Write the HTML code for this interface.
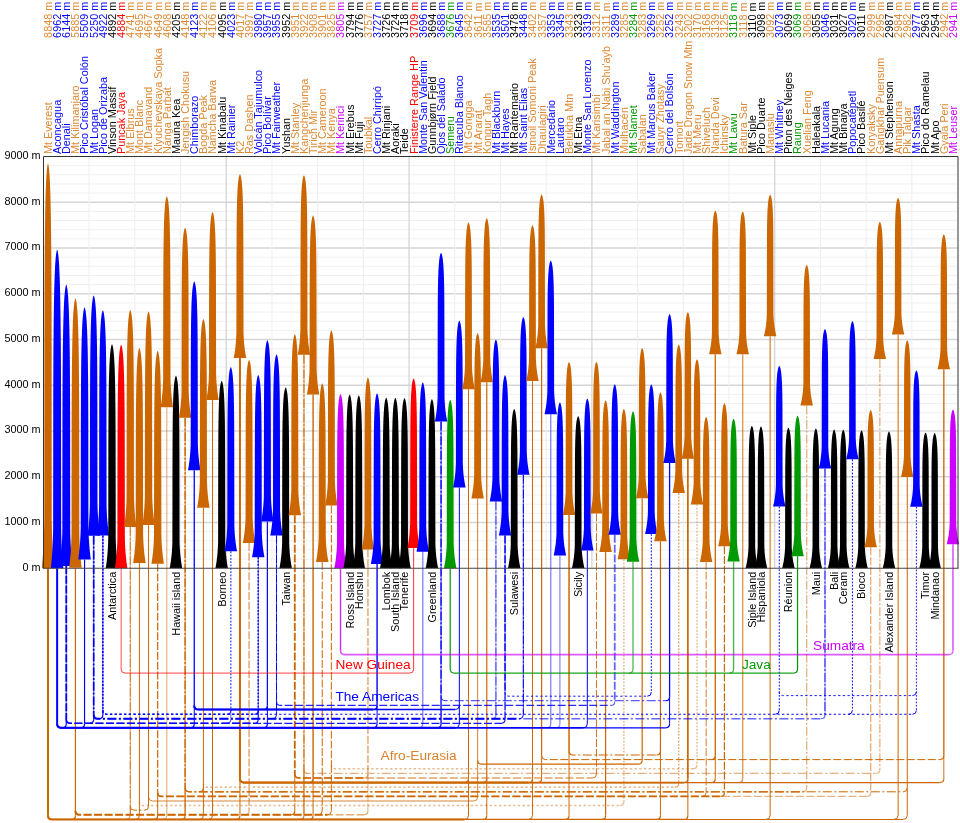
<!DOCTYPE html>
<html lang="en"><head><meta charset="utf-8"><title>100 most prominent mountains</title>
<style>html,body{margin:0;padding:0;background:#fff}svg{display:block}text{font-family:"Liberation Sans",Arial,Helvetica,sans-serif}.s{font-size:10.85px}.b{font-size:13.7px}</style></head><body>
<svg width="960" height="823" viewBox="0 0 960 823">
<rect width="960" height="823" fill="#fff"/>
<g fill="none"><path d="M43.5 559.1H958" stroke="#f0f0f0" stroke-width="1"/><path d="M43.5 549.95H958" stroke="#f0f0f0" stroke-width="1"/><path d="M43.5 540.8H958" stroke="#f0f0f0" stroke-width="1"/><path d="M43.5 531.65H958" stroke="#f0f0f0" stroke-width="1"/><path d="M43.5 522.5H958" stroke="#d6d6d6" stroke-width="1.3"/><path d="M43.5 513.35H958" stroke="#f0f0f0" stroke-width="1"/><path d="M43.5 504.2H958" stroke="#f0f0f0" stroke-width="1"/><path d="M43.5 495.05H958" stroke="#f0f0f0" stroke-width="1"/><path d="M43.5 485.9H958" stroke="#f0f0f0" stroke-width="1"/><path d="M43.5 476.75H958" stroke="#d6d6d6" stroke-width="1.3"/><path d="M43.5 467.6H958" stroke="#f0f0f0" stroke-width="1"/><path d="M43.5 458.45H958" stroke="#f0f0f0" stroke-width="1"/><path d="M43.5 449.3H958" stroke="#f0f0f0" stroke-width="1"/><path d="M43.5 440.15H958" stroke="#f0f0f0" stroke-width="1"/><path d="M43.5 431H958" stroke="#d6d6d6" stroke-width="1.3"/><path d="M43.5 421.85H958" stroke="#f0f0f0" stroke-width="1"/><path d="M43.5 412.7H958" stroke="#f0f0f0" stroke-width="1"/><path d="M43.5 403.55H958" stroke="#f0f0f0" stroke-width="1"/><path d="M43.5 394.4H958" stroke="#f0f0f0" stroke-width="1"/><path d="M43.5 385.25H958" stroke="#d6d6d6" stroke-width="1.3"/><path d="M43.5 376.1H958" stroke="#f0f0f0" stroke-width="1"/><path d="M43.5 366.95H958" stroke="#f0f0f0" stroke-width="1"/><path d="M43.5 357.8H958" stroke="#f0f0f0" stroke-width="1"/><path d="M43.5 348.65H958" stroke="#f0f0f0" stroke-width="1"/><path d="M43.5 339.5H958" stroke="#d6d6d6" stroke-width="1.3"/><path d="M43.5 330.35H958" stroke="#f0f0f0" stroke-width="1"/><path d="M43.5 321.2H958" stroke="#f0f0f0" stroke-width="1"/><path d="M43.5 312.05H958" stroke="#f0f0f0" stroke-width="1"/><path d="M43.5 302.9H958" stroke="#f0f0f0" stroke-width="1"/><path d="M43.5 293.75H958" stroke="#d6d6d6" stroke-width="1.3"/><path d="M43.5 284.6H958" stroke="#f0f0f0" stroke-width="1"/><path d="M43.5 275.45H958" stroke="#f0f0f0" stroke-width="1"/><path d="M43.5 266.3H958" stroke="#f0f0f0" stroke-width="1"/><path d="M43.5 257.15H958" stroke="#f0f0f0" stroke-width="1"/><path d="M43.5 248H958" stroke="#d6d6d6" stroke-width="1.3"/><path d="M43.5 238.85H958" stroke="#f0f0f0" stroke-width="1"/><path d="M43.5 229.7H958" stroke="#f0f0f0" stroke-width="1"/><path d="M43.5 220.55H958" stroke="#f0f0f0" stroke-width="1"/><path d="M43.5 211.4H958" stroke="#f0f0f0" stroke-width="1"/><path d="M43.5 202.25H958" stroke="#d6d6d6" stroke-width="1.3"/><path d="M43.5 193.1H958" stroke="#f0f0f0" stroke-width="1"/><path d="M43.5 183.95H958" stroke="#f0f0f0" stroke-width="1"/><path d="M43.5 174.8H958" stroke="#f0f0f0" stroke-width="1"/><path d="M43.5 165.65H958" stroke="#f0f0f0" stroke-width="1"/><path d="M89.13 156.5V568.25" stroke="#efefef" stroke-width="1.1"/><path d="M134.84 156.5V568.25" stroke="#efefef" stroke-width="1.1"/><path d="M180.54 156.5V568.25" stroke="#efefef" stroke-width="1.1"/><path d="M226.25 156.5V568.25" stroke="#d2d2d2" stroke-width="1.2"/><path d="M271.95 156.5V568.25" stroke="#efefef" stroke-width="1.1"/><path d="M317.66 156.5V568.25" stroke="#efefef" stroke-width="1.1"/><path d="M363.36 156.5V568.25" stroke="#efefef" stroke-width="1.1"/><path d="M409.07 156.5V568.25" stroke="#d2d2d2" stroke-width="1.2"/><path d="M454.77 156.5V568.25" stroke="#efefef" stroke-width="1.1"/><path d="M500.48 156.5V568.25" stroke="#efefef" stroke-width="1.1"/><path d="M546.18 156.5V568.25" stroke="#efefef" stroke-width="1.1"/><path d="M591.89 156.5V568.25" stroke="#d2d2d2" stroke-width="1.2"/><path d="M637.59 156.5V568.25" stroke="#efefef" stroke-width="1.1"/><path d="M683.3 156.5V568.25" stroke="#efefef" stroke-width="1.1"/><path d="M729 156.5V568.25" stroke="#efefef" stroke-width="1.1"/><path d="M774.71 156.5V568.25" stroke="#d2d2d2" stroke-width="1.2"/><path d="M820.41 156.5V568.25" stroke="#efefef" stroke-width="1.1"/><path d="M866.12 156.5V568.25" stroke="#efefef" stroke-width="1.1"/><path d="M911.82 156.5V568.25" stroke="#efefef" stroke-width="1.1"/></g>
<g fill="none" stroke-linecap="butt"><path d="M48 568.25V815.4" stroke="#cc6600" stroke-width="2"/><path d="M57.14 568.25V723.8" stroke="#0000ff" stroke-width="2"/><path d="M66.28 565.96V723.8" stroke="#0000ff" stroke-width="0.7"/><path d="M66.28 565.96V719.3" stroke="#0000ff" stroke-width="1.8" stroke-dasharray="8 1.8"/><path d="M66.28 719.3V723.8" stroke="#0000ff" stroke-width="1"/><path d="M66.28 723.8Q66.28 727.8 62.28 727.8" stroke="#0000ff" stroke-width="1.2"/><path d="M75.42 567.79V810.8" stroke="#cc6600" stroke-width="1.2"/><path d="M75.42 810.8V815.4" stroke="#cc6600" stroke-width="1"/><path d="M75.42 815.4Q75.42 819.4 71.42 819.4" stroke="#cc6600" stroke-width="1.2"/><path d="M84.56 559.51V723.8" stroke="#0000ff" stroke-width="1.2"/><path d="M84.56 723.8Q84.56 727.8 80.56 727.8" stroke="#0000ff" stroke-width="1.2"/><path d="M93.7 535.81V719.3" stroke="#0000ff" stroke-width="0.7"/><path d="M93.7 535.81V714.75" stroke="#0000ff" stroke-width="1.7" stroke-dasharray="9 1.8 2 1.8"/><path d="M93.7 714.75V719.3" stroke="#0000ff" stroke-width="1" stroke-dasharray="8 1.8"/><path d="M93.7 719.3Q93.7 723.3 89.7 723.3" stroke="#0000ff" stroke-width="1.2"/><path d="M102.85 535.58V714.75" stroke="#0000ff" stroke-width="0.7"/><path d="M102.85 535.58V710.25" stroke="#0000ff" stroke-width="1.6" stroke-dasharray="1.8 1.5"/><path d="M102.85 710.25V714.75" stroke="#0000ff" stroke-width="1" stroke-dasharray="9 1.8 2 1.8"/><path d="M102.85 714.75Q102.85 718.75 98.85 718.75" stroke="#0000ff" stroke-width="1.2"/><path d="M121.13 568.25V669.1" stroke="#ff0000" stroke-width="1" stroke-opacity="0.7"/><path d="M130.27 527.03V815.4" stroke="#cc6600" stroke-width="0.7" stroke-opacity="0.8"/><path d="M130.27 527.03V806.2" stroke="#cc6600" stroke-width="1" stroke-dasharray="9 1.8 2 1.8" stroke-opacity="0.8"/><path d="M130.27 806.2V815.4" stroke="#cc6600" stroke-width="1" stroke-opacity="0.8"/><path d="M130.27 815.4Q130.27 819.4 126.27 819.4" stroke="#cc6600" stroke-width="1" stroke-opacity="0.8"/><path d="M139.41 562.99V801.6" stroke="#cc6600" stroke-width="1"/><path d="M139.41 801.6V815.4" stroke="#cc6600" stroke-width="1"/><path d="M139.41 815.4Q139.41 819.4 135.41 819.4" stroke="#cc6600" stroke-width="1"/><path d="M148.55 525.11V797" stroke="#cc6600" stroke-width="1"/><path d="M148.55 797V806.2" stroke="#cc6600" stroke-width="1" stroke-dasharray="9 1.8 2 1.8"/><path d="M148.55 806.2Q148.55 810.2 144.55 810.2" stroke="#cc6600" stroke-width="1"/><path d="M157.69 563.63V792.4" stroke="#cc6600" stroke-width="1.2" stroke-dasharray="8 1.8"/><path d="M157.69 792.4V815.4" stroke="#cc6600" stroke-width="1"/><path d="M157.69 815.4Q157.69 819.4 153.69 819.4" stroke="#cc6600" stroke-width="1.2"/><path d="M166.83 407.35V815.4" stroke="#cc6600" stroke-width="1" stroke-opacity="0.6"/><path d="M166.83 815.4Q166.83 819.4 162.83 819.4" stroke="#cc6600" stroke-width="1" stroke-opacity="0.6"/><path d="M185.12 417.69V815.4" stroke="#cc6600" stroke-width="0.7"/><path d="M185.12 417.69V787.8" stroke="#cc6600" stroke-width="1.4" stroke-dasharray="9 1.8 2 1.8"/><path d="M185.12 787.8V815.4" stroke="#cc6600" stroke-width="1"/><path d="M185.12 815.4Q185.12 819.4 181.12 819.4" stroke="#cc6600" stroke-width="1.2"/><path d="M194.26 470.16V705.5" stroke="#0000ff" stroke-width="1.3"/><path d="M194.26 705.5V723.8" stroke="#0000ff" stroke-width="1"/><path d="M194.26 723.8Q194.26 727.8 190.26 727.8" stroke="#0000ff" stroke-width="1.2"/><path d="M203.4 507.72V783.2" stroke="#cc6600" stroke-width="1"/><path d="M203.4 783.2V815.4" stroke="#cc6600" stroke-width="1"/><path d="M203.4 787.8Q203.4 791.8 199.4 791.8" stroke="#cc6600" stroke-width="1"/><path d="M203.4 815.4Q203.4 819.4 199.4 819.4" stroke="#cc6600" stroke-width="1"/><path d="M212.54 400.07V815.4" stroke="#cc6600" stroke-width="1"/><path d="M212.54 815.4Q212.54 819.4 208.54 819.4" stroke="#cc6600" stroke-width="1"/><path d="M230.82 551.37V710.25" stroke="#0000ff" stroke-width="1.5" stroke-dasharray="1.8 1.5" stroke-opacity="0.65"/><path d="M230.82 710.25V719.3" stroke="#0000ff" stroke-width="1" stroke-dasharray="8 1.8" stroke-opacity="0.65"/><path d="M230.82 710.25Q230.82 714.25 226.82 714.25" stroke="#0000ff" stroke-width="1.2" stroke-opacity="0.65"/><path d="M230.82 719.3Q230.82 723.3 226.82 723.3" stroke="#0000ff" stroke-width="1.2" stroke-opacity="0.65"/><path d="M239.96 358.07V778.6" stroke="#cc6600" stroke-width="2"/><path d="M239.96 778.6V815.4" stroke="#cc6600" stroke-width="1"/><path d="M239.96 815.4Q239.96 819.4 235.96 819.4" stroke="#cc6600" stroke-width="1.2"/><path d="M249.1 542.95V810.8" stroke="#cc6600" stroke-width="1.7" stroke-dasharray="8 1.8" stroke-opacity="0.5"/><path d="M249.1 810.8Q249.1 814.8 245.1 814.8" stroke="#cc6600" stroke-width="1.2" stroke-opacity="0.5"/><path d="M258.24 557.27V719.3" stroke="#0000ff" stroke-width="0.7" stroke-opacity="0.9"/><path d="M258.24 557.27V710.25" stroke="#0000ff" stroke-width="1.5" stroke-dasharray="1.8 1.5" stroke-opacity="0.9"/><path d="M258.24 710.25V719.3" stroke="#0000ff" stroke-width="1" stroke-dasharray="8 1.8" stroke-opacity="0.9"/><path d="M258.24 710.25Q258.24 714.25 254.24 714.25" stroke="#0000ff" stroke-width="1.2" stroke-opacity="0.9"/><path d="M258.24 719.3Q258.24 723.3 254.24 723.3" stroke="#0000ff" stroke-width="1.2" stroke-opacity="0.9"/><path d="M267.38 521.4V705.5" stroke="#0000ff" stroke-width="1.2"/><path d="M267.38 705.5V723.8" stroke="#0000ff" stroke-width="1"/><path d="M267.38 705.5Q267.38 709.5 263.38 709.5" stroke="#0000ff" stroke-width="1.2"/><path d="M267.38 723.8Q267.38 727.8 263.38 727.8" stroke="#0000ff" stroke-width="1.2"/><path d="M276.52 535.49V714.75" stroke="#0000ff" stroke-width="0.7"/><path d="M276.52 535.49V701.4" stroke="#0000ff" stroke-width="1" stroke-dasharray="8 1.8"/><path d="M276.52 701.4V714.75" stroke="#0000ff" stroke-width="1" stroke-dasharray="9 1.8 2 1.8"/><path d="M276.52 714.75Q276.52 718.75 272.52 718.75" stroke="#0000ff" stroke-width="1"/><path d="M294.81 515.27V774" stroke="#cc6600" stroke-width="1.8" stroke-dasharray="8 1.8"/><path d="M294.81 774V810.8" stroke="#cc6600" stroke-width="1" stroke-dasharray="8 1.8"/><path d="M294.81 810.8Q294.81 814.8 290.81 814.8" stroke="#cc6600" stroke-width="1.2"/><path d="M303.95 354.87V815.4" stroke="#cc6600" stroke-width="2" stroke-opacity="0.35"/><path d="M303.95 354.87V769.4" stroke="#cc6600" stroke-width="1.1" stroke-dasharray="9 1.8 2 1.8" stroke-opacity="0.9"/><path d="M303.95 769.4V815.4" stroke="#cc6600" stroke-width="1" stroke-opacity="0.9"/><path d="M303.95 815.4Q303.95 819.4 299.95 819.4" stroke="#cc6600" stroke-width="1.1" stroke-opacity="0.9"/><path d="M313.09 394.4V778.6" stroke="#cc6600" stroke-width="1.4"/><path d="M313.09 778.6V815.4" stroke="#cc6600" stroke-width="1"/><path d="M313.09 778.6Q313.09 782.6 309.09 782.6" stroke="#cc6600" stroke-width="1.2"/><path d="M313.09 815.4Q313.09 819.4 309.09 819.4" stroke="#cc6600" stroke-width="1.2"/><path d="M322.23 561.89V810.8" stroke="#cc6600" stroke-width="1" stroke-dasharray="8 1.8"/><path d="M322.23 810.8Q322.23 814.8 318.23 814.8" stroke="#cc6600" stroke-width="1"/><path d="M331.37 505.39V764.8" stroke="#cc6600" stroke-width="1" stroke-dasharray="8 1.8"/><path d="M331.37 764.8V810.8" stroke="#cc6600" stroke-width="1" stroke-dasharray="8 1.8"/><path d="M331.37 810.8Q331.37 814.8 327.37 814.8" stroke="#cc6600" stroke-width="1"/><path d="M340.51 568.25V650.6" stroke="#cc00ff" stroke-width="1.4" stroke-opacity="0.85"/><path d="M367.94 549.49V774" stroke="#cc6600" stroke-width="1.5" stroke-dasharray="8 1.8" stroke-opacity="0.55"/><path d="M367.94 774V810.8" stroke="#cc6600" stroke-width="1" stroke-dasharray="8 1.8" stroke-opacity="0.55"/><path d="M367.94 774Q367.94 778 363.94 778" stroke="#cc6600" stroke-width="1.2" stroke-opacity="0.55"/><path d="M367.94 810.8Q367.94 814.8 363.94 814.8" stroke="#cc6600" stroke-width="1.2" stroke-opacity="0.55"/><path d="M377.08 564V705.5" stroke="#0000ff" stroke-width="1.4"/><path d="M377.08 705.5V723.8" stroke="#0000ff" stroke-width="1"/><path d="M377.08 705.5Q377.08 709.5 373.08 709.5" stroke="#0000ff" stroke-width="1.2"/><path d="M377.08 723.8Q377.08 727.8 373.08 727.8" stroke="#0000ff" stroke-width="1.2"/><path d="M413.64 548.07V669.1" stroke="#ff0000" stroke-width="1" stroke-opacity="0.8"/><path d="M413.64 669.1Q413.64 673.1 409.64 673.1" stroke="#ff0000" stroke-width="1" stroke-opacity="0.8"/><path d="M422.78 551.69V723.8" stroke="#0000ff" stroke-width="1.3" stroke-opacity="0.5"/><path d="M422.78 723.8Q422.78 727.8 418.78 727.8" stroke="#0000ff" stroke-width="1.2" stroke-opacity="0.5"/><path d="M441.06 421.62V723.8" stroke="#0000ff" stroke-width="0.7"/><path d="M441.06 421.62V696.7" stroke="#0000ff" stroke-width="1.3" stroke-dasharray="9 1.8 2 1.8"/><path d="M441.06 696.7V723.8" stroke="#0000ff" stroke-width="1"/><path d="M441.06 723.8Q441.06 727.8 437.06 727.8" stroke="#0000ff" stroke-width="1.2"/><path d="M450.2 568.25V669.1" stroke="#009900" stroke-width="1.2"/><path d="M459.35 487.5V705.5" stroke="#0000ff" stroke-width="1"/><path d="M459.35 705.5V723.8" stroke="#0000ff" stroke-width="1"/><path d="M459.35 705.5Q459.35 709.5 455.35 709.5" stroke="#0000ff" stroke-width="1"/><path d="M459.35 723.8Q459.35 727.8 455.35 727.8" stroke="#0000ff" stroke-width="1"/><path d="M468.49 389.18V778.6" stroke="#cc6600" stroke-width="1"/><path d="M468.49 778.6V815.4" stroke="#cc6600" stroke-width="1"/><path d="M468.49 778.6Q468.49 782.6 464.49 782.6" stroke="#cc6600" stroke-width="1"/><path d="M468.49 815.4Q468.49 819.4 464.49 819.4" stroke="#cc6600" stroke-width="1"/><path d="M477.63 498.44V760.2" stroke="#cc6600" stroke-width="1" stroke-opacity="0.8"/><path d="M477.63 760.2V797" stroke="#cc6600" stroke-width="1" stroke-opacity="0.8"/><path d="M477.63 797Q477.63 801 473.63 801" stroke="#cc6600" stroke-width="1" stroke-opacity="0.8"/><path d="M486.77 382.32V778.6" stroke="#cc6600" stroke-width="1.2"/><path d="M486.77 778.6V815.4" stroke="#cc6600" stroke-width="1"/><path d="M486.77 778.6Q486.77 782.6 482.77 782.6" stroke="#cc6600" stroke-width="1.2"/><path d="M486.77 815.4Q486.77 819.4 482.77 819.4" stroke="#cc6600" stroke-width="1.2"/><path d="M495.91 501.41V714.75" stroke="#0000ff" stroke-width="0.7" stroke-opacity="0.5"/><path d="M495.91 501.41V714.75" stroke="#0000ff" stroke-width="1.5" stroke-dasharray="9 1.8 2 1.8" stroke-opacity="0.5"/><path d="M495.91 714.75Q495.91 718.75 491.91 718.75" stroke="#0000ff" stroke-width="1.2" stroke-opacity="0.5"/><path d="M505.05 535.54V719.3" stroke="#0000ff" stroke-width="0.7" stroke-opacity="0.9"/><path d="M505.05 535.54V692.2" stroke="#0000ff" stroke-width="1.6" stroke-dasharray="8 1.8" stroke-opacity="0.9"/><path d="M505.05 692.2V719.3" stroke="#0000ff" stroke-width="1" stroke-dasharray="8 1.8" stroke-opacity="0.9"/><path d="M505.05 719.3Q505.05 723.3 501.05 723.3" stroke="#0000ff" stroke-width="1.2" stroke-opacity="0.9"/><path d="M523.33 474.87V714.75" stroke="#0000ff" stroke-width="0.7"/><path d="M523.33 474.87V714.75" stroke="#0000ff" stroke-width="1" stroke-dasharray="9 1.8 2 1.8"/><path d="M523.33 714.75Q523.33 718.75 519.33 718.75" stroke="#0000ff" stroke-width="1"/><path d="M532.47 381V778.6" stroke="#cc6600" stroke-width="1"/><path d="M532.47 778.6V815.4" stroke="#cc6600" stroke-width="1"/><path d="M532.47 778.6Q532.47 782.6 528.47 782.6" stroke="#cc6600" stroke-width="1"/><path d="M532.47 815.4Q532.47 819.4 528.47 819.4" stroke="#cc6600" stroke-width="1"/><path d="M541.61 348.19V755.6" stroke="#cc6600" stroke-width="1.2"/><path d="M541.61 755.6V778.6" stroke="#cc6600" stroke-width="1"/><path d="M541.61 778.6Q541.61 782.6 537.61 782.6" stroke="#cc6600" stroke-width="1.2"/><path d="M550.75 414.21V723.8" stroke="#0000ff" stroke-width="1.3" stroke-opacity="0.5"/><path d="M550.75 723.8Q550.75 727.8 546.75 727.8" stroke="#0000ff" stroke-width="1.2" stroke-opacity="0.5"/><path d="M559.9 555.53V723.8" stroke="#0000ff" stroke-width="1.3" stroke-opacity="0.45"/><path d="M559.9 723.8Q559.9 727.8 555.9 727.8" stroke="#0000ff" stroke-width="1.2" stroke-opacity="0.45"/><path d="M569.04 515.04V751" stroke="#cc6600" stroke-width="1.5"/><path d="M569.04 751V815.4" stroke="#cc6600" stroke-width="1"/><path d="M569.04 815.4Q569.04 819.4 565.04 819.4" stroke="#cc6600" stroke-width="1.2"/><path d="M587.32 550.54V723.8" stroke="#0000ff" stroke-width="1"/><path d="M587.32 723.8Q587.32 727.8 583.32 727.8" stroke="#0000ff" stroke-width="1"/><path d="M596.46 513.58V774" stroke="#cc6600" stroke-width="1" stroke-dasharray="8 1.8" stroke-opacity="0.9"/><path d="M596.46 774Q596.46 778 592.46 778" stroke="#cc6600" stroke-width="1" stroke-opacity="0.9"/><path d="M605.6 552.01V815.4" stroke="#cc6600" stroke-width="1.2"/><path d="M605.6 815.4Q605.6 819.4 601.6 819.4" stroke="#cc6600" stroke-width="1.2"/><path d="M614.74 534.85V701.4" stroke="#0000ff" stroke-width="1.8" stroke-dasharray="8 1.8" stroke-opacity="0.6"/><path d="M614.74 701.4Q614.74 705.4 610.74 705.4" stroke="#0000ff" stroke-width="1.2" stroke-opacity="0.6"/><path d="M623.88 559.37V801.6" stroke="#cc6600" stroke-width="1.5" stroke-dasharray="1.8 1.5" stroke-opacity="0.45"/><path d="M623.88 801.6Q623.88 805.6 619.88 805.6" stroke="#cc6600" stroke-width="1.2" stroke-opacity="0.45"/><path d="M633.02 561.66V669.1" stroke="#009900" stroke-width="1.3" stroke-opacity="0.7"/><path d="M633.02 669.1Q633.02 673.1 629.02 673.1" stroke="#009900" stroke-width="1.2" stroke-opacity="0.7"/><path d="M642.16 498.34V760.2" stroke="#cc6600" stroke-width="1.2"/><path d="M642.16 760.2Q642.16 764.2 638.16 764.2" stroke="#cc6600" stroke-width="1.2"/><path d="M651.31 534.07V692.2" stroke="#0000ff" stroke-width="1" stroke-dasharray="1.8 1.5"/><path d="M651.31 692.2Q651.31 696.2 647.31 696.2" stroke="#0000ff" stroke-width="1"/><path d="M660.45 541.35V751" stroke="#cc6600" stroke-width="1.2"/><path d="M660.45 751V815.4" stroke="#cc6600" stroke-width="1"/><path d="M660.45 751Q660.45 755 656.45 755" stroke="#cc6600" stroke-width="1.2"/><path d="M660.45 815.4Q660.45 819.4 656.45 819.4" stroke="#cc6600" stroke-width="1.2"/><path d="M669.59 463.02V696.7" stroke="#0000ff" stroke-width="1.3"/><path d="M669.59 696.7V723.8" stroke="#0000ff" stroke-width="1"/><path d="M669.59 696.7Q669.59 700.7 665.59 700.7" stroke="#0000ff" stroke-width="1.2"/><path d="M669.59 723.8Q669.59 727.8 665.59 727.8" stroke="#0000ff" stroke-width="1.2"/><path d="M678.73 493.08V783.2" stroke="#cc6600" stroke-width="1.3" stroke-dasharray="1.8 1.5" stroke-opacity="0.6"/><path d="M678.73 783.2Q678.73 787.2 674.73 787.2" stroke="#cc6600" stroke-width="1.2" stroke-opacity="0.6"/><path d="M687.87 458.72V778.6" stroke="#cc6600" stroke-width="1.7"/><path d="M687.87 778.6V815.4" stroke="#cc6600" stroke-width="1"/><path d="M687.87 778.6Q687.87 782.6 683.87 782.6" stroke="#cc6600" stroke-width="1.2"/><path d="M687.87 815.4Q687.87 819.4 683.87 819.4" stroke="#cc6600" stroke-width="1.2"/><path d="M697.01 504.43V764.8" stroke="#cc6600" stroke-width="1.4" stroke-dasharray="1.8 1.5" stroke-opacity="0.45"/><path d="M697.01 764.8Q697.01 768.8 693.01 768.8" stroke="#cc6600" stroke-width="1.2" stroke-opacity="0.45"/><path d="M706.15 561.89V792.4" stroke="#cc6600" stroke-width="1" stroke-dasharray="8 1.8" stroke-opacity="0.85"/><path d="M706.15 792.4Q706.15 796.4 702.15 796.4" stroke="#cc6600" stroke-width="1" stroke-opacity="0.85"/><path d="M715.29 354.28V755.6" stroke="#cc6600" stroke-width="1.3"/><path d="M715.29 755.6V778.6" stroke="#cc6600" stroke-width="1"/><path d="M715.29 755.6Q715.29 759.6 711.29 759.6" stroke="#cc6600" stroke-width="1.2"/><path d="M715.29 778.6Q715.29 782.6 711.29 782.6" stroke="#cc6600" stroke-width="1.2"/><path d="M724.43 546.2V792.4" stroke="#cc6600" stroke-width="1.2" stroke-dasharray="8 1.8"/><path d="M724.43 792.4Q724.43 796.4 720.43 796.4" stroke="#cc6600" stroke-width="1.2"/><path d="M733.58 561.52V669.1" stroke="#009900" stroke-width="1.4" stroke-opacity="0.7"/><path d="M733.58 669.1Q733.58 673.1 729.58 673.1" stroke="#009900" stroke-width="1.2" stroke-opacity="0.7"/><path d="M742.72 354.28V778.6" stroke="#cc6600" stroke-width="1.3" stroke-opacity="0.7"/><path d="M742.72 778.6Q742.72 782.6 738.72 782.6" stroke="#cc6600" stroke-width="1.2" stroke-opacity="0.7"/><path d="M770.14 336.25V815.4" stroke="#cc6600" stroke-width="1"/><path d="M770.14 815.4Q770.14 819.4 766.14 819.4" stroke="#cc6600" stroke-width="1"/><path d="M779.28 506.58V691.6" stroke="#0000ff" stroke-width="1" stroke-dasharray="1.8 1.5"/><path d="M779.28 691.6V710.25" stroke="#0000ff" stroke-width="1" stroke-dasharray="1.8 1.5"/><path d="M779.28 710.25Q779.28 714.25 775.28 714.25" stroke="#0000ff" stroke-width="1"/><path d="M797.56 556.22V669.1" stroke="#009900" stroke-width="1.2"/><path d="M797.56 669.1Q797.56 673.1 793.56 673.1" stroke="#009900" stroke-width="1.2"/><path d="M806.7 405.43V787.8" stroke="#cc6600" stroke-width="1.3" stroke-dasharray="9 1.8 2 1.8" stroke-opacity="0.5"/><path d="M806.7 787.8Q806.7 791.8 802.7 791.8" stroke="#cc6600" stroke-width="1.2" stroke-opacity="0.5"/><path d="M824.99 468.51V714.75" stroke="#0000ff" stroke-width="0.7" stroke-opacity="0.6"/><path d="M824.99 468.51V714.75" stroke="#0000ff" stroke-width="1.5" stroke-dasharray="9 1.8 2 1.8" stroke-opacity="0.6"/><path d="M824.99 714.75Q824.99 718.75 820.99 718.75" stroke="#0000ff" stroke-width="1.2" stroke-opacity="0.6"/><path d="M852.41 459.37V710.25" stroke="#0000ff" stroke-width="1" stroke-dasharray="1.8 1.5"/><path d="M852.41 710.25Q852.41 714.25 848.41 714.25" stroke="#0000ff" stroke-width="1"/><path d="M870.69 547.34V792.4" stroke="#cc6600" stroke-width="1.4" stroke-dasharray="8 1.8" stroke-opacity="0.5"/><path d="M870.69 792.4Q870.69 796.4 866.69 796.4" stroke="#cc6600" stroke-width="1.2" stroke-opacity="0.5"/><path d="M879.83 358.94V769.4" stroke="#cc6600" stroke-width="1.5" stroke-dasharray="9 1.8 2 1.8" stroke-opacity="0.45"/><path d="M879.83 769.4Q879.83 773.4 875.83 773.4" stroke="#cc6600" stroke-width="1.2" stroke-opacity="0.45"/><path d="M898.11 334.6V815.4" stroke="#cc6600" stroke-width="1"/><path d="M898.11 815.4Q898.11 819.4 894.11 819.4" stroke="#cc6600" stroke-width="1"/><path d="M907.25 476.89V787.8" stroke="#cc6600" stroke-width="1"/><path d="M907.25 787.8V815.4" stroke="#cc6600" stroke-width="1"/><path d="M907.25 787.8Q907.25 791.8 903.25 791.8" stroke="#cc6600" stroke-width="1"/><path d="M907.25 815.4Q907.25 819.4 903.25 819.4" stroke="#cc6600" stroke-width="1"/><path d="M916.39 506.72V691.6" stroke="#0000ff" stroke-width="0.9" stroke-dasharray="1.8 1.5"/><path d="M916.39 691.6V710.25" stroke="#0000ff" stroke-width="0.9" stroke-dasharray="1.8 1.5"/><path d="M916.39 691.6Q916.39 695.6 912.39 695.6" stroke="#0000ff" stroke-width="0.9"/><path d="M916.39 710.25Q916.39 714.25 912.39 714.25" stroke="#0000ff" stroke-width="0.9"/><path d="M943.82 369.15V755.6" stroke="#cc6600" stroke-width="1.5" stroke-opacity="0.9"/><path d="M943.82 755.6V778.6" stroke="#cc6600" stroke-width="1" stroke-opacity="0.9"/><path d="M943.82 755.6Q943.82 759.6 939.82 759.6" stroke="#cc6600" stroke-width="1.2" stroke-opacity="0.9"/><path d="M943.82 778.6Q943.82 782.6 939.82 782.6" stroke="#cc6600" stroke-width="1.2" stroke-opacity="0.9"/><path d="M952.96 544.23V650.6" stroke="#cc00ff" stroke-width="1.6" stroke-opacity="0.65"/><path d="M952.96 650.6Q952.96 654.6 948.96 654.6" stroke="#cc00ff" stroke-width="1.2" stroke-opacity="0.65"/><path d="M48 815.4Q48 819.4 52 819.4H903.25" stroke="#cc6600" stroke-width="1.05"/><path d="M48 815.4Q48 819.4 52 819.4H683.87" stroke="#cc6600" stroke-width="1.35"/><path d="M48 815.4Q48 819.4 52 819.4H464.49" stroke="#cc6600" stroke-width="2"/><path d="M75.42 810.8Q75.42 814.8 79.42 814.8H363.94" stroke="#cc6600" stroke-width="1.5" stroke-dasharray="8 2.5" stroke-opacity="0.55"/><path d="M75.42 810.8Q75.42 814.8 79.42 814.8H327.37" stroke="#cc6600" stroke-width="2" stroke-dasharray="8 2.5"/><path d="M130.27 806.2Q130.27 810.2 134.27 810.2H144.55" stroke="#cc6600" stroke-width="1" stroke-dasharray="9 2.5 2 2.5"/><path d="M139.41 801.6Q139.41 805.6 143.41 805.6H619.88" stroke="#cc6600" stroke-width="1.5" stroke-dasharray="2.3 2.4" stroke-opacity="0.45"/><path d="M148.55 797Q148.55 801 152.55 801H473.63" stroke="#cc6600" stroke-width="1" stroke-opacity="0.8"/><path d="M157.69 792.4Q157.69 796.4 161.69 796.4H866.69" stroke="#cc6600" stroke-width="1.4" stroke-dasharray="8 2.5" stroke-opacity="0.5"/><path d="M157.69 792.4Q157.69 796.4 161.69 796.4H720.43" stroke="#cc6600" stroke-width="1.6" stroke-dasharray="8 2.5"/><path d="M185.12 787.8Q185.12 791.8 189.12 791.8H903.25" stroke="#cc6600" stroke-width="1" stroke-dasharray="9 2.5 2 2.5"/><path d="M185.12 787.8Q185.12 791.8 189.12 791.8H802.7" stroke="#cc6600" stroke-width="1.3" stroke-dasharray="9 2.5 2 2.5"/><path d="M203.4 783.2Q203.4 787.2 207.4 787.2H674.73" stroke="#cc6600" stroke-width="1.3" stroke-dasharray="2.3 2.4" stroke-opacity="0.6"/><path d="M239.96 778.6Q239.96 782.6 243.96 782.6H939.82" stroke="#cc6600" stroke-width="1.2"/><path d="M239.96 778.6Q239.96 782.6 243.96 782.6H683.87" stroke="#cc6600" stroke-width="1.6"/><path d="M239.96 778.6Q239.96 782.6 243.96 782.6H528.47" stroke="#cc6600" stroke-width="2"/><path d="M294.81 774Q294.81 778 298.81 778H592.46" stroke="#cc6600" stroke-width="1" stroke-dasharray="8 2.5" stroke-opacity="0.9"/><path d="M294.81 774Q294.81 778 298.81 778H363.94" stroke="#cc6600" stroke-width="1.5" stroke-dasharray="8 2.5"/><path d="M303.95 769.4Q303.95 773.4 307.95 773.4H875.83" stroke="#cc6600" stroke-width="1.4" stroke-dasharray="9 2.5 2 2.5" stroke-opacity="0.5"/><path d="M331.37 764.8Q331.37 768.8 335.37 768.8H693.01" stroke="#cc6600" stroke-width="1.4" stroke-dasharray="2.3 2.4" stroke-opacity="0.45"/><path d="M477.63 760.2Q477.63 764.2 481.63 764.2H638.16" stroke="#cc6600" stroke-width="1.2"/><path d="M541.61 755.6Q541.61 759.6 545.61 759.6H939.82" stroke="#cc6600" stroke-width="1" stroke-dasharray="8 2.5"/><path d="M569.04 751Q569.04 755 573.04 755H656.45" stroke="#cc6600" stroke-width="1.2" stroke-dasharray="9 2.5 2 2.5"/><path d="M57.14 723.8Q57.14 727.8 61.14 727.8H665.59" stroke="#0000ff" stroke-width="1.3"/><path d="M57.14 723.8Q57.14 727.8 61.14 727.8H583.32" stroke="#0000ff" stroke-width="1.5"/><path d="M57.14 723.8Q57.14 727.8 61.14 727.8H455.35" stroke="#0000ff" stroke-width="2"/><path d="M66.28 719.3Q66.28 723.3 70.28 723.3H501.05" stroke="#0000ff" stroke-width="1.2" stroke-dasharray="8 2.5" stroke-opacity="0.9"/><path d="M66.28 719.3Q66.28 723.3 70.28 723.3H254.24" stroke="#0000ff" stroke-width="1.6" stroke-dasharray="8 2.5"/><path d="M93.7 714.75Q93.7 718.75 97.7 718.75H820.99" stroke="#0000ff" stroke-width="1.5" stroke-dasharray="9 2.5 2 2.5" stroke-opacity="0.6"/><path d="M93.7 714.75Q93.7 718.75 97.7 718.75H519.33" stroke="#0000ff" stroke-width="2" stroke-dasharray="9 2.5 2 2.5"/><path d="M102.85 710.25Q102.85 714.25 106.85 714.25H912.39" stroke="#0000ff" stroke-width="1" stroke-dasharray="2.3 2.4"/><path d="M102.85 710.25Q102.85 714.25 106.85 714.25H254.24" stroke="#0000ff" stroke-width="1.3" stroke-dasharray="2.3 2.4"/><path d="M194.26 705.5Q194.26 709.5 198.26 709.5H455.35" stroke="#0000ff" stroke-width="1.3"/><path d="M194.26 705.5Q194.26 709.5 198.26 709.5H373.08" stroke="#0000ff" stroke-width="2"/><path d="M276.52 701.4Q276.52 705.4 280.52 705.4H610.74" stroke="#0000ff" stroke-width="1.1" stroke-dasharray="8 2.5" stroke-opacity="0.85"/><path d="M441.06 696.7Q441.06 700.7 445.06 700.7H665.59" stroke="#0000ff" stroke-width="1" stroke-dasharray="9 2.5 2 2.5" stroke-opacity="0.8"/><path d="M505.05 692.2Q505.05 696.2 509.05 696.2H647.31" stroke="#0000ff" stroke-width="0.9" stroke-dasharray="2.3 2.4"/><path d="M779.28 691.6Q779.28 695.6 783.28 695.6H912.39" stroke="#0000ff" stroke-width="0.9" stroke-dasharray="2.3 2.4"/><path d="M121.13 669.1Q121.13 673.1 125.13 673.1H409.64" stroke="#ff0000" stroke-width="1" stroke-opacity="0.75"/><path d="M450.2 669.1Q450.2 673.1 454.2 673.1H793.56" stroke="#009900" stroke-width="1.15" stroke-opacity="0.9"/><path d="M340.51 650.6Q340.51 654.6 344.51 654.6H948.96" stroke="#cc00ff" stroke-width="1.6" stroke-opacity="0.65"/></g>
<g><path d="M48.2 163.45L48.43 164.67L48.65 165.88L48.85 167.5L49.1 169.53L49.31 172.36L49.56 175.6L49.72 178.43L49.91 181.67L50.06 185.72L50.22 189.77L50.37 194.62L50.53 199.89L50.66 205.96L50.79 212.03L50.91 220.13L51.06 230.25L51.16 240.37L51.29 252.51L51.38 268.7L51.48 284.89L51.55 313.23L51.62 345.61L51.66 406.33L51.7 467.05L51.73 519.77L51.81 524.62L51.91 529.47L52.05 534.31L52.24 539.16L52.46 544.01L52.72 548.86L53.03 553.71L53.39 558.55L53.8 563.4L54.25 568.25L41.75 568.25L42.2 563.4L42.61 558.55L42.97 553.71L43.28 548.86L43.54 544.01L43.76 539.16L43.95 534.31L44.09 529.47L44.19 524.62L44.27 519.77L44.3 467.05L44.34 406.33L44.38 345.61L44.45 313.23L44.52 284.89L44.62 268.7L44.71 252.51L44.84 240.37L44.94 230.25L45.09 220.13L45.21 212.03L45.34 205.96L45.47 199.89L45.63 194.62L45.78 189.77L45.94 185.72L46.09 181.67L46.28 178.43L46.44 175.6L46.69 172.36L46.9 169.53L47.15 167.5L47.35 165.88L47.57 164.67L47.8 163.45Z" fill="#cc6600"/><path d="M57.34 249.74L57.57 250.69L57.79 251.65L57.99 252.92L58.25 254.52L58.46 256.75L58.71 259.29L58.87 261.52L59.07 264.07L59.23 267.26L59.39 270.44L59.54 274.26L59.71 278.4L59.86 283.18L60 287.96L60.13 294.33L60.3 302.29L60.42 310.26L60.57 319.81L60.69 332.55L60.82 345.29L60.95 367.59L61.04 393.07L61.08 440.85L61.12 488.62L61.15 528.4L61.22 532.38L61.32 536.37L61.44 540.35L61.6 544.34L61.8 548.32L62.04 552.31L62.31 556.29L62.63 560.28L62.99 564.26L63.39 568.25L50.89 568.25L51.29 564.26L51.65 560.28L51.97 556.29L52.25 552.31L52.48 548.32L52.68 544.34L52.84 540.35L52.97 536.37L53.06 532.38L53.13 528.4L53.16 488.62L53.2 440.85L53.24 393.07L53.34 367.59L53.46 345.29L53.59 332.55L53.71 319.81L53.86 310.26L53.98 302.29L54.15 294.33L54.28 287.96L54.43 283.18L54.57 278.4L54.74 274.26L54.89 270.44L55.05 267.26L55.21 264.07L55.41 261.52L55.58 259.29L55.82 256.75L56.04 254.52L56.29 252.92L56.49 251.65L56.72 250.69L56.94 249.74Z" fill="#0000ff"/><path d="M66.48 284.87L66.71 285.72L66.93 286.56L67.13 287.69L67.39 289.09L67.6 291.06L67.84 293.31L68.01 295.27L68.21 297.52L68.36 300.33L68.52 303.15L68.68 306.52L68.84 310.17L68.98 314.39L69.12 318.61L69.26 324.23L69.42 331.25L69.54 338.28L69.68 346.71L69.79 357.96L69.91 369.2L70.03 388.88L70.12 411.36L70.16 453.53L70.2 495.69L70.23 529.85L70.3 533.46L70.39 537.08L70.52 540.69L70.69 544.3L70.89 547.91L71.14 551.52L71.42 555.13L71.75 558.74L72.12 562.35L72.53 565.96L60.03 565.96L60.45 562.35L60.82 558.74L61.14 555.13L61.43 551.52L61.67 547.91L61.87 544.3L62.04 540.69L62.17 537.08L62.27 533.46L62.33 529.85L62.37 495.69L62.41 453.53L62.45 411.36L62.53 388.88L62.65 369.2L62.77 357.96L62.89 346.71L63.03 338.28L63.14 331.25L63.31 324.23L63.44 318.61L63.58 314.39L63.72 310.17L63.89 306.52L64.04 303.15L64.2 300.33L64.36 297.52L64.55 295.27L64.72 293.31L64.96 291.06L65.18 289.09L65.43 287.69L65.63 286.56L65.86 285.72L66.08 284.87Z" fill="#0000ff"/><path d="M75.62 298.55L75.85 299.36L76.07 300.17L76.28 301.25L76.53 302.59L76.74 304.48L76.98 306.63L77.15 308.52L77.34 310.67L77.5 313.36L77.66 316.05L77.81 319.29L77.98 322.79L78.12 326.82L78.26 330.86L78.38 336.25L78.55 342.98L78.66 349.71L78.8 357.79L78.91 368.56L79.02 379.33L79.13 398.17L79.22 419.71L79.26 460.1L79.3 500.48L79.33 532.87L79.4 536.36L79.5 539.85L79.63 543.35L79.8 546.84L80 550.33L80.25 553.82L80.54 557.32L80.87 560.81L81.25 564.3L81.67 567.79L69.17 567.79L69.6 564.3L69.97 560.81L70.31 557.32L70.59 553.82L70.84 550.33L71.05 546.84L71.22 543.35L71.35 539.85L71.45 536.36L71.52 532.87L71.55 500.48L71.59 460.1L71.63 419.71L71.71 398.17L71.82 379.33L71.94 368.56L72.05 357.79L72.19 349.71L72.3 342.98L72.46 336.25L72.59 330.86L72.73 326.82L72.87 322.79L73.03 319.29L73.19 316.05L73.34 313.36L73.5 310.67L73.69 308.52L73.86 306.63L74.11 304.48L74.32 302.59L74.57 301.25L74.77 300.17L75 299.36L75.22 298.55Z" fill="#cc6600"/><path d="M84.76 307.48L84.99 308.23L85.21 308.99L85.42 310L85.67 311.26L85.88 313.02L86.12 315.04L86.29 316.8L86.48 318.82L86.64 321.34L86.79 323.86L86.94 326.88L87.11 330.16L87.25 333.94L87.38 337.72L87.51 342.76L87.67 349.06L87.78 355.36L87.91 362.92L88.01 373L88.12 383.09L88.22 400.73L88.3 420.89L88.33 458.7L88.37 496.5L88.4 526.31L88.48 529.63L88.58 532.95L88.71 536.27L88.89 539.59L89.1 542.91L89.35 546.23L89.65 549.55L89.99 552.87L90.38 556.19L90.81 559.51L78.31 559.51L78.75 556.19L79.14 552.87L79.48 549.55L79.77 546.23L80.03 542.91L80.24 539.59L80.42 536.27L80.55 532.95L80.65 529.63L80.72 526.31L80.75 496.5L80.79 458.7L80.83 420.89L80.91 400.73L81.01 383.09L81.11 373L81.22 362.92L81.35 355.36L81.46 349.06L81.62 342.76L81.75 337.72L81.88 333.94L82.02 330.16L82.18 326.88L82.33 323.86L82.49 321.34L82.65 318.82L82.84 316.8L83 315.04L83.25 313.02L83.46 311.26L83.71 310L83.91 308.99L84.14 308.23L84.36 307.48Z" fill="#0000ff"/><path d="M93.91 295.63L94.13 296.35L94.36 297.07L94.56 298.03L94.81 299.23L95.02 300.91L95.26 302.83L95.43 304.51L95.62 306.43L95.77 308.84L95.93 311.24L96.08 314.12L96.24 317.24L96.38 320.85L96.51 324.45L96.64 329.25L96.79 335.26L96.9 341.26L97.03 348.47L97.13 358.07L97.23 367.68L97.32 384.5L97.39 403.71L97.43 439.74L97.47 475.77L97.5 503.79L97.57 507L97.67 510.2L97.81 513.4L97.99 516.6L98.21 519.8L98.47 523.01L98.77 526.21L99.12 529.41L99.51 532.61L99.95 535.81L87.45 535.81L87.9 532.61L88.29 529.41L88.64 526.21L88.94 523.01L89.2 519.8L89.42 516.6L89.6 513.4L89.74 510.2L89.84 507L89.91 503.79L89.94 475.77L89.98 439.74L90.02 403.71L90.09 384.5L90.18 367.68L90.28 358.07L90.38 348.47L90.51 341.26L90.62 335.26L90.77 329.25L90.9 324.45L91.03 320.85L91.17 317.24L91.33 314.12L91.48 311.24L91.64 308.84L91.79 306.43L91.98 304.51L92.15 302.83L92.39 300.91L92.6 299.23L92.85 298.03L93.05 297.07L93.28 296.35L93.5 295.63Z" fill="#0000ff"/><path d="M103.05 310.4L103.27 311.08L103.5 311.75L103.7 312.65L103.95 313.78L104.16 315.36L104.4 317.16L104.57 318.73L104.76 320.54L104.91 322.79L105.06 325.04L105.21 327.74L105.38 330.67L105.51 334.05L105.64 337.42L105.76 341.93L105.91 347.56L106.01 353.19L106.14 359.94L106.23 368.95L106.33 377.96L106.41 393.72L106.47 411.73L106.51 445.51L106.55 479.29L106.58 505.07L106.65 508.12L106.76 511.17L106.9 514.22L107.08 517.27L107.3 520.33L107.57 523.38L107.88 526.43L108.24 529.48L108.64 532.53L109.1 535.58L96.6 535.58L97.05 532.53L97.45 529.48L97.81 526.43L98.12 523.38L98.39 520.33L98.61 517.27L98.79 514.22L98.93 511.17L99.04 508.12L99.11 505.07L99.14 479.29L99.18 445.51L99.22 411.73L99.29 393.72L99.37 377.96L99.46 368.95L99.55 359.94L99.68 353.19L99.78 347.56L99.93 341.93L100.05 337.42L100.19 334.05L100.32 330.67L100.48 327.74L100.63 325.04L100.78 322.79L100.93 320.54L101.12 318.73L101.29 317.16L101.53 315.36L101.74 313.78L101.99 312.65L102.2 311.75L102.42 311.08L102.65 310.4Z" fill="#0000ff"/><path d="M112.19 344.44L112.41 345.11L112.64 345.78L112.84 346.68L113.09 347.8L113.3 349.36L113.54 351.16L113.71 352.72L113.9 354.51L114.05 356.75L114.2 358.99L114.35 361.67L114.52 364.58L114.65 367.94L114.78 371.3L114.9 375.77L115.05 381.37L115.15 386.96L115.28 393.68L115.37 402.63L115.46 411.58L115.54 427.25L115.61 445.16L115.65 478.73L115.69 512.3L115.71 537.87L115.79 540.91L115.89 543.95L116.04 546.98L116.22 550.02L116.44 553.06L116.71 556.1L117.02 559.14L117.38 562.17L117.78 565.21L118.24 568.25L105.74 568.25L106.19 565.21L106.6 562.17L106.96 559.14L107.27 556.1L107.53 553.06L107.76 550.02L107.94 546.98L108.08 543.95L108.19 540.91L108.26 537.87L108.29 512.3L108.33 478.73L108.36 445.16L108.43 427.25L108.51 411.58L108.61 402.63L108.7 393.68L108.82 386.96L108.92 381.37L109.08 375.77L109.2 371.3L109.33 367.94L109.46 364.58L109.62 361.67L109.77 358.99L109.92 356.75L110.08 354.51L110.27 352.72L110.43 351.16L110.67 349.36L110.88 347.8L111.14 346.68L111.34 345.78L111.56 345.11L111.79 344.44Z" fill="#000000"/><path d="M121.33 344.81L121.55 345.48L121.78 346.15L121.98 347.04L122.23 348.16L122.44 349.72L122.68 351.51L122.85 353.07L123.04 354.86L123.19 357.1L123.35 359.33L123.49 362.01L123.66 364.92L123.79 368.27L123.92 371.62L124.04 376.09L124.19 381.68L124.29 387.26L124.42 393.96L124.51 402.9L124.6 411.84L124.68 427.48L124.75 445.36L124.79 478.87L124.82 512.39L124.85 537.91L124.93 540.94L125.03 543.97L125.18 547.01L125.36 550.04L125.58 553.08L125.85 556.11L126.16 559.15L126.52 562.18L126.92 565.22L127.38 568.25L114.88 568.25L115.33 565.22L115.74 562.18L116.1 559.15L116.41 556.11L116.68 553.08L116.9 550.04L117.08 547.01L117.22 543.97L117.33 540.94L117.4 537.91L117.43 512.39L117.47 478.87L117.51 445.36L117.58 427.48L117.65 411.84L117.75 402.9L117.84 393.96L117.96 387.26L118.07 381.68L118.22 376.09L118.34 371.62L118.47 368.27L118.6 364.92L118.76 362.01L118.91 359.33L119.06 357.1L119.22 354.86L119.41 353.07L119.57 351.51L119.81 349.72L120.03 348.16L120.28 347.04L120.48 346.15L120.7 345.48L120.93 344.81Z" fill="#ff0000"/><path d="M130.47 310.13L130.69 310.78L130.92 311.43L131.12 312.3L131.37 313.38L131.58 314.9L131.82 316.64L131.99 318.15L132.18 319.89L132.33 322.06L132.48 324.23L132.63 326.83L132.79 329.65L132.92 332.9L133.05 336.16L133.17 340.49L133.32 345.92L133.42 351.34L133.54 357.85L133.63 366.52L133.72 375.2L133.8 390.38L133.86 407.73L133.9 440.27L133.94 472.8L133.97 497.34L134.04 500.31L134.15 503.28L134.29 506.25L134.48 509.22L134.7 512.18L134.97 515.15L135.29 518.12L135.65 521.09L136.06 524.06L136.52 527.03L124.02 527.03L124.48 524.06L124.89 521.09L125.25 518.12L125.57 515.15L125.84 512.18L126.06 509.22L126.24 506.25L126.39 503.28L126.5 500.31L126.57 497.34L126.6 472.8L126.64 440.27L126.67 407.73L126.74 390.38L126.81 375.2L126.9 366.52L127 357.85L127.12 351.34L127.22 345.92L127.37 340.49L127.48 336.16L127.62 332.9L127.75 329.65L127.91 326.83L128.05 324.23L128.21 322.06L128.36 319.89L128.55 318.15L128.71 316.64L128.96 314.9L129.17 313.38L129.42 312.3L129.62 311.43L129.84 310.78L130.07 310.13Z" fill="#cc6600"/><path d="M139.61 348.19L139.84 348.84L140.06 349.48L140.26 350.34L140.51 351.41L140.72 352.92L140.96 354.64L141.13 356.14L141.32 357.86L141.47 360.01L141.62 362.15L141.77 364.73L141.93 367.52L142.06 370.75L142.19 373.97L142.31 378.26L142.46 383.63L142.56 389L142.68 395.45L142.77 404.04L142.86 412.63L142.93 427.67L143 444.85L143.03 477.07L143.07 509.29L143.1 533.51L143.17 536.46L143.28 539.41L143.43 542.35L143.61 545.3L143.84 548.25L144.11 551.2L144.42 554.14L144.79 557.09L145.2 560.04L145.66 562.99L133.16 562.99L133.62 560.04L134.03 557.09L134.4 554.14L134.71 551.2L134.98 548.25L135.21 545.3L135.39 542.35L135.54 539.41L135.65 536.46L135.72 533.51L135.75 509.29L135.79 477.07L135.82 444.85L135.89 427.67L135.96 412.63L136.05 404.04L136.14 395.45L136.26 389L136.36 383.63L136.51 378.26L136.63 373.97L136.76 370.75L136.89 367.52L137.05 364.73L137.2 362.15L137.35 360.01L137.5 357.86L137.69 356.14L137.86 354.64L138.1 352.92L138.31 351.41L138.56 350.34L138.76 349.48L138.98 348.84L139.21 348.19Z" fill="#cc6600"/><path d="M148.75 311.59L148.98 312.23L149.2 312.87L149.4 313.73L149.65 314.8L149.86 316.29L150.11 318L150.27 319.49L150.46 321.2L150.61 323.34L150.76 325.47L150.91 328.03L151.07 330.81L151.2 334.01L151.33 337.21L151.45 341.48L151.6 346.82L151.7 352.16L151.82 358.57L151.91 367.11L152 375.65L152.07 390.59L152.13 407.67L152.17 439.7L152.21 471.73L152.23 495.76L152.31 498.69L152.42 501.63L152.56 504.56L152.75 507.5L152.97 510.43L153.24 513.37L153.56 516.3L153.93 519.24L154.34 522.17L154.8 525.11L142.3 525.11L142.76 522.17L143.18 519.24L143.54 516.3L143.86 513.37L144.13 510.43L144.36 507.5L144.54 504.56L144.68 501.63L144.79 498.69L144.87 495.76L144.9 471.73L144.93 439.7L144.97 407.67L145.04 390.59L145.11 375.65L145.2 367.11L145.28 358.57L145.4 352.16L145.5 346.82L145.65 341.48L145.77 337.21L145.9 334.01L146.03 330.81L146.19 328.03L146.34 325.47L146.49 323.34L146.64 321.2L146.83 319.49L147 318L147.24 316.29L147.45 314.8L147.7 313.73L147.9 312.87L148.13 312.23L148.35 311.59Z" fill="#cc6600"/><path d="M157.89 350.94L158.12 351.58L158.34 352.21L158.54 353.06L158.79 354.13L159 355.62L159.25 357.32L159.41 358.81L159.6 360.51L159.75 362.64L159.91 364.76L160.05 367.31L160.21 370.08L160.34 373.27L160.47 376.46L160.59 380.71L160.74 386.03L160.84 391.35L160.96 397.73L161.05 406.24L161.13 414.75L161.2 429.63L161.27 446.65L161.31 478.55L161.34 510.46L161.37 534.36L161.45 537.29L161.56 540.21L161.7 543.14L161.89 546.07L162.11 548.99L162.38 551.92L162.7 554.85L163.07 557.78L163.48 560.7L163.94 563.63L151.44 563.63L151.91 560.7L152.32 557.78L152.68 554.85L153 551.92L153.27 548.99L153.5 546.07L153.68 543.14L153.83 540.21L153.94 537.29L154.01 534.36L154.04 510.46L154.08 478.55L154.11 446.65L154.18 429.63L154.25 414.75L154.34 406.24L154.43 397.73L154.55 391.35L154.65 386.03L154.79 380.71L154.91 376.46L155.04 373.27L155.17 370.08L155.33 367.31L155.48 364.76L155.63 362.64L155.78 360.51L155.97 358.81L156.14 357.32L156.38 355.62L156.59 354.13L156.84 353.06L157.04 352.21L157.27 351.58L157.49 350.94Z" fill="#cc6600"/><path d="M167.03 196.53L167.26 197.16L167.48 197.8L167.68 198.64L167.93 199.69L168.15 201.17L168.39 202.86L168.55 204.33L168.74 206.02L168.89 208.13L169.05 210.23L169.19 212.76L169.35 215.5L169.48 218.67L169.61 221.83L169.73 226.05L169.88 231.32L169.97 236.59L170.09 242.91L170.18 251.34L170.27 259.78L170.34 274.53L170.4 291.4L170.44 323.02L170.48 354.64L170.5 378.27L170.58 381.17L170.69 384.08L170.83 386.99L171.02 389.9L171.25 392.81L171.52 395.71L171.84 398.62L172.2 401.53L172.62 404.44L173.08 407.35L160.58 407.35L161.05 404.44L161.46 401.53L161.83 398.62L162.15 395.71L162.42 392.81L162.65 389.9L162.83 386.99L162.98 384.08L163.09 381.17L163.16 378.27L163.19 354.64L163.23 323.02L163.26 291.4L163.33 274.53L163.4 259.78L163.48 251.34L163.57 242.91L163.69 236.59L163.79 231.32L163.94 226.05L164.05 221.83L164.18 218.67L164.31 215.5L164.47 212.76L164.62 210.23L164.77 208.13L164.93 206.02L165.11 204.33L165.28 202.86L165.52 201.17L165.73 199.69L165.98 198.64L166.18 197.8L166.41 197.16L166.63 196.53Z" fill="#cc6600"/><path d="M176.17 375.87L176.4 376.45L176.62 377.03L176.82 377.8L177.07 378.76L177.28 380.1L177.53 381.64L177.69 382.99L177.88 384.53L178.03 386.45L178.18 388.38L178.32 390.68L178.48 393.19L178.61 396.07L178.73 398.96L178.85 402.8L178.99 407.61L179.08 412.42L179.19 418.19L179.27 425.89L179.35 433.58L179.41 447.05L179.46 462.44L179.5 491.3L179.53 520.16L179.56 541.01L179.64 543.74L179.75 546.46L179.9 549.18L180.09 551.91L180.33 554.63L180.61 557.35L180.94 560.08L181.32 562.8L181.74 565.53L182.22 568.25L169.72 568.25L170.2 565.53L170.63 562.8L171.01 560.08L171.34 557.35L171.62 554.63L171.85 551.91L172.05 549.18L172.2 546.46L172.31 543.74L172.39 541.01L172.41 520.16L172.45 491.3L172.49 462.44L172.54 447.05L172.6 433.58L172.68 425.89L172.75 418.19L172.87 412.42L172.96 407.61L173.1 402.8L173.21 398.96L173.34 396.07L173.47 393.19L173.62 390.68L173.77 388.38L173.92 386.45L174.07 384.53L174.26 382.99L174.42 381.64L174.66 380.1L174.87 378.76L175.12 377.8L175.32 377.03L175.55 376.45L175.77 375.87Z" fill="#000000"/><path d="M185.31 227.92L185.54 228.49L185.77 229.05L185.97 229.81L186.22 230.76L186.43 232.09L186.67 233.61L186.83 234.94L187.02 236.46L187.17 238.35L187.32 240.25L187.46 242.53L187.62 245L187.75 247.84L187.87 250.69L187.98 254.48L188.12 259.23L188.22 263.97L188.33 269.67L188.41 277.26L188.48 284.85L188.54 298.13L188.59 313.31L188.63 341.78L188.66 370.24L188.69 390.71L188.77 393.41L188.88 396.11L189.03 398.8L189.22 401.5L189.46 404.2L189.74 406.9L190.07 409.59L190.45 412.29L190.88 414.99L191.37 417.69L178.87 417.69L179.35 414.99L179.78 412.29L180.16 409.59L180.49 406.9L180.77 404.2L181.01 401.5L181.2 398.8L181.35 396.11L181.46 393.41L181.54 390.71L181.57 370.24L181.6 341.78L181.64 313.31L181.69 298.13L181.75 284.85L181.82 277.26L181.9 269.67L182.01 263.97L182.11 259.23L182.25 254.48L182.36 250.69L182.48 247.84L182.61 245L182.77 242.53L182.91 240.25L183.06 238.35L183.21 236.46L183.4 234.94L183.56 233.61L183.8 232.09L184.01 230.76L184.26 229.81L184.46 229.05L184.69 228.49L184.92 227.92Z" fill="#cc6600"/><path d="M194.46 281.53L194.68 282.1L194.91 282.67L195.11 283.42L195.36 284.36L195.57 285.68L195.81 287.19L195.97 288.51L196.16 290.02L196.31 291.91L196.46 293.8L196.6 296.06L196.76 298.51L196.89 301.34L197.01 304.17L197.12 307.94L197.26 312.66L197.36 317.37L197.47 323.03L197.54 330.58L197.62 338.12L197.67 351.33L197.73 366.42L197.76 394.71L197.8 423.01L197.83 443.3L197.9 445.99L198.02 448.67L198.17 451.36L198.36 454.04L198.6 456.73L198.88 459.42L199.21 462.1L199.59 464.79L200.02 467.48L200.51 470.16L188.01 470.16L188.49 467.48L188.92 464.79L189.3 462.1L189.63 459.42L189.91 456.73L190.15 454.04L190.34 451.36L190.49 448.67L190.61 445.99L190.69 443.3L190.71 423.01L190.75 394.71L190.78 366.42L190.84 351.33L190.89 338.12L190.97 330.58L191.05 323.03L191.16 317.37L191.25 312.66L191.39 307.94L191.5 304.17L191.63 301.34L191.75 298.51L191.91 296.06L192.05 293.8L192.2 291.91L192.35 290.02L192.54 288.51L192.71 287.19L192.95 285.68L193.16 284.36L193.41 283.42L193.61 282.67L193.83 282.1L194.06 281.53Z" fill="#0000ff"/><path d="M203.6 319.14L203.82 319.71L204.05 320.27L204.25 321.03L204.5 321.97L204.71 323.29L204.95 324.8L205.11 326.12L205.3 327.63L205.45 329.51L205.6 331.4L205.74 333.66L205.9 336.11L206.03 338.94L206.15 341.77L206.26 345.54L206.4 350.26L206.5 354.97L206.61 360.63L206.69 368.17L206.76 375.72L206.81 388.92L206.87 404L206.9 432.29L206.94 460.58L206.97 480.86L207.05 483.55L207.16 486.24L207.31 488.92L207.5 491.61L207.74 494.29L208.02 496.98L208.35 499.67L208.73 502.35L209.16 505.04L209.65 507.72L197.15 507.72L197.63 505.04L198.06 502.35L198.44 499.67L198.77 496.98L199.06 494.29L199.29 491.61L199.48 488.92L199.64 486.24L199.75 483.55L199.83 480.86L199.85 460.58L199.89 432.29L199.93 404L199.98 388.92L200.03 375.72L200.11 368.17L200.19 360.63L200.3 354.97L200.39 350.26L200.53 345.54L200.64 341.77L200.77 338.94L200.89 336.11L201.05 333.66L201.19 331.4L201.35 329.51L201.5 327.63L201.68 326.12L201.85 324.8L202.09 323.29L202.3 321.97L202.55 321.03L202.75 320.27L202.97 319.71L203.2 319.14Z" fill="#cc6600"/><path d="M212.74 212.22L212.96 212.79L213.19 213.35L213.39 214.1L213.64 215.04L213.85 216.36L214.09 217.86L214.25 219.17L214.44 220.68L214.59 222.56L214.74 224.43L214.88 226.69L215.04 229.13L215.17 231.95L215.29 234.77L215.4 238.52L215.54 243.22L215.64 247.91L215.75 253.55L215.82 261.06L215.9 268.58L215.95 281.73L216.01 296.76L216.04 324.93L216.08 353.11L216.1 373.29L216.18 375.97L216.3 378.65L216.45 381.32L216.64 384L216.88 386.68L217.16 389.36L217.49 392.04L217.87 394.72L218.3 397.39L218.79 400.07L206.29 400.07L206.77 397.39L207.2 394.72L207.58 392.04L207.92 389.36L208.2 386.68L208.44 384L208.63 381.32L208.78 378.65L208.89 375.97L208.97 373.29L209 353.11L209.03 324.93L209.07 296.76L209.13 281.73L209.17 268.58L209.25 261.06L209.33 253.55L209.44 247.91L209.53 243.22L209.67 238.52L209.78 234.77L209.91 231.95L210.04 229.13L210.19 226.69L210.34 224.43L210.49 222.56L210.64 220.68L210.82 219.17L210.99 217.86L211.23 216.36L211.44 215.04L211.69 214.1L211.89 213.35L212.11 212.79L212.34 212.22Z" fill="#cc6600"/><path d="M221.88 380.9L222.1 381.47L222.33 382.03L222.53 382.78L222.78 383.71L222.99 385.03L223.23 386.52L223.39 387.84L223.58 389.33L223.73 391.21L223.88 393.08L224.03 395.33L224.18 397.76L224.31 400.58L224.43 403.39L224.54 407.13L224.68 411.82L224.78 416.5L224.89 422.12L224.96 429.61L225.04 437.11L225.09 450.22L225.14 465.21L225.18 493.31L225.22 521.41L225.24 541.52L225.32 544.19L225.43 546.86L225.59 549.54L225.78 552.21L226.02 554.88L226.3 557.56L226.63 560.23L227.01 562.9L227.44 565.58L227.93 568.25L215.43 568.25L215.91 565.58L216.35 562.9L216.73 560.23L217.06 557.56L217.34 554.88L217.58 552.21L217.77 549.54L217.92 546.86L218.04 544.19L218.12 541.52L218.14 521.41L218.18 493.31L218.21 465.21L218.27 450.22L218.32 437.11L218.39 429.61L218.47 422.12L218.58 416.5L218.67 411.82L218.81 407.13L218.93 403.39L219.05 400.58L219.18 397.76L219.33 395.33L219.48 393.08L219.63 391.21L219.78 389.33L219.96 387.84L220.13 386.52L220.37 385.03L220.58 383.71L220.83 382.78L221.03 382.03L221.25 381.47L221.48 380.9Z" fill="#000000"/><path d="M231.02 367.32L231.25 367.87L231.47 368.42L231.67 369.16L231.92 370.08L232.13 371.37L232.37 372.84L232.53 374.13L232.72 375.6L232.87 377.44L233.02 379.28L233.16 381.49L233.32 383.88L233.45 386.64L233.57 389.4L233.68 393.08L233.82 397.68L233.91 402.29L234.02 407.81L234.1 415.17L234.17 422.53L234.22 435.42L234.27 450.14L234.31 477.75L234.34 505.36L234.37 524.96L234.45 527.6L234.56 530.24L234.71 532.88L234.91 535.53L235.15 538.17L235.43 540.81L235.77 543.45L236.15 546.09L236.58 548.73L237.07 551.37L224.57 551.37L225.06 548.73L225.49 546.09L225.87 543.45L226.21 540.81L226.49 538.17L226.73 535.53L226.93 532.88L227.08 530.24L227.19 527.6L227.27 524.96L227.3 505.36L227.33 477.75L227.37 450.14L227.42 435.42L227.47 422.53L227.54 415.17L227.62 407.81L227.73 402.29L227.82 397.68L227.96 393.08L228.07 389.4L228.19 386.64L228.32 383.88L228.48 381.49L228.62 379.28L228.77 377.44L228.92 375.6L229.11 374.13L229.27 372.84L229.51 371.37L229.72 370.08L229.97 369.16L230.17 368.42L230.39 367.87L230.62 367.32Z" fill="#0000ff"/><path d="M240.16 174.3L240.39 174.85L240.61 175.4L240.81 176.13L241.06 177.05L241.27 178.34L241.51 179.81L241.67 181.1L241.86 182.57L242.01 184.4L242.16 186.24L242.3 188.45L242.46 190.84L242.59 193.59L242.71 196.35L242.82 200.03L242.96 204.62L243.05 209.21L243.16 214.73L243.24 222.08L243.31 229.43L243.36 242.29L243.41 257L243.45 284.56L243.48 312.13L243.51 331.7L243.59 334.33L243.7 336.97L243.85 339.61L244.05 342.25L244.29 344.89L244.57 347.52L244.91 350.16L245.29 352.8L245.72 355.44L246.21 358.07L233.71 358.07L234.2 355.44L234.63 352.8L235.02 350.16L235.35 347.52L235.64 344.89L235.87 342.25L236.07 339.61L236.22 336.97L236.33 334.33L236.42 331.7L236.44 312.13L236.48 284.56L236.51 257L236.57 242.29L236.61 229.43L236.69 222.08L236.76 214.73L236.87 209.21L236.96 204.62L237.1 200.03L237.21 196.35L237.34 193.59L237.46 190.84L237.62 188.45L237.76 186.24L237.91 184.4L238.06 182.57L238.25 181.1L238.41 179.81L238.65 178.34L238.86 177.05L239.11 176.13L239.31 175.4L239.54 174.85L239.76 174.3Z" fill="#cc6600"/><path d="M249.3 360.09L249.53 360.64L249.75 361.18L249.95 361.92L250.2 362.83L250.41 364.11L250.65 365.57L250.82 366.85L251 368.32L251.15 370.14L251.3 371.97L251.45 374.17L251.6 376.55L251.73 379.29L251.85 382.03L251.96 385.69L252.1 390.26L252.19 394.83L252.3 400.32L252.37 407.63L252.45 414.95L252.49 427.75L252.55 442.38L252.58 469.81L252.62 497.23L252.64 516.66L252.72 519.29L252.84 521.92L252.99 524.55L253.18 527.18L253.42 529.81L253.71 532.44L254.04 535.06L254.43 537.69L254.86 540.32L255.35 542.95L242.85 542.95L243.34 540.32L243.78 537.69L244.16 535.06L244.49 532.44L244.78 529.81L245.02 527.18L245.21 524.55L245.37 521.92L245.48 519.29L245.56 516.66L245.59 497.23L245.62 469.81L245.66 442.38L245.71 427.75L245.76 414.95L245.83 407.63L245.9 400.32L246.01 394.83L246.1 390.26L246.24 385.69L246.35 382.03L246.48 379.29L246.6 376.55L246.76 374.17L246.9 371.97L247.05 370.14L247.2 368.32L247.39 366.85L247.55 365.57L247.79 364.11L248 362.83L248.25 361.92L248.45 361.18L248.68 360.64L248.9 360.09Z" fill="#cc6600"/><path d="M258.44 375.19L258.67 375.73L258.89 376.28L259.09 377.01L259.34 377.92L259.55 379.19L259.79 380.65L259.96 381.92L260.14 383.38L260.29 385.2L260.44 387.02L260.59 389.21L260.74 391.57L260.87 394.3L260.99 397.04L261.1 400.68L261.24 405.23L261.33 409.78L261.44 415.24L261.51 422.53L261.59 429.81L261.63 442.56L261.68 457.12L261.72 484.44L261.76 511.75L261.78 531.06L261.86 533.68L261.98 536.3L262.13 538.92L262.32 541.54L262.56 544.17L262.85 546.79L263.18 549.41L263.57 552.03L264 554.65L264.49 557.27L251.99 557.27L252.48 554.65L252.92 552.03L253.3 549.41L253.64 546.79L253.92 544.17L254.16 541.54L254.36 538.92L254.51 536.3L254.62 533.68L254.71 531.06L254.73 511.75L254.77 484.44L254.8 457.12L254.85 442.56L254.9 429.81L254.97 422.53L255.05 415.24L255.16 409.78L255.25 405.23L255.38 400.68L255.5 397.04L255.62 394.3L255.74 391.57L255.9 389.21L256.04 387.02L256.19 385.2L256.34 383.38L256.53 381.92L256.69 380.65L256.93 379.19L257.14 377.92L257.39 377.01L257.59 376.28L257.82 375.73L258.04 375.19Z" fill="#0000ff"/><path d="M267.58 340.37L267.81 340.91L268.03 341.46L268.23 342.18L268.48 343.08L268.69 344.35L268.93 345.8L269.1 347.07L269.28 348.52L269.43 350.33L269.58 352.14L269.73 354.31L269.88 356.66L270.01 359.38L270.13 362.09L270.24 365.71L270.38 370.24L270.47 374.77L270.58 380.2L270.65 387.44L270.72 394.68L270.77 407.35L270.82 421.83L270.86 448.99L270.89 476.14L270.92 495.3L271 497.91L271.11 500.52L271.26 503.13L271.46 505.74L271.7 508.35L271.99 510.96L272.32 513.57L272.71 516.18L273.14 518.79L273.63 521.4L261.13 521.4L261.62 518.79L262.06 516.18L262.45 513.57L262.78 510.96L263.07 508.35L263.31 505.74L263.5 503.13L263.66 500.52L263.77 497.91L263.85 495.3L263.88 476.14L263.91 448.99L263.95 421.83L264 407.35L264.04 394.68L264.12 387.44L264.19 380.2L264.3 374.77L264.39 370.24L264.53 365.71L264.64 362.09L264.76 359.38L264.89 356.66L265.04 354.31L265.19 352.14L265.34 350.33L265.48 348.52L265.67 347.07L265.83 345.8L266.07 344.35L266.28 343.08L266.53 342.18L266.73 341.46L266.96 340.91L267.18 340.37Z" fill="#0000ff"/><path d="M276.72 354.55L276.95 355.09L277.17 355.64L277.37 356.36L277.62 357.27L277.83 358.53L278.07 359.98L278.24 361.25L278.42 362.69L278.57 364.5L278.72 366.31L278.87 368.48L279.02 370.84L279.15 373.55L279.27 376.26L279.38 379.88L279.52 384.41L279.61 388.93L279.72 394.36L279.79 401.6L279.86 408.83L279.91 421.5L279.96 435.98L280 463.12L280.03 490.26L280.06 509.4L280.14 512.01L280.25 514.62L280.4 517.23L280.6 519.84L280.84 522.45L281.13 525.06L281.46 527.66L281.85 530.27L282.29 532.88L282.77 535.49L270.27 535.49L270.76 532.88L271.2 530.27L271.59 527.66L271.92 525.06L272.21 522.45L272.45 519.84L272.65 517.23L272.8 514.62L272.91 512.01L272.99 509.4L273.02 490.26L273.05 463.12L273.09 435.98L273.14 421.5L273.19 408.83L273.26 401.6L273.33 394.36L273.44 388.93L273.53 384.41L273.67 379.88L273.78 376.26L273.9 373.55L274.03 370.84L274.18 368.48L274.33 366.31L274.48 364.5L274.63 362.69L274.81 361.25L274.98 359.98L275.22 358.53L275.43 357.27L275.68 356.36L275.88 355.64L276.1 355.09L276.32 354.55Z" fill="#0000ff"/><path d="M285.87 387.45L286.09 387.99L286.32 388.53L286.52 389.25L286.77 390.16L286.98 391.42L287.22 392.87L287.38 394.14L287.57 395.58L287.71 397.39L287.86 399.2L288.01 401.37L288.16 403.72L288.29 406.43L288.41 409.14L288.52 412.76L288.66 417.28L288.75 421.8L288.86 427.22L288.93 434.46L289.01 441.69L289.05 454.34L289.1 468.81L289.14 495.93L289.17 523.05L289.2 542.17L289.28 544.78L289.39 547.39L289.55 549.99L289.74 552.6L289.98 555.21L290.27 557.82L290.6 560.43L290.99 563.03L291.43 565.64L291.92 568.25L279.42 568.25L279.91 565.64L280.34 563.03L280.73 560.43L281.06 557.82L281.35 555.21L281.59 552.6L281.79 549.99L281.94 547.39L282.05 544.78L282.13 542.17L282.16 523.05L282.2 495.93L282.23 468.81L282.28 454.34L282.33 441.69L282.4 434.46L282.47 427.22L282.58 421.8L282.67 417.28L282.81 412.76L282.92 409.14L283.04 406.43L283.17 403.72L283.32 401.37L283.47 399.2L283.62 397.39L283.77 395.58L283.95 394.14L284.12 392.87L284.36 391.42L284.57 390.16L284.82 389.25L285.02 388.53L285.24 387.99L285.47 387.45Z" fill="#000000"/><path d="M295.01 334.51L295.23 335.06L295.46 335.6L295.66 336.32L295.91 337.22L296.12 338.49L296.36 339.94L296.52 341.2L296.71 342.65L296.86 344.45L297.01 346.26L297.15 348.43L297.3 350.78L297.43 353.49L297.55 356.2L297.66 359.82L297.8 364.34L297.89 368.86L298 374.28L298.07 381.51L298.15 388.74L298.19 401.39L298.24 415.85L298.28 442.97L298.31 470.08L298.34 489.2L298.42 491.8L298.53 494.41L298.69 497.02L298.88 499.63L299.12 502.23L299.41 504.84L299.74 507.45L300.13 510.06L300.57 512.66L301.06 515.27L288.56 515.27L289.05 512.66L289.48 510.06L289.87 507.45L290.21 504.84L290.49 502.23L290.73 499.63L290.93 497.02L291.08 494.41L291.2 491.8L291.28 489.2L291.3 470.08L291.34 442.97L291.37 415.85L291.42 401.39L291.47 388.74L291.54 381.51L291.61 374.28L291.72 368.86L291.81 364.34L291.95 359.82L292.06 356.2L292.19 353.49L292.31 350.78L292.47 348.43L292.61 346.26L292.76 344.45L292.91 342.65L293.09 341.2L293.26 339.94L293.5 338.49L293.71 337.22L293.96 336.32L294.16 335.6L294.38 335.06L294.61 334.51Z" fill="#cc6600"/><path d="M304.15 175.44L304.37 175.98L304.6 176.52L304.8 177.23L305.05 178.13L305.26 179.39L305.5 180.82L305.66 182.08L305.85 183.51L306 185.31L306.15 187.1L306.29 189.26L306.44 191.59L306.57 194.28L306.69 196.97L306.8 200.56L306.94 205.05L307.03 209.53L307.14 214.92L307.21 222.09L307.28 229.27L307.32 241.83L307.38 256.18L307.41 283.1L307.45 310.01L307.47 328.93L307.55 331.52L307.67 334.12L307.82 336.71L308.02 339.31L308.26 341.9L308.55 344.49L308.88 347.09L309.27 349.68L309.71 352.28L310.2 354.87L297.7 354.87L298.19 352.28L298.63 349.68L299.01 347.09L299.35 344.49L299.64 341.9L299.88 339.31L300.07 336.71L300.23 334.12L300.34 331.52L300.42 328.93L300.45 310.01L300.48 283.1L300.52 256.18L300.57 241.83L300.61 229.27L300.69 222.09L300.76 214.92L300.87 209.53L300.96 205.05L301.09 200.56L301.2 196.97L301.33 194.28L301.45 191.59L301.61 189.26L301.75 187.1L301.9 185.31L302.05 183.51L302.24 182.08L302.4 180.82L302.64 179.39L302.85 178.13L303.1 177.23L303.3 176.52L303.52 175.98L303.75 175.44Z" fill="#cc6600"/><path d="M313.29 215.61L313.51 216.15L313.74 216.68L313.94 217.4L314.19 218.29L314.4 219.54L314.64 220.97L314.8 222.22L314.99 223.65L315.14 225.44L315.29 227.23L315.43 229.38L315.58 231.7L315.71 234.38L315.83 237.06L315.94 240.64L316.08 245.11L316.17 249.58L316.28 254.94L316.35 262.09L316.42 269.25L316.46 281.76L316.51 296.06L316.55 322.88L316.59 349.7L316.61 368.52L316.69 371.11L316.81 373.7L316.96 376.28L317.16 378.87L317.4 381.46L317.68 384.05L318.02 386.64L318.41 389.22L318.85 391.81L319.34 394.4L306.84 394.4L307.33 391.81L307.77 389.22L308.16 386.64L308.49 384.05L308.78 381.46L309.02 378.87L309.22 376.28L309.37 373.7L309.49 371.11L309.57 368.52L309.59 349.7L309.63 322.88L309.66 296.06L309.71 281.76L309.76 269.25L309.83 262.09L309.9 254.94L310.01 249.58L310.1 245.11L310.24 240.64L310.34 237.06L310.47 234.38L310.59 231.7L310.75 229.38L310.89 227.23L311.04 225.44L311.19 223.65L311.38 222.22L311.54 220.97L311.78 219.54L311.99 218.29L312.24 217.4L312.44 216.68L312.66 216.15L312.89 215.61Z" fill="#cc6600"/><path d="M322.43 383.42L322.65 383.96L322.88 384.49L323.08 385.2L323.33 386.1L323.54 387.35L323.78 388.77L323.94 390.02L324.13 391.45L324.28 393.24L324.43 395.02L324.57 397.16L324.73 399.48L324.85 402.16L324.97 404.84L325.08 408.41L325.22 412.87L325.31 417.33L325.42 422.68L325.49 429.82L325.56 436.96L325.6 449.45L325.65 463.73L325.69 490.5L325.72 517.27L325.75 536.04L325.83 538.63L325.95 541.21L326.1 543.8L326.3 546.38L326.54 548.97L326.82 551.55L327.16 554.14L327.55 556.72L327.99 559.31L328.48 561.89L315.98 561.89L316.47 559.31L316.91 556.72L317.3 554.14L317.64 551.55L317.92 548.97L318.16 546.38L318.36 543.8L318.51 541.21L318.63 538.63L318.71 536.04L318.74 517.27L318.77 490.5L318.81 463.73L318.86 449.45L318.9 436.96L318.97 429.82L319.04 422.68L319.15 417.33L319.24 412.87L319.38 408.41L319.49 404.84L319.61 402.16L319.73 399.48L319.89 397.16L320.03 395.02L320.18 393.24L320.33 391.45L320.52 390.02L320.68 388.77L320.92 387.35L321.13 386.1L321.38 385.2L321.58 384.49L321.81 383.96L322.03 383.42Z" fill="#cc6600"/><path d="M331.57 330.4L331.8 330.92L332.02 331.45L332.22 332.15L332.47 333.02L332.68 334.25L332.92 335.65L333.08 336.87L333.27 338.27L333.42 340.02L333.57 341.77L333.71 343.87L333.86 346.15L333.99 348.77L334.11 351.4L334.22 354.89L334.36 359.27L334.44 363.64L334.55 368.89L334.62 375.89L334.69 382.89L334.73 395.14L334.78 409.14L334.81 435.39L334.85 461.64L334.87 479.89L334.95 482.44L335.07 484.99L335.22 487.54L335.42 490.09L335.67 492.64L335.96 495.19L336.29 497.74L336.68 500.29L337.13 502.84L337.62 505.39L325.12 505.39L325.62 502.84L326.06 500.29L326.45 497.74L326.79 495.19L327.08 492.64L327.32 490.09L327.52 487.54L327.67 484.99L327.79 482.44L327.87 479.89L327.89 461.64L327.93 435.39L327.96 409.14L328.01 395.14L328.05 382.89L328.12 375.89L328.19 368.89L328.3 363.64L328.39 359.27L328.52 354.89L328.63 351.4L328.75 348.77L328.88 346.15L329.03 343.87L329.18 341.77L329.32 340.02L329.47 338.27L329.66 336.87L329.82 335.65L330.06 334.25L330.27 333.02L330.52 332.15L330.72 331.45L330.95 330.92L331.17 330.4Z" fill="#cc6600"/><path d="M340.71 394.17L340.94 394.69L341.16 395.22L341.36 395.91L341.61 396.78L341.82 398L342.06 399.39L342.22 400.61L342.41 402L342.56 403.75L342.71 405.49L342.85 407.58L343 409.84L343.13 412.45L343.25 415.06L343.36 418.54L343.49 422.89L343.58 427.25L343.69 432.47L343.76 439.43L343.83 446.39L343.87 458.58L343.91 472.51L343.95 498.62L343.98 524.73L344.01 542.84L344.09 545.38L344.21 547.92L344.36 550.46L344.56 553.01L344.8 555.55L345.09 558.09L345.43 560.63L345.82 563.17L346.27 565.71L346.76 568.25L334.26 568.25L334.76 565.71L335.2 563.17L335.59 560.63L335.93 558.09L336.22 555.55L336.46 553.01L336.66 550.46L336.82 547.92L336.93 545.38L337.01 542.84L337.04 524.73L337.07 498.62L337.11 472.51L337.16 458.58L337.2 446.39L337.27 439.43L337.34 432.47L337.44 427.25L337.53 422.89L337.66 418.54L337.77 415.06L337.9 412.45L338.02 409.84L338.17 407.58L338.32 405.49L338.47 403.75L338.61 402L338.8 400.61L338.96 399.39L339.2 398L339.41 396.78L339.66 395.91L339.86 395.22L340.09 394.69L340.31 394.17Z" fill="#cc00ff"/><path d="M349.85 394.67L350.08 395.2L350.3 395.72L350.5 396.41L350.75 397.28L350.96 398.49L351.2 399.88L351.36 401.1L351.55 402.49L351.7 404.22L351.85 405.96L351.99 408.04L352.14 410.3L352.27 412.9L352.39 415.5L352.5 418.98L352.64 423.31L352.72 427.65L352.83 432.86L352.9 439.8L352.97 446.75L353 458.9L353.05 472.78L353.09 498.82L353.12 524.86L353.15 542.89L353.23 545.43L353.35 547.96L353.5 550.5L353.7 553.04L353.94 555.57L354.23 558.11L354.57 560.64L354.96 563.18L355.41 565.71L355.9 568.25L343.4 568.25L343.9 565.71L344.34 563.18L344.73 560.64L345.07 558.11L345.36 555.57L345.61 553.04L345.81 550.5L345.96 547.96L346.08 545.43L346.16 542.89L346.18 524.86L346.22 498.82L346.25 472.78L346.3 458.9L346.34 446.75L346.41 439.8L346.48 432.86L346.58 427.65L346.67 423.31L346.81 418.98L346.91 415.5L347.04 412.9L347.16 410.3L347.32 408.04L347.46 405.96L347.61 404.22L347.76 402.49L347.94 401.1L348.1 399.88L348.34 398.49L348.55 397.28L348.8 396.41L349 395.72L349.23 395.2L349.45 394.67Z" fill="#000000"/><path d="M358.99 395.5L359.22 396.02L359.44 396.53L359.64 397.23L359.89 398.09L360.1 399.3L360.34 400.68L360.5 401.89L360.69 403.27L360.84 405L360.99 406.73L361.13 408.8L361.29 411.05L361.41 413.64L361.53 416.23L361.64 419.68L361.77 424L361.86 428.32L361.97 433.5L362.04 440.41L362.1 447.32L362.14 459.42L362.19 473.24L362.23 499.15L362.26 525.06L362.28 542.97L362.37 545.5L362.48 548.03L362.64 550.56L362.84 553.08L363.08 555.61L363.37 558.14L363.71 560.67L364.1 563.19L364.55 565.72L365.04 568.25L352.54 568.25L353.04 565.72L353.48 563.19L353.88 560.67L354.22 558.14L354.51 555.61L354.75 553.08L354.95 550.56L355.11 548.03L355.22 545.5L355.3 542.97L355.33 525.06L355.36 499.15L355.4 473.24L355.45 459.42L355.48 447.32L355.55 440.41L355.62 433.5L355.73 428.32L355.81 424L355.95 419.68L356.06 416.23L356.18 413.64L356.3 411.05L356.46 408.8L356.6 406.73L356.75 405L356.9 403.27L357.08 401.89L357.25 400.68L357.49 399.3L357.69 398.09L357.94 397.23L358.14 396.53L358.37 396.02L358.59 395.5Z" fill="#000000"/><path d="M368.13 377.61L368.36 378.13L368.58 378.64L368.78 379.33L369.03 380.19L369.24 381.39L369.48 382.77L369.65 383.97L369.83 385.34L369.98 387.06L370.13 388.78L370.27 390.84L370.43 393.08L370.55 395.66L370.67 398.24L370.78 401.67L370.91 405.97L371 410.27L371.11 415.42L371.17 422.3L371.24 429.17L371.28 441.21L371.33 454.96L371.36 480.74L371.4 506.52L371.42 524.3L371.5 526.82L371.62 529.34L371.78 531.86L371.97 534.38L372.22 536.9L372.51 539.42L372.85 541.94L373.24 544.45L373.69 546.97L374.19 549.49L361.69 549.49L362.18 546.97L362.63 544.45L363.02 541.94L363.36 539.42L363.65 536.9L363.9 534.38L364.09 531.86L364.25 529.34L364.37 526.82L364.45 524.3L364.47 506.52L364.51 480.74L364.54 454.96L364.59 441.21L364.63 429.17L364.7 422.3L364.76 415.42L364.87 410.27L364.96 405.97L365.09 401.67L365.2 398.24L365.32 395.66L365.44 393.08L365.6 390.84L365.74 388.78L365.89 387.06L366.04 385.34L366.22 383.97L366.39 382.77L366.63 381.39L366.84 380.19L367.09 379.33L367.29 378.64L367.51 378.13L367.74 377.61Z" fill="#cc6600"/><path d="M377.28 393.49L377.5 394L377.73 394.51L377.93 395.19L378.18 396.04L378.38 397.24L378.62 398.6L378.79 399.79L378.97 401.16L379.12 402.86L379.27 404.57L379.41 406.61L379.57 408.83L379.69 411.39L379.81 413.95L379.92 417.36L380.05 421.62L380.14 425.88L380.24 431L380.31 437.82L380.38 444.64L380.41 456.57L380.46 470.21L380.5 495.79L380.53 521.37L380.56 538.94L380.64 541.45L380.75 543.95L380.91 546.46L381.11 548.96L381.35 551.47L381.65 553.97L381.99 556.48L382.38 558.99L382.83 561.49L383.33 564L370.83 564L371.33 561.49L371.77 558.99L372.16 556.48L372.51 553.97L372.8 551.47L373.04 548.96L373.24 546.46L373.4 543.95L373.51 541.45L373.6 538.94L373.62 521.37L373.66 495.79L373.69 470.21L373.74 456.57L373.77 444.64L373.84 437.82L373.91 431L374.01 425.88L374.1 421.62L374.23 417.36L374.34 413.95L374.46 411.39L374.59 408.83L374.74 406.61L374.88 404.57L375.03 402.86L375.18 401.16L375.37 399.79L375.53 398.6L375.77 397.24L375.98 396.04L376.23 395.19L376.43 394.51L376.65 394L376.88 393.49Z" fill="#0000ff"/><path d="M386.42 397.79L386.64 398.3L386.87 398.81L387.07 399.49L387.32 400.34L387.53 401.54L387.76 402.9L387.93 404.09L388.11 405.46L388.26 407.16L388.41 408.87L388.55 410.91L388.71 413.13L388.83 415.68L388.95 418.24L389.06 421.65L389.19 425.91L389.28 430.17L389.38 435.29L389.45 442.11L389.52 448.92L389.55 460.86L389.6 474.49L389.64 500.06L389.67 525.63L389.7 543.2L389.78 545.71L389.89 548.21L390.05 550.72L390.25 553.22L390.49 555.73L390.79 558.23L391.13 560.74L391.52 563.24L391.97 565.75L392.47 568.25L379.97 568.25L380.47 565.75L380.91 563.24L381.3 560.74L381.65 558.23L381.94 555.73L382.18 553.22L382.38 550.72L382.54 548.21L382.66 545.71L382.74 543.2L382.76 525.63L382.8 500.06L382.83 474.49L382.88 460.86L382.91 448.92L382.98 442.11L383.05 435.29L383.15 430.17L383.24 425.91L383.37 421.65L383.48 418.24L383.61 415.68L383.73 413.13L383.88 410.91L384.02 408.87L384.17 407.16L384.32 405.46L384.51 404.09L384.67 402.9L384.91 401.54L385.12 400.34L385.37 399.49L385.57 398.81L385.79 398.3L386.02 397.79Z" fill="#000000"/><path d="M395.56 397.88L395.78 398.39L396.01 398.9L396.21 399.58L396.46 400.43L396.67 401.63L396.91 402.99L397.07 404.18L397.25 405.54L397.4 407.25L397.55 408.95L397.69 411L397.85 413.21L397.97 415.77L398.09 418.32L398.2 421.73L398.33 425.99L398.42 430.25L398.52 435.36L398.59 442.17L398.66 448.99L398.69 460.92L398.74 474.54L398.78 500.1L398.81 525.66L398.84 543.21L398.92 545.72L399.04 548.22L399.19 550.72L399.39 553.23L399.64 555.73L399.93 558.24L400.27 560.74L400.66 563.24L401.11 565.75L401.61 568.25L389.11 568.25L389.61 565.75L390.05 563.24L390.45 560.74L390.79 558.24L391.08 555.73L391.33 553.23L391.52 550.72L391.68 548.22L391.8 545.72L391.88 543.21L391.9 525.66L391.94 500.1L391.97 474.54L392.02 460.92L392.06 448.99L392.12 442.17L392.19 435.36L392.3 430.25L392.38 425.99L392.52 421.73L392.62 418.32L392.75 415.77L392.87 413.21L393.02 411L393.16 408.95L393.31 407.25L393.46 405.54L393.65 404.18L393.81 402.99L394.05 401.63L394.26 400.43L394.51 399.58L394.71 398.9L394.93 398.39L395.16 397.88Z" fill="#000000"/><path d="M404.7 398.15L404.92 398.66L405.15 399.17L405.35 399.85L405.6 400.7L405.81 401.89L406.05 403.25L406.21 404.45L406.39 405.81L406.54 407.51L406.69 409.21L406.83 411.25L406.99 413.46L407.11 416.01L407.23 418.56L407.34 421.97L407.47 426.22L407.56 430.47L407.66 435.57L407.73 442.38L407.8 449.18L407.83 461.09L407.88 474.7L407.92 500.21L407.95 525.73L407.98 543.24L408.06 545.74L408.17 548.24L408.33 550.74L408.53 553.24L408.78 555.75L409.07 558.25L409.41 560.75L409.8 563.25L410.25 565.75L410.75 568.25L398.25 568.25L398.75 565.75L399.19 563.25L399.59 560.75L399.93 558.25L400.22 555.75L400.47 553.24L400.67 550.74L400.82 548.24L400.94 545.74L401.02 543.24L401.05 525.73L401.08 500.21L401.12 474.7L401.16 461.09L401.2 449.18L401.27 442.38L401.33 435.57L401.44 430.47L401.52 426.22L401.66 421.97L401.77 418.56L401.89 416.01L402.01 413.46L402.16 411.25L402.31 409.21L402.45 407.51L402.6 405.81L402.79 404.45L402.95 403.25L403.19 401.89L403.4 400.7L403.65 399.85L403.85 399.17L404.07 398.66L404.3 398.15Z" fill="#000000"/><path d="M413.84 378.39L414.06 378.9L414.29 379.41L414.49 380.08L414.74 380.93L414.95 382.12L415.19 383.48L415.35 384.67L415.54 386.02L415.68 387.72L415.83 389.42L415.97 391.45L416.13 393.66L416.25 396.2L416.37 398.75L416.48 402.14L416.62 406.39L416.7 410.63L416.8 415.72L416.87 422.51L416.94 429.29L416.97 441.17L417.02 454.75L417.06 480.2L417.09 505.65L417.11 523.11L417.2 525.6L417.31 528.1L417.47 530.6L417.67 533.09L417.91 535.59L418.21 538.09L418.55 540.58L418.94 543.08L419.39 545.58L419.89 548.07L407.39 548.07L407.89 545.58L408.34 543.08L408.73 540.58L409.07 538.09L409.37 535.59L409.61 533.09L409.81 530.6L409.97 528.1L410.08 525.6L410.17 523.11L410.19 505.65L410.22 480.2L410.26 454.75L410.31 441.17L410.34 429.29L410.41 422.51L410.48 415.72L410.58 410.63L410.66 406.39L410.8 402.14L410.91 398.75L411.03 396.2L411.15 393.66L411.31 391.45L411.45 389.42L411.6 387.72L411.74 386.02L411.93 384.67L412.09 383.48L412.33 382.12L412.54 380.93L412.79 380.08L412.99 379.41L413.22 378.9L413.44 378.39Z" fill="#ff0000"/><path d="M422.98 382.6L423.21 383.1L423.43 383.61L423.63 384.29L423.88 385.13L424.09 386.32L424.33 387.67L424.49 388.85L424.68 390.21L424.83 391.9L424.97 393.59L425.12 395.62L425.27 397.81L425.39 400.35L425.51 402.89L425.62 406.27L425.76 410.5L425.84 414.72L425.94 419.8L426.01 426.56L426.08 433.32L426.11 445.16L426.16 458.69L426.19 484.05L426.23 509.42L426.25 526.78L426.34 529.27L426.45 531.76L426.61 534.25L426.81 536.74L427.05 539.23L427.35 541.72L427.69 544.22L428.08 546.71L428.53 549.2L429.03 551.69L416.53 551.69L417.03 549.2L417.48 546.71L417.87 544.22L418.22 541.72L418.51 539.23L418.75 536.74L418.95 534.25L419.11 531.76L419.23 529.27L419.31 526.78L419.33 509.42L419.37 484.05L419.4 458.69L419.45 445.16L419.48 433.32L419.55 426.56L419.62 419.8L419.72 414.72L419.81 410.5L419.94 406.27L420.05 402.89L420.17 400.35L420.29 397.81L420.45 395.62L420.59 393.59L420.74 391.9L420.89 390.21L421.07 388.85L421.23 387.67L421.47 386.32L421.68 385.13L421.93 384.29L422.13 383.61L422.36 383.1L422.58 382.6Z" fill="#0000ff"/><path d="M432.12 399.25L432.35 399.76L432.57 400.26L432.77 400.94L433.02 401.78L433.23 402.97L433.47 404.32L433.63 405.5L433.82 406.85L433.97 408.54L434.11 410.23L434.26 412.26L434.41 414.46L434.53 416.99L434.65 419.53L434.76 422.91L434.9 427.13L434.98 431.36L435.08 436.43L435.15 443.19L435.22 449.95L435.25 461.78L435.3 475.3L435.33 500.65L435.37 526L435.39 543.35L435.48 545.84L435.59 548.33L435.75 550.82L435.95 553.31L436.19 555.8L436.49 558.29L436.83 560.78L437.22 563.27L437.67 565.76L438.17 568.25L425.67 568.25L426.17 565.76L426.62 563.27L427.01 560.78L427.36 558.29L427.65 555.8L427.9 553.31L428.09 550.82L428.25 548.33L428.37 545.84L428.45 543.35L428.47 526L428.51 500.65L428.54 475.3L428.59 461.78L428.62 449.95L428.69 443.19L428.76 436.43L428.86 431.36L428.95 427.13L429.08 422.91L429.19 419.53L429.31 416.99L429.43 414.46L429.59 412.26L429.73 410.23L429.88 408.54L430.03 406.85L430.21 405.5L430.37 404.32L430.61 402.97L430.82 401.78L431.07 400.94L431.27 400.26L431.5 399.76L431.72 399.25Z" fill="#000000"/><path d="M441.26 252.9L441.49 253.4L441.71 253.91L441.91 254.58L442.16 255.43L442.37 256.61L442.61 257.96L442.77 259.14L442.96 260.49L443.11 262.18L443.26 263.86L443.4 265.89L443.55 268.08L443.67 270.61L443.8 273.14L443.9 276.52L444.04 280.74L444.12 284.95L444.23 290.01L444.29 296.76L444.36 303.51L444.39 315.32L444.44 328.82L444.47 354.13L444.51 379.44L444.53 396.75L444.62 399.24L444.73 401.72L444.89 404.21L445.09 406.7L445.33 409.18L445.63 411.67L445.97 414.16L446.37 416.65L446.81 419.13L447.31 421.62L434.81 421.62L435.31 419.13L435.76 416.65L436.16 414.16L436.5 411.67L436.79 409.18L437.04 406.7L437.24 404.21L437.39 401.72L437.51 399.24L437.59 396.75L437.62 379.44L437.65 354.13L437.69 328.82L437.73 315.32L437.77 303.51L437.83 296.76L437.9 290.01L438 284.95L438.09 280.74L438.22 276.52L438.33 273.14L438.45 270.61L438.58 268.08L438.73 265.89L438.87 263.86L439.02 262.18L439.17 260.49L439.35 259.14L439.52 257.96L439.75 256.61L439.96 255.43L440.21 254.58L440.41 253.91L440.64 253.4L440.86 252.9Z" fill="#0000ff"/><path d="M450.4 400.07L450.63 400.58L450.85 401.08L451.05 401.75L451.3 402.6L451.51 403.77L451.75 405.12L451.91 406.3L452.1 407.64L452.25 409.32L452.4 411L452.54 413.02L452.69 415.21L452.81 417.73L452.94 420.25L453.04 423.62L453.18 427.82L453.26 432.03L453.36 437.07L453.43 443.8L453.5 450.53L453.53 462.3L453.58 475.75L453.61 500.98L453.65 526.21L453.67 543.43L453.75 545.91L453.87 548.4L454.03 550.88L454.23 553.36L454.47 555.84L454.77 558.32L455.11 560.8L455.51 563.29L455.95 565.77L456.45 568.25L443.95 568.25L444.46 565.77L444.9 563.29L445.3 560.8L445.64 558.32L445.93 555.84L446.18 553.36L446.38 550.88L446.54 548.4L446.65 545.91L446.74 543.43L446.76 526.21L446.8 500.98L446.83 475.75L446.88 462.3L446.91 450.53L446.98 443.8L447.04 437.07L447.15 432.03L447.23 427.82L447.37 423.62L447.47 420.25L447.59 417.73L447.72 415.21L447.87 413.02L448.01 411L448.16 409.32L448.31 407.64L448.49 406.3L448.66 405.12L448.9 403.77L449.1 402.6L449.35 401.75L449.55 401.08L449.78 400.58L450 400.07Z" fill="#009900"/><path d="M459.55 320.74L459.77 321.24L459.99 321.74L460.19 322.41L460.44 323.24L460.65 324.41L460.89 325.75L461.05 326.91L461.24 328.25L461.39 329.91L461.54 331.58L461.68 333.58L461.83 335.75L461.95 338.25L462.07 340.75L462.18 344.09L462.31 348.26L462.4 352.43L462.5 357.43L462.57 364.1L462.63 370.77L462.67 382.44L462.71 395.78L462.75 420.8L462.78 445.81L462.8 462.83L462.89 465.29L463 467.76L463.16 470.23L463.36 472.7L463.61 475.16L463.9 477.63L464.25 480.1L464.64 482.57L465.09 485.03L465.6 487.5L453.1 487.5L453.6 485.03L454.05 482.57L454.44 480.1L454.79 477.63L455.08 475.16L455.33 472.7L455.53 470.23L455.69 467.76L455.8 465.29L455.89 462.83L455.91 445.81L455.94 420.8L455.98 395.78L456.02 382.44L456.06 370.77L456.12 364.1L456.19 357.43L456.29 352.43L456.38 348.26L456.51 344.09L456.62 340.75L456.74 338.25L456.86 335.75L457.01 333.58L457.15 331.58L457.3 329.91L457.45 328.25L457.64 326.91L457.8 325.75L458.04 324.41L458.25 323.24L458.5 322.41L458.7 321.74L458.92 321.24L459.15 320.74Z" fill="#0000ff"/><path d="M468.69 222.56L468.91 223.06L469.14 223.56L469.34 224.23L469.58 225.06L469.79 226.23L470.03 227.56L470.2 228.73L470.38 230.06L470.53 231.73L470.68 233.39L470.82 235.39L470.97 237.56L471.09 240.06L471.22 242.56L471.32 245.89L471.46 250.06L471.54 254.22L471.64 259.22L471.71 265.88L471.77 272.55L471.81 284.21L471.85 297.54L471.89 322.54L471.92 347.53L471.94 364.52L472.03 366.99L472.15 369.45L472.3 371.92L472.5 374.39L472.75 376.85L473.04 379.32L473.39 381.79L473.78 384.25L474.23 386.72L474.74 389.18L462.24 389.18L462.74 386.72L463.19 384.25L463.58 381.79L463.93 379.32L464.22 376.85L464.47 374.39L464.67 371.92L464.83 369.45L464.94 366.99L465.03 364.52L465.05 347.53L465.09 322.54L465.12 297.54L465.17 284.21L465.2 272.55L465.26 265.88L465.33 259.22L465.43 254.22L465.52 250.06L465.65 245.89L465.76 242.56L465.88 240.06L466 237.56L466.15 235.39L466.29 233.39L466.44 231.73L466.59 230.06L466.78 228.73L466.94 227.56L467.18 226.23L467.39 225.06L467.64 224.23L467.84 223.56L468.06 223.06L468.29 222.56Z" fill="#cc6600"/><path d="M477.83 333.23L478.05 333.73L478.28 334.22L478.48 334.88L478.73 335.71L478.94 336.87L479.17 338.19L479.34 339.34L479.52 340.67L479.67 342.32L479.82 343.97L479.96 345.95L480.11 348.1L480.23 350.58L480.36 353.06L480.46 356.36L480.59 360.49L480.68 364.62L480.78 369.58L480.85 376.19L480.91 382.79L480.94 394.36L480.99 407.57L481.02 432.35L481.05 457.13L481.08 473.92L481.16 476.37L481.28 478.82L481.44 481.27L481.64 483.72L481.89 486.18L482.18 488.63L482.53 491.08L482.92 493.53L483.37 495.98L483.88 498.44L471.38 498.44L471.88 495.98L472.33 493.53L472.73 491.08L473.07 488.63L473.37 486.18L473.62 483.72L473.82 481.27L473.97 478.82L474.09 476.37L474.18 473.92L474.2 457.13L474.23 432.35L474.27 407.57L474.31 394.36L474.34 382.79L474.41 376.19L474.47 369.58L474.58 364.62L474.66 360.49L474.79 356.36L474.9 353.06L475.02 350.58L475.14 348.1L475.29 345.95L475.44 343.97L475.58 342.32L475.73 340.67L475.92 339.34L476.08 338.19L476.32 336.87L476.53 335.71L476.78 334.88L476.98 334.22L477.2 333.73L477.43 333.23Z" fill="#cc6600"/><path d="M486.97 218.31L487.19 218.8L487.42 219.29L487.62 219.95L487.87 220.77L488.08 221.92L488.31 223.23L488.48 224.38L488.66 225.69L488.81 227.33L488.96 228.97L489.1 230.94L489.25 233.07L489.37 235.53L489.49 237.99L489.6 241.27L489.73 245.37L489.82 249.47L489.92 254.39L489.98 260.95L490.05 267.51L490.08 278.99L490.12 292.11L490.15 316.72L490.19 341.32L490.21 357.92L490.3 360.36L490.41 362.8L490.57 365.24L490.77 367.68L491.02 370.12L491.32 372.56L491.66 375L492.06 377.44L492.51 379.88L493.02 382.32L480.52 382.32L481.02 379.88L481.47 377.44L481.87 375L482.22 372.56L482.51 370.12L482.76 367.68L482.96 365.24L483.12 362.8L483.24 360.36L483.32 357.92L483.35 341.32L483.38 316.72L483.42 292.11L483.46 278.99L483.49 267.51L483.55 260.95L483.62 254.39L483.72 249.47L483.8 245.37L483.94 241.27L484.04 237.99L484.16 235.53L484.28 233.07L484.44 230.94L484.58 228.97L484.73 227.33L484.87 225.69L485.06 224.38L485.22 223.23L485.46 221.92L485.67 220.77L485.92 219.95L486.12 219.29L486.34 218.8L486.57 218.31Z" fill="#cc6600"/><path d="M496.11 339.68L496.33 340.17L496.56 340.65L496.76 341.3L497.01 342.11L497.22 343.24L497.46 344.53L497.62 345.67L497.8 346.96L497.95 348.58L498.1 350.2L498.24 352.14L498.39 354.24L498.51 356.66L498.63 359.09L498.74 362.32L498.87 366.37L498.95 370.41L499.05 375.26L499.12 381.73L499.18 388.2L499.21 399.52L499.25 412.46L499.28 436.72L499.32 460.98L499.34 477.24L499.43 479.65L499.54 482.07L499.7 484.49L499.9 486.91L500.15 489.32L500.45 491.74L500.8 494.16L501.2 496.57L501.65 498.99L502.16 501.41L489.66 501.41L490.17 498.99L490.62 496.57L491.02 494.16L491.37 491.74L491.66 489.32L491.91 486.91L492.12 484.49L492.27 482.07L492.39 479.65L492.48 477.24L492.5 460.98L492.53 436.72L492.57 412.46L492.61 399.52L492.64 388.2L492.7 381.73L492.76 375.26L492.86 370.41L492.95 366.37L493.08 362.32L493.19 359.09L493.31 356.66L493.43 354.24L493.58 352.14L493.72 350.2L493.87 348.58L494.02 346.96L494.2 345.67L494.36 344.53L494.6 343.24L494.81 342.11L495.06 341.3L495.26 340.65L495.48 340.17L495.71 339.68Z" fill="#0000ff"/><path d="M505.25 375.37L505.47 375.85L505.7 376.33L505.9 376.97L506.15 377.77L506.36 378.89L506.6 380.17L506.76 381.29L506.94 382.58L507.09 384.18L507.24 385.78L507.38 387.7L507.53 389.78L507.65 392.19L507.77 394.59L507.88 397.79L508.01 401.8L508.09 405.8L508.19 410.61L508.25 417.01L508.31 423.42L508.34 434.63L508.38 447.44L508.42 471.47L508.45 495.5L508.47 511.52L508.56 513.92L508.68 516.33L508.84 518.73L509.04 521.13L509.29 523.53L509.59 525.93L509.94 528.33L510.34 530.74L510.79 533.14L511.3 535.54L498.8 535.54L499.31 533.14L499.76 530.74L500.16 528.33L500.51 525.93L500.81 523.53L501.06 521.13L501.26 518.73L501.42 516.33L501.54 513.92L501.63 511.52L501.65 495.5L501.68 471.47L501.72 447.44L501.76 434.63L501.79 423.42L501.85 417.01L501.91 410.61L502.01 405.8L502.09 401.8L502.22 397.79L502.33 394.59L502.45 392.19L502.57 389.78L502.72 387.7L502.86 385.78L503.01 384.18L503.16 382.58L503.34 381.29L503.5 380.17L503.74 378.89L503.95 377.77L504.2 376.97L504.4 376.33L504.63 375.85L504.85 375.37Z" fill="#0000ff"/><path d="M514.39 409.13L514.62 409.61L514.84 410.09L515.04 410.72L515.29 411.52L515.5 412.63L515.74 413.91L515.9 415.02L516.08 416.29L516.23 417.88L516.38 419.47L516.52 421.38L516.67 423.45L516.79 425.84L516.91 428.23L517.02 431.41L517.15 435.39L517.23 439.36L517.33 444.14L517.39 450.5L517.45 456.87L517.48 468.01L517.52 480.73L517.55 504.6L517.59 528.47L517.61 544.34L517.69 546.73L517.81 549.12L517.97 551.51L518.18 553.9L518.43 556.29L518.72 558.69L519.07 561.08L519.48 563.47L519.93 565.86L520.44 568.25L507.94 568.25L508.45 565.86L508.91 563.47L509.31 561.08L509.66 558.69L509.96 556.29L510.21 553.9L510.41 551.51L510.57 549.12L510.69 546.73L510.77 544.34L510.8 528.47L510.83 504.6L510.86 480.73L510.91 468.01L510.93 456.87L510.99 450.5L511.05 444.14L511.15 439.36L511.24 435.39L511.37 431.41L511.47 428.23L511.59 425.84L511.71 423.45L511.86 421.38L512 419.47L512.15 417.88L512.3 416.29L512.48 415.02L512.65 413.91L512.88 412.63L513.09 411.52L513.34 410.72L513.54 410.09L513.77 409.61L513.99 409.13Z" fill="#000000"/><path d="M523.53 317.13L523.76 317.6L523.98 318.07L524.18 318.71L524.43 319.49L524.64 320.6L524.88 321.86L525.04 322.96L525.22 324.23L525.37 325.8L525.52 327.38L525.66 329.27L525.81 331.33L525.93 333.69L526.05 336.06L526.16 339.21L526.29 343.16L526.37 347.1L526.47 351.83L526.53 358.14L526.59 364.45L526.61 375.49L526.65 388.11L526.69 411.78L526.72 435.44L526.74 451.1L526.83 453.48L526.95 455.85L527.11 458.23L527.31 460.61L527.56 462.99L527.86 465.36L528.21 467.74L528.61 470.12L529.07 472.5L529.58 474.87L517.08 474.87L517.59 472.5L518.05 470.12L518.45 467.74L518.8 465.36L519.1 462.99L519.35 460.61L519.56 458.23L519.72 455.85L519.84 453.48L519.92 451.1L519.94 435.44L519.98 411.78L520.01 388.11L520.05 375.49L520.08 364.45L520.14 358.14L520.2 351.83L520.3 347.1L520.38 343.16L520.51 339.21L520.61 336.06L520.73 333.69L520.85 331.33L521.01 329.27L521.15 327.38L521.29 325.8L521.44 324.23L521.62 322.96L521.79 321.86L522.02 320.6L522.23 319.49L522.48 318.71L522.68 318.07L522.91 317.6L523.13 317.13Z" fill="#0000ff"/><path d="M532.67 225.35L532.9 225.82L533.12 226.29L533.32 226.91L533.57 227.69L533.78 228.78L534.02 230.02L534.18 231.11L534.36 232.36L534.51 233.91L534.66 235.47L534.8 237.34L534.95 239.36L535.07 241.7L535.19 244.03L535.29 247.14L535.42 251.03L535.5 254.93L535.6 259.59L535.66 265.82L535.72 272.05L535.74 282.94L535.78 295.39L535.82 318.74L535.85 342.08L535.87 357.43L535.96 359.79L536.08 362.14L536.24 364.5L536.44 366.86L536.69 369.21L537 371.57L537.35 373.93L537.75 376.28L538.21 378.64L538.72 381L526.22 381L526.74 378.64L527.19 376.28L527.6 373.93L527.95 371.57L528.25 369.21L528.5 366.86L528.71 364.5L528.87 362.14L528.99 359.79L529.07 357.43L529.1 342.08L529.13 318.74L529.16 295.39L529.21 282.94L529.23 272.05L529.29 265.82L529.35 259.59L529.44 254.93L529.52 251.03L529.65 247.14L529.76 244.03L529.88 241.7L530 239.36L530.15 237.34L530.29 235.47L530.43 233.91L530.58 232.36L530.77 231.11L530.93 230.02L531.17 228.78L531.37 227.69L531.62 226.91L531.82 226.29L532.05 225.82L532.27 225.35Z" fill="#cc6600"/><path d="M541.81 194.61L542.04 195.07L542.26 195.53L542.46 196.15L542.71 196.91L542.92 197.99L543.16 199.22L543.32 200.29L543.5 201.52L543.65 203.06L543.8 204.59L543.94 206.44L544.09 208.43L544.21 210.74L544.33 213.04L544.43 216.11L544.56 219.95L544.64 223.79L544.74 228.4L544.79 234.54L544.85 240.68L544.87 251.44L544.91 263.72L544.95 286.76L544.98 309.8L545 324.83L545.09 327.17L545.21 329.51L545.37 331.84L545.57 334.18L545.83 336.51L546.13 338.85L546.48 341.19L546.89 343.52L547.35 345.86L547.86 348.19L535.36 348.19L535.88 345.86L536.34 343.52L536.75 341.19L537.1 338.85L537.4 336.51L537.65 334.18L537.86 331.84L538.02 329.51L538.14 327.17L538.23 324.83L538.25 309.8L538.28 286.76L538.32 263.72L538.36 251.44L538.37 240.68L538.43 234.54L538.49 228.4L538.59 223.79L538.67 219.95L538.8 216.11L538.9 213.04L539.02 210.74L539.14 208.43L539.29 206.44L539.43 204.59L539.58 203.06L539.72 201.52L539.91 200.29L540.07 199.22L540.31 197.99L540.52 196.91L540.76 196.15L540.96 195.53L541.19 195.07L541.41 194.61Z" fill="#cc6600"/><path d="M550.96 260.81L551.18 261.27L551.4 261.73L551.6 262.34L551.85 263.11L552.06 264.18L552.3 265.41L552.46 266.49L552.65 267.71L552.79 269.25L552.94 270.78L553.08 272.62L553.23 274.62L553.35 276.92L553.47 279.22L553.57 282.29L553.7 286.12L553.78 289.96L553.88 294.56L553.94 300.69L553.99 306.83L554.01 317.57L554.05 329.84L554.09 352.85L554.12 375.86L554.14 390.87L554.23 393.2L554.35 395.54L554.51 397.87L554.71 400.21L554.97 402.54L555.27 404.87L555.62 407.21L556.03 409.54L556.49 411.88L557 414.21L544.5 414.21L545.02 411.88L545.48 409.54L545.89 407.21L546.24 404.87L546.54 402.54L546.8 400.21L547 397.87L547.16 395.54L547.28 393.2L547.37 390.87L547.39 375.86L547.42 352.85L547.46 329.84L547.5 317.57L547.52 306.83L547.57 300.69L547.63 294.56L547.73 289.96L547.81 286.12L547.94 282.29L548.04 279.22L548.16 276.92L548.28 274.62L548.43 272.62L548.57 270.78L548.72 269.25L548.86 267.71L549.05 266.49L549.21 265.41L549.45 264.18L549.66 263.11L549.91 262.34L550.11 261.73L550.33 261.27L550.55 260.81Z" fill="#0000ff"/><path d="M560.1 402.5L560.32 402.96L560.55 403.42L560.75 404.03L560.99 404.79L561.2 405.86L561.44 407.09L561.6 408.16L561.79 409.38L561.93 410.91L562.08 412.44L562.22 414.28L562.37 416.27L562.49 418.57L562.61 420.86L562.71 423.92L562.84 427.75L562.92 431.57L563.02 436.17L563.08 442.29L563.13 448.41L563.15 459.12L563.19 471.36L563.22 494.32L563.26 517.27L563.28 532.23L563.37 534.56L563.49 536.89L563.65 539.22L563.85 541.55L564.11 543.88L564.41 546.21L564.76 548.54L565.17 550.87L565.63 553.2L566.15 555.53L553.65 555.53L554.16 553.2L554.62 550.87L555.03 548.54L555.38 546.21L555.69 543.88L555.94 541.55L556.14 539.22L556.31 536.89L556.43 534.56L556.51 532.23L556.53 517.27L556.57 494.32L556.6 471.36L556.64 459.12L556.66 448.41L556.72 442.29L556.78 436.17L556.87 431.57L556.95 427.75L557.08 423.92L557.18 420.86L557.3 418.57L557.42 416.27L557.57 414.28L557.71 412.44L557.86 410.91L558.01 409.38L558.19 408.16L558.35 407.09L558.59 405.86L558.8 404.79L559.05 404.03L559.25 403.42L559.47 402.96L559.7 402.5Z" fill="#0000ff"/><path d="M569.24 362.1L569.46 362.56L569.69 363.02L569.89 363.63L570.14 364.39L570.34 365.47L570.58 366.69L570.74 367.76L570.93 368.98L571.07 370.51L571.22 372.04L571.36 373.88L571.51 375.87L571.63 378.16L571.75 380.45L571.85 383.51L571.98 387.34L572.06 391.16L572.16 395.75L572.22 401.87L572.27 407.98L572.29 418.69L572.33 430.92L572.37 453.87L572.4 476.81L572.42 491.75L572.51 494.08L572.63 496.41L572.79 498.74L572.99 501.07L573.25 503.4L573.55 505.73L573.9 508.05L574.31 510.38L574.77 512.71L575.29 515.04L562.79 515.04L563.3 512.71L563.76 510.38L564.17 508.05L564.52 505.73L564.83 503.4L565.08 501.07L565.29 498.74L565.45 496.41L565.57 494.08L565.65 491.75L565.67 476.81L565.71 453.87L565.74 430.92L565.78 418.69L565.8 407.98L565.86 401.87L565.92 395.75L566.01 391.16L566.09 387.34L566.22 383.51L566.32 380.45L566.44 378.16L566.56 375.87L566.71 373.88L566.85 372.04L567 370.51L567.15 368.98L567.33 367.76L567.49 366.69L567.73 365.47L567.94 364.39L568.19 363.63L568.39 363.02L568.61 362.56L568.84 362.1Z" fill="#cc6600"/><path d="M578.38 416.22L578.6 416.68L578.83 417.13L579.03 417.74L579.28 418.5L579.48 419.57L579.72 420.78L579.88 421.85L580.07 423.06L580.21 424.58L580.36 426.1L580.5 427.93L580.65 429.91L580.77 432.19L580.89 434.47L580.99 437.51L581.12 441.31L581.2 445.11L581.3 449.67L581.35 455.75L581.41 461.83L581.43 472.47L581.47 484.64L581.5 507.44L581.54 530.24L581.56 545.05L581.64 547.37L581.76 549.69L581.93 552.01L582.13 554.33L582.38 556.65L582.69 558.97L583.04 561.29L583.45 563.61L583.91 565.93L584.43 568.25L571.93 568.25L572.45 565.93L572.91 563.61L573.31 561.29L573.67 558.97L573.97 556.65L574.22 554.33L574.43 552.01L574.59 549.69L574.71 547.37L574.8 545.05L574.82 530.24L574.85 507.44L574.89 484.64L574.93 472.47L574.95 461.83L575 455.75L575.06 449.67L575.16 445.11L575.24 441.31L575.36 437.51L575.47 434.47L575.59 432.19L575.7 429.91L575.86 427.93L575.99 426.1L576.14 424.58L576.29 423.06L576.47 421.85L576.63 420.78L576.87 419.57L577.08 418.5L577.33 417.74L577.53 417.13L577.75 416.68L577.98 416.22Z" fill="#000000"/><path d="M587.52 398.7L587.74 399.16L587.97 399.61L588.17 400.22L588.42 400.98L588.63 402.04L588.86 403.26L589.02 404.32L589.21 405.53L589.36 407.05L589.5 408.57L589.64 410.39L589.79 412.37L589.91 414.64L590.03 416.92L590.13 419.96L590.26 423.75L590.34 427.55L590.44 432.11L590.49 438.18L590.55 444.25L590.57 454.88L590.61 467.03L590.64 489.81L590.68 512.58L590.7 527.36L590.78 529.68L590.9 532L591.07 534.32L591.27 536.63L591.53 538.95L591.83 541.27L592.18 543.59L592.59 545.91L593.05 548.23L593.57 550.54L581.07 550.54L581.59 548.23L582.05 545.91L582.46 543.59L582.81 541.27L583.11 538.95L583.37 536.63L583.57 534.32L583.73 532L583.86 529.68L583.94 527.36L583.96 512.58L584 489.81L584.03 467.03L584.07 454.88L584.09 444.25L584.14 438.18L584.2 432.11L584.3 427.55L584.38 423.75L584.5 419.96L584.61 416.92L584.73 414.64L584.85 412.37L585 410.39L585.14 408.57L585.28 407.05L585.43 405.53L585.61 404.32L585.77 403.26L586.01 402.04L586.22 400.98L586.47 400.22L586.67 399.61L586.89 399.16L587.12 398.7Z" fill="#0000ff"/><path d="M596.66 362.05L596.88 362.51L597.11 362.96L597.31 363.57L597.56 364.33L597.77 365.39L598 366.6L598.17 367.66L598.35 368.87L598.5 370.39L598.64 371.9L598.78 373.72L598.93 375.69L599.05 377.96L599.17 380.24L599.27 383.27L599.4 387.06L599.48 390.84L599.58 395.39L599.63 401.45L599.69 407.51L599.71 418.12L599.75 430.24L599.78 452.97L599.81 475.7L599.84 490.43L599.92 492.74L600.04 495.06L600.2 497.37L600.41 499.69L600.66 502L600.97 504.32L601.32 506.63L601.73 508.95L602.19 511.26L602.71 513.58L590.21 513.58L590.73 511.26L591.19 508.95L591.6 506.63L591.95 504.32L592.26 502L592.51 499.69L592.72 497.37L592.88 495.06L593 492.74L593.08 490.43L593.11 475.7L593.14 452.97L593.17 430.24L593.21 418.12L593.23 407.51L593.29 401.45L593.34 395.39L593.44 390.84L593.52 387.06L593.65 383.27L593.75 380.24L593.87 377.96L593.99 375.69L594.14 373.72L594.28 371.9L594.42 370.39L594.57 368.87L594.75 367.66L594.92 366.6L595.15 365.39L595.36 364.33L595.61 363.57L595.81 362.96L596.04 362.51L596.26 362.05Z" fill="#cc6600"/><path d="M605.8 400.53L606.03 400.98L606.25 401.44L606.45 402.05L606.7 402.8L606.91 403.86L607.15 405.07L607.31 406.14L607.49 407.35L607.64 408.86L607.78 410.38L607.92 412.19L608.07 414.16L608.19 416.44L608.31 418.71L608.41 421.74L608.54 425.52L608.62 429.31L608.72 433.86L608.77 439.91L608.83 445.97L608.85 456.58L608.89 468.7L608.92 491.42L608.96 514.14L608.98 528.86L609.06 531.18L609.18 533.49L609.35 535.81L609.55 538.12L609.81 540.43L610.11 542.75L610.46 545.06L610.87 547.38L611.33 549.69L611.85 552.01L599.35 552.01L599.87 549.69L600.33 547.38L600.74 545.06L601.09 542.75L601.4 540.43L601.65 538.12L601.86 535.81L602.02 533.49L602.14 531.18L602.22 528.86L602.25 514.14L602.28 491.42L602.31 468.7L602.35 456.58L602.37 445.97L602.43 439.91L602.48 433.86L602.58 429.31L602.66 425.52L602.79 421.74L602.89 418.71L603.01 416.44L603.13 414.16L603.28 412.19L603.42 410.38L603.56 408.86L603.71 407.35L603.9 406.14L604.06 405.07L604.29 403.86L604.5 402.8L604.75 402.05L604.95 401.44L605.18 400.98L605.4 400.53Z" fill="#cc6600"/><path d="M614.94 384.38L615.17 384.83L615.39 385.28L615.59 385.89L615.84 386.64L616.05 387.69L616.29 388.89L616.45 389.95L616.63 391.15L616.78 392.66L616.92 394.16L617.06 395.97L617.21 397.92L617.33 400.18L617.45 402.44L617.55 405.45L617.68 409.21L617.76 412.97L617.86 417.48L617.91 423.5L617.97 429.52L617.98 440.06L618.02 452.09L618.06 474.66L618.09 497.23L618.11 511.81L618.2 514.11L618.32 516.41L618.48 518.72L618.69 521.02L618.94 523.33L619.25 525.63L619.6 527.94L620.01 530.24L620.47 532.55L620.99 534.85L608.49 534.85L609.01 532.55L609.47 530.24L609.88 527.94L610.24 525.63L610.54 523.33L610.8 521.02L611 518.72L611.16 516.41L611.29 514.11L611.37 511.81L611.39 497.23L611.43 474.66L611.46 452.09L611.5 440.06L611.52 429.52L611.57 423.5L611.63 417.48L611.72 412.97L611.8 409.21L611.93 405.45L612.03 402.44L612.15 400.18L612.27 397.92L612.42 395.97L612.56 394.16L612.71 392.66L612.85 391.15L613.04 389.95L613.2 388.89L613.44 387.69L613.64 386.64L613.89 385.89L614.09 385.28L614.32 384.83L614.54 384.38Z" fill="#0000ff"/><path d="M624.08 409.09L624.31 409.54L624.53 409.99L624.73 410.59L624.98 411.34L625.19 412.39L625.43 413.59L625.59 414.65L625.77 415.85L625.92 417.35L626.07 418.85L626.2 420.66L626.36 422.61L626.47 424.87L626.59 427.12L626.69 430.13L626.82 433.88L626.9 437.64L627 442.15L627.05 448.16L627.11 454.17L627.12 464.69L627.16 476.72L627.2 499.26L627.23 521.8L627.25 536.35L627.34 538.65L627.46 540.95L627.62 543.25L627.83 545.56L628.08 547.86L628.39 550.16L628.74 552.47L629.15 554.77L629.61 557.07L630.13 559.37L617.63 559.37L618.15 557.07L618.62 554.77L619.02 552.47L619.38 550.16L619.68 547.86L619.94 545.56L620.14 543.25L620.31 540.95L620.43 538.65L620.51 536.35L620.54 521.8L620.57 499.26L620.6 476.72L620.64 464.69L620.66 454.17L620.71 448.16L620.77 442.15L620.86 437.64L620.94 433.88L621.07 430.13L621.17 427.12L621.29 424.87L621.41 422.61L621.56 420.66L621.7 418.85L621.85 417.35L621.99 415.85L622.18 414.65L622.34 413.59L622.58 412.39L622.79 411.34L623.03 410.59L623.23 409.99L623.46 409.54L623.68 409.09Z" fill="#cc6600"/><path d="M633.22 411.42L633.45 411.87L633.67 412.32L633.87 412.92L634.12 413.67L634.33 414.72L634.57 415.93L634.73 416.98L634.91 418.18L635.06 419.68L635.21 421.18L635.35 422.99L635.5 424.94L635.61 427.19L635.73 429.45L635.84 432.45L635.96 436.21L636.04 439.97L636.14 444.47L636.19 450.48L636.25 456.49L636.27 467.01L636.3 479.03L636.34 501.56L636.37 524.1L636.39 538.64L636.48 540.94L636.6 543.24L636.76 545.54L636.97 547.85L637.22 550.15L637.53 552.45L637.88 554.75L638.29 557.06L638.75 559.36L639.27 561.66L626.77 561.66L627.29 559.36L627.76 557.06L628.16 554.75L628.52 552.45L628.82 550.15L629.08 547.85L629.29 545.54L629.45 543.24L629.57 540.94L629.65 538.64L629.68 524.1L629.71 501.56L629.74 479.03L629.78 467.01L629.8 456.49L629.85 450.48L629.91 444.47L630.01 439.97L630.09 436.21L630.21 432.45L630.31 429.45L630.43 427.19L630.55 424.94L630.7 422.99L630.84 421.18L630.99 419.68L631.13 418.18L631.32 416.98L631.48 415.93L631.72 414.72L631.93 413.67L632.18 412.92L632.37 412.32L632.6 411.87L632.82 411.42Z" fill="#009900"/><path d="M642.37 348.15L642.59 348.6L642.81 349.05L643.01 349.65L643.26 350.4L643.47 351.45L643.71 352.65L643.87 353.7L644.05 354.91L644.2 356.41L644.35 357.91L644.49 359.71L644.64 361.66L644.76 363.92L644.87 366.17L644.98 369.17L645.1 372.93L645.18 376.68L645.28 381.19L645.33 387.2L645.39 393.21L645.41 403.72L645.44 415.74L645.48 438.27L645.51 460.79L645.53 475.32L645.62 477.63L645.74 479.93L645.9 482.23L646.11 484.53L646.36 486.83L646.67 489.14L647.02 491.44L647.43 493.74L647.9 496.04L648.41 498.34L635.91 498.34L636.43 496.04L636.9 493.74L637.31 491.44L637.66 489.14L637.97 486.83L638.22 484.53L638.43 482.23L638.59 479.93L638.71 477.63L638.8 475.32L638.82 460.79L638.85 438.27L638.89 415.74L638.92 403.72L638.94 393.21L639 387.2L639.05 381.19L639.15 376.68L639.23 372.93L639.35 369.17L639.46 366.17L639.57 363.92L639.69 361.66L639.84 359.71L639.98 357.91L640.13 356.41L640.28 354.91L640.46 353.7L640.62 352.65L640.86 351.45L641.07 350.4L641.32 349.65L641.52 349.05L641.74 348.6L641.96 348.15Z" fill="#cc6600"/><path d="M651.51 384.52L651.73 384.97L651.96 385.42L652.15 386.01L652.4 386.76L652.61 387.81L652.85 389L653.01 390.05L653.2 391.25L653.34 392.74L653.49 394.24L653.63 396.03L653.78 397.98L653.9 400.22L654.01 402.46L654.12 405.46L654.24 409.19L654.32 412.93L654.42 417.42L654.47 423.4L654.53 429.39L654.54 439.85L654.58 451.82L654.62 474.25L654.65 496.69L654.67 511.12L654.76 513.41L654.88 515.71L655.04 518.01L655.25 520.3L655.5 522.6L655.81 524.89L656.16 527.19L656.57 529.48L657.04 531.78L657.56 534.07L645.06 534.07L645.58 531.78L646.04 529.48L646.45 527.19L646.8 524.89L647.11 522.6L647.36 520.3L647.57 518.01L647.73 515.71L647.85 513.41L647.94 511.12L647.96 496.69L648 474.25L648.03 451.82L648.07 439.85L648.08 429.39L648.14 423.4L648.19 417.42L648.29 412.93L648.37 409.19L648.5 405.46L648.6 402.46L648.72 400.22L648.83 397.98L648.98 396.03L649.12 394.24L649.27 392.74L649.42 391.25L649.6 390.05L649.76 389L650 387.81L650.21 386.76L650.46 386.01L650.66 385.42L650.88 384.97L651.11 384.52Z" fill="#0000ff"/><path d="M660.65 392.57L660.87 393.02L661.1 393.46L661.3 394.06L661.54 394.8L661.75 395.84L661.99 397.03L662.15 398.07L662.34 399.27L662.48 400.75L662.63 402.24L662.77 404.03L662.92 405.96L663.04 408.19L663.15 410.42L663.26 413.4L663.38 417.12L663.46 420.84L663.56 425.3L663.61 431.25L663.67 437.2L663.68 447.62L663.72 459.52L663.75 481.84L663.79 504.15L663.81 518.47L663.89 520.76L664.02 523.05L664.18 525.33L664.39 527.62L664.64 529.91L664.95 532.2L665.3 534.49L665.71 536.77L666.18 539.06L666.7 541.35L654.2 541.35L654.72 539.06L655.18 536.77L655.59 534.49L655.95 532.2L656.25 529.91L656.51 527.62L656.72 525.33L656.88 523.05L657 520.76L657.09 518.47L657.11 504.15L657.14 481.84L657.18 459.52L657.21 447.62L657.23 437.2L657.28 431.25L657.34 425.3L657.43 420.84L657.51 417.12L657.64 413.4L657.74 410.42L657.86 408.19L657.98 405.96L658.13 404.03L658.27 402.24L658.41 400.75L658.56 399.27L658.74 398.07L658.9 397.03L659.14 395.84L659.35 394.8L659.6 394.06L659.8 393.46L660.02 393.02L660.25 392.57Z" fill="#cc6600"/><path d="M669.79 314.25L670.01 314.69L670.24 315.14L670.44 315.73L670.69 316.48L670.89 317.52L671.13 318.71L671.29 319.75L671.48 320.94L671.62 322.43L671.77 323.92L671.91 325.7L672.06 327.64L672.18 329.87L672.3 332.1L672.4 335.08L672.52 338.79L672.6 342.51L672.7 346.98L672.75 352.93L672.81 358.88L672.82 369.29L672.86 381.2L672.89 403.51L672.93 425.83L672.95 440.15L673.03 442.43L673.16 444.72L673.32 447.01L673.53 449.3L673.78 451.59L674.09 453.87L674.44 456.16L674.85 458.45L675.32 460.74L675.84 463.02L663.34 463.02L663.86 460.74L664.32 458.45L664.73 456.16L665.09 453.87L665.39 451.59L665.65 449.3L665.86 447.01L666.02 444.72L666.14 442.43L666.23 440.15L666.25 425.83L666.28 403.51L666.32 381.2L666.35 369.29L666.37 358.88L666.42 352.93L666.48 346.98L666.57 342.51L666.65 338.79L666.78 335.08L666.88 332.1L667 329.87L667.12 327.64L667.27 325.7L667.41 323.92L667.55 322.43L667.7 320.94L667.88 319.75L668.04 318.71L668.28 317.52L668.49 316.48L668.74 315.73L668.94 315.14L669.16 314.69L669.39 314.25Z" fill="#0000ff"/><path d="M678.93 344.72L679.15 345.16L679.38 345.61L679.58 346.2L679.83 346.94L680.04 347.98L680.27 349.17L680.43 350.21L680.62 351.39L680.76 352.88L680.91 354.36L681.05 356.14L681.2 358.07L681.32 360.29L681.44 362.52L681.54 365.49L681.66 369.2L681.74 372.91L681.84 377.36L681.89 383.29L681.95 389.23L681.96 399.61L682 411.48L682.03 433.74L682.07 455.99L682.09 470.25L682.17 472.53L682.3 474.81L682.46 477.1L682.67 479.38L682.92 481.66L683.23 483.95L683.58 486.23L683.99 488.52L684.46 490.8L684.98 493.08L672.48 493.08L673 490.8L673.46 488.52L673.87 486.23L674.23 483.95L674.54 481.66L674.79 479.38L675 477.1L675.16 474.81L675.28 472.53L675.37 470.25L675.39 455.99L675.43 433.74L675.46 411.48L675.5 399.61L675.51 389.23L675.57 383.29L675.62 377.36L675.72 372.91L675.79 369.2L675.92 365.49L676.02 362.52L676.14 360.29L676.26 358.07L676.41 356.14L676.55 354.36L676.69 352.88L676.84 351.39L677.02 350.21L677.19 349.17L677.42 347.98L677.63 346.94L677.88 346.2L678.08 345.61L678.3 345.16L678.53 344.72Z" fill="#cc6600"/><path d="M688.07 312.23L688.29 312.67L688.52 313.11L688.72 313.7L688.97 314.43L689.18 315.46L689.41 316.63L689.57 317.65L689.76 318.83L689.9 320.29L690.05 321.75L690.19 323.51L690.34 325.42L690.46 327.61L690.57 329.81L690.68 332.74L690.8 336.4L690.88 340.07L690.97 344.46L691.03 350.32L691.08 356.18L691.09 366.43L691.13 378.15L691.16 400.13L691.2 422.1L691.22 436.08L691.3 438.34L691.43 440.61L691.59 442.87L691.8 445.14L692.05 447.4L692.36 449.66L692.72 451.93L693.13 454.19L693.6 456.46L694.12 458.72L681.62 458.72L682.14 456.46L682.61 454.19L683.02 451.93L683.38 449.66L683.69 447.4L683.94 445.14L684.15 442.87L684.31 440.61L684.44 438.34L684.52 436.08L684.54 422.1L684.58 400.13L684.61 378.15L684.65 366.43L684.66 356.18L684.71 350.32L684.77 344.46L684.86 340.07L684.94 336.4L685.06 332.74L685.17 329.81L685.28 327.61L685.4 325.42L685.55 323.51L685.69 321.75L685.84 320.29L685.98 318.83L686.17 317.65L686.33 316.63L686.56 315.46L686.77 314.43L687.02 313.7L687.22 313.11L687.45 312.67L687.67 312.23Z" fill="#cc6600"/><path d="M697.21 359.4L697.44 359.84L697.66 360.27L697.86 360.85L698.11 361.58L698.32 362.59L698.55 363.75L698.72 364.77L698.9 365.93L699.04 367.38L699.19 368.83L699.33 370.57L699.48 372.45L699.6 374.63L699.71 376.8L699.81 379.71L699.94 383.33L700.02 386.96L700.11 391.31L700.16 397.11L700.22 402.91L700.23 413.06L700.26 424.66L700.3 446.42L700.33 468.17L700.35 481.93L700.44 484.18L700.56 486.43L700.72 488.68L700.93 490.93L701.19 493.18L701.5 495.43L701.86 497.68L702.27 499.93L702.74 502.18L703.26 504.43L690.76 504.43L691.29 502.18L691.75 499.93L692.17 497.68L692.53 495.43L692.83 493.18L693.09 490.93L693.3 488.68L693.46 486.43L693.59 484.18L693.67 481.93L693.69 468.17L693.73 446.42L693.76 424.66L693.8 413.06L693.81 402.91L693.86 397.11L693.91 391.31L694 386.96L694.08 383.33L694.21 379.71L694.31 376.8L694.43 374.63L694.54 372.45L694.69 370.57L694.83 368.83L694.98 367.38L695.12 365.93L695.31 364.77L695.47 363.75L695.71 362.59L695.91 361.58L696.16 360.85L696.36 360.27L696.59 359.84L696.81 359.4Z" fill="#cc6600"/><path d="M706.35 416.95L706.58 417.39L706.8 417.82L707 418.4L707.25 419.13L707.46 420.14L707.7 421.3L707.86 422.32L708.04 423.48L708.19 424.93L708.33 426.38L708.47 428.11L708.62 430L708.74 432.17L708.85 434.35L708.96 437.25L709.08 440.87L709.16 444.49L709.25 448.84L709.3 454.64L709.36 460.44L709.37 470.58L709.4 482.18L709.44 503.92L709.47 525.66L709.49 539.4L709.58 541.65L709.7 543.9L709.86 546.15L710.07 548.39L710.33 550.64L710.64 552.89L711 555.14L711.41 557.39L711.88 559.64L712.4 561.89L699.9 561.89L700.43 559.64L700.89 557.39L701.31 555.14L701.67 552.89L701.97 550.64L702.23 548.39L702.44 546.15L702.6 543.9L702.73 541.65L702.81 539.4L702.83 525.66L702.87 503.92L702.9 482.18L702.94 470.58L702.95 460.44L703 454.64L703.05 448.84L703.15 444.49L703.22 440.87L703.35 437.25L703.45 434.35L703.57 432.17L703.68 430L703.83 428.11L703.97 426.38L704.12 424.93L704.26 423.48L704.45 422.32L704.61 421.3L704.85 420.14L705.05 419.13L705.3 418.4L705.5 417.82L705.73 417.39L705.95 416.95Z" fill="#cc6600"/><path d="M715.49 210.67L715.72 211.1L715.94 211.53L716.14 212.1L716.39 212.82L716.6 213.83L716.84 214.98L717 215.98L717.18 217.13L717.33 218.57L717.47 220L717.61 221.73L717.76 223.59L717.88 225.75L717.99 227.9L718.09 230.77L718.22 234.36L718.3 237.95L718.39 242.26L718.44 248.01L718.49 253.75L718.5 263.8L718.54 275.29L718.57 296.83L718.6 318.37L718.62 331.92L718.71 334.15L718.83 336.39L719 338.62L719.21 340.86L719.47 343.1L719.77 345.33L720.13 347.57L720.55 349.81L721.02 352.04L721.54 354.28L709.04 354.28L709.57 352.04L710.04 349.81L710.45 347.57L710.81 345.33L711.12 343.1L711.38 340.86L711.59 338.62L711.75 336.39L711.88 334.15L711.96 331.92L711.98 318.37L712.02 296.83L712.05 275.29L712.09 263.8L712.09 253.75L712.15 248.01L712.2 242.26L712.29 237.95L712.37 234.36L712.49 230.77L712.59 227.9L712.71 225.75L712.83 223.59L712.98 221.73L713.11 220L713.26 218.57L713.41 217.13L713.59 215.98L713.75 214.98L713.99 213.83L714.2 212.82L714.44 212.1L714.64 211.53L714.87 211.1L715.09 210.67Z" fill="#cc6600"/><path d="M724.63 403.23L724.86 403.66L725.08 404.09L725.28 404.66L725.53 405.37L725.74 406.38L725.98 407.52L726.14 408.52L726.32 409.66L726.47 411.09L726.61 412.52L726.75 414.24L726.9 416.1L727.02 418.24L727.13 420.39L727.23 423.25L727.36 426.82L727.44 430.39L727.53 434.68L727.58 440.4L727.63 446.12L727.64 456.13L727.67 467.57L727.71 489.01L727.74 510.46L727.76 523.9L727.85 526.13L727.97 528.36L728.14 530.59L728.35 532.82L728.6 535.05L728.91 537.28L729.27 539.51L729.69 541.74L730.16 543.97L730.68 546.2L718.18 546.2L718.71 543.97L719.18 541.74L719.6 539.51L719.96 537.28L720.26 535.05L720.52 532.82L720.73 530.59L720.9 528.36L721.02 526.13L721.11 523.9L721.13 510.46L721.16 489.01L721.19 467.57L721.23 456.13L721.24 446.12L721.29 440.4L721.34 434.68L721.43 430.39L721.51 426.82L721.63 423.25L721.73 420.39L721.85 418.24L721.97 416.1L722.12 414.24L722.26 412.52L722.4 411.09L722.55 409.66L722.73 408.52L722.89 407.52L723.13 406.38L723.34 405.37L723.59 404.66L723.78 404.09L724.01 403.66L724.23 403.23Z" fill="#cc6600"/><path d="M733.78 418.88L734 419.3L734.22 419.73L734.42 420.3L734.67 421.02L734.88 422.01L735.12 423.16L735.28 424.15L735.46 425.3L735.61 426.72L735.75 428.15L735.89 429.86L736.04 431.71L736.16 433.85L736.27 435.99L736.37 438.85L736.5 442.41L736.58 445.98L736.67 450.26L736.72 455.96L736.77 461.67L736.78 471.66L736.81 483.07L736.85 504.47L736.88 525.86L736.9 539.26L736.99 541.49L737.11 543.71L737.27 545.94L737.48 548.17L737.74 550.39L738.05 552.62L738.41 554.85L738.83 557.07L739.3 559.3L739.83 561.52L727.33 561.52L727.85 559.3L728.32 557.07L728.74 554.85L729.1 552.62L729.41 550.39L729.67 548.17L729.88 545.94L730.04 543.71L730.16 541.49L730.25 539.26L730.27 525.86L730.3 504.47L730.34 483.07L730.37 471.66L730.38 461.67L730.43 455.96L730.48 450.26L730.57 445.98L730.65 442.41L730.78 438.85L730.88 435.99L730.99 433.85L731.11 431.71L731.26 429.86L731.4 428.15L731.54 426.72L731.69 425.3L731.87 424.15L732.03 423.16L732.27 422.01L732.48 421.02L732.73 420.3L732.93 419.73L733.15 419.3L733.38 418.88Z" fill="#009900"/><path d="M742.92 211.63L743.14 212.06L743.37 212.48L743.56 213.06L743.81 213.77L744.02 214.77L744.26 215.91L744.42 216.91L744.6 218.05L744.75 219.47L744.89 220.9L745.03 222.61L745.18 224.47L745.3 226.61L745.42 228.75L745.52 231.6L745.64 235.17L745.72 238.73L745.81 243.01L745.86 248.72L745.91 254.42L745.92 264.41L745.95 275.82L745.99 297.22L746.02 318.62L746.04 332.01L746.13 334.24L746.25 336.47L746.42 338.69L746.63 340.92L746.88 343.14L747.19 345.37L747.55 347.6L747.97 349.82L748.44 352.05L748.97 354.28L736.47 354.28L736.99 352.05L737.46 349.82L737.88 347.6L738.24 345.37L738.55 343.14L738.81 340.92L739.02 338.69L739.18 336.47L739.3 334.24L739.39 332.01L739.41 318.62L739.45 297.22L739.48 275.82L739.51 264.41L739.52 254.42L739.57 248.72L739.62 243.01L739.72 238.73L739.79 235.17L739.92 231.6L740.02 228.75L740.13 226.61L740.25 224.47L740.4 222.61L740.54 220.9L740.68 219.47L740.83 218.05L741.01 216.91L741.17 215.91L741.41 214.77L741.62 213.77L741.87 213.06L742.07 212.48L742.29 212.06L742.52 211.63Z" fill="#cc6600"/><path d="M752.06 425.97L752.28 426.39L752.51 426.82L752.71 427.39L752.95 428.1L753.16 429.1L753.4 430.24L753.56 431.23L753.74 432.37L753.89 433.79L754.03 435.22L754.17 436.92L754.32 438.77L754.44 440.91L754.56 443.04L754.66 445.89L754.78 449.44L754.86 453L754.95 457.27L755 462.96L755.05 468.65L755.06 478.61L755.09 489.99L755.13 511.34L755.16 532.68L755.18 546.02L755.27 548.24L755.39 550.47L755.55 552.69L755.77 554.91L756.02 557.14L756.33 559.36L756.69 561.58L757.11 563.8L757.58 566.03L758.11 568.25L745.61 568.25L746.13 566.03L746.6 563.8L747.02 561.58L747.38 559.36L747.69 557.14L747.95 554.91L748.16 552.69L748.32 550.47L748.45 548.24L748.53 546.02L748.55 532.68L748.59 511.34L748.62 489.99L748.66 478.61L748.66 468.65L748.71 462.96L748.77 457.27L748.86 453L748.93 449.44L749.06 445.89L749.16 443.04L749.27 440.91L749.39 438.77L749.54 436.92L749.68 435.22L749.82 433.79L749.97 432.37L750.15 431.23L750.31 430.24L750.55 429.1L750.76 428.1L751.01 427.39L751.21 426.82L751.43 426.39L751.66 425.97Z" fill="#000000"/><path d="M761.2 426.52L761.42 426.94L761.65 427.37L761.85 427.93L762.1 428.64L762.3 429.63L762.54 430.77L762.7 431.76L762.88 432.89L763.03 434.31L763.18 435.73L763.31 437.43L763.46 439.27L763.58 441.4L763.7 443.52L763.8 446.36L763.92 449.9L764 453.45L764.09 457.7L764.14 463.37L764.19 469.04L764.2 478.96L764.23 490.3L764.26 511.56L764.3 532.82L764.32 546.08L764.4 548.29L764.53 550.51L764.69 552.73L764.9 554.95L765.16 557.16L765.47 559.38L765.83 561.6L766.25 563.82L766.72 566.03L767.25 568.25L754.75 568.25L755.28 566.03L755.75 563.82L756.16 561.6L756.52 559.38L756.83 557.16L757.09 554.95L757.3 552.73L757.47 550.51L757.59 548.29L757.68 546.08L757.7 532.82L757.73 511.56L757.77 490.3L757.8 478.96L757.81 469.04L757.86 463.37L757.91 457.7L758 453.45L758.08 449.9L758.2 446.36L758.3 443.52L758.42 441.4L758.53 439.27L758.68 437.43L758.82 435.73L758.97 434.31L759.11 432.89L759.29 431.76L759.46 430.77L759.69 429.63L759.9 428.64L760.15 427.93L760.35 427.37L760.57 426.94L760.8 426.52Z" fill="#000000"/><path d="M770.34 194.79L770.56 195.22L770.79 195.64L770.99 196.21L771.24 196.91L771.44 197.9L771.68 199.04L771.84 200.03L772.03 201.16L772.17 202.57L772.32 203.99L772.45 205.69L772.6 207.52L772.72 209.65L772.84 211.77L772.94 214.6L773.06 218.13L773.14 221.67L773.23 225.91L773.28 231.57L773.33 237.23L773.34 247.13L773.37 258.45L773.4 279.67L773.44 300.89L773.46 314.11L773.54 316.32L773.67 318.54L773.83 320.75L774.04 322.96L774.3 325.18L774.61 327.39L774.97 329.61L775.39 331.82L775.86 334.04L776.39 336.25L763.89 336.25L764.42 334.04L764.89 331.82L765.3 329.61L765.67 327.39L765.98 325.18L766.23 322.96L766.45 320.75L766.61 318.54L766.73 316.32L766.82 314.11L766.84 300.89L766.88 279.67L766.91 258.45L766.94 247.13L766.95 237.23L767 231.57L767.05 225.91L767.14 221.67L767.22 218.13L767.34 214.6L767.44 211.77L767.56 209.65L767.67 207.52L767.82 205.69L767.96 203.99L768.11 202.57L768.25 201.16L768.44 200.03L768.6 199.04L768.83 197.9L769.04 196.91L769.29 196.21L769.49 195.64L769.71 195.22L769.94 194.79Z" fill="#cc6600"/><path d="M779.48 365.99L779.7 366.41L779.93 366.83L780.13 367.4L780.38 368.1L780.59 369.08L780.82 370.21L780.98 371.19L781.17 372.32L781.31 373.72L781.46 375.13L781.59 376.81L781.74 378.64L781.86 380.75L781.98 382.86L782.08 385.67L782.2 389.19L782.28 392.7L782.37 396.92L782.42 402.54L782.47 408.17L782.47 418.01L782.51 429.25L782.54 450.34L782.57 471.43L782.59 484.52L782.68 486.73L782.8 488.93L782.97 491.14L783.18 493.34L783.44 495.55L783.75 497.76L784.11 499.96L784.53 502.17L785 504.37L785.53 506.58L773.03 506.58L773.56 504.37L774.03 502.17L774.45 499.96L774.81 497.76L775.12 495.55L775.38 493.34L775.59 491.14L775.76 488.93L775.88 486.73L775.97 484.52L775.99 471.43L776.02 450.34L776.05 429.25L776.09 418.01L776.09 408.17L776.14 402.54L776.19 396.92L776.28 392.7L776.36 389.19L776.48 385.67L776.58 382.86L776.7 380.75L776.82 378.64L776.97 376.81L777.1 375.13L777.25 373.72L777.39 372.32L777.58 371.19L777.74 370.21L777.97 369.08L778.18 368.1L778.43 367.4L778.63 366.83L778.86 366.41L779.08 365.99Z" fill="#0000ff"/><path d="M788.62 427.84L788.85 428.26L789.07 428.69L789.27 429.25L789.52 429.95L789.73 430.93L789.96 432.06L790.12 433.04L790.31 434.16L790.45 435.57L790.6 436.97L790.74 438.65L790.88 440.48L791 442.59L791.12 444.69L791.22 447.5L791.34 451.01L791.42 454.52L791.51 458.73L791.56 464.35L791.61 469.97L791.61 479.79L791.65 491.03L791.68 512.09L791.71 533.15L791.73 546.21L791.82 548.41L791.94 550.62L792.11 552.82L792.32 555.03L792.58 557.23L792.89 559.43L793.25 561.64L793.67 563.84L794.14 566.05L794.67 568.25L782.17 568.25L782.7 566.05L783.17 563.84L783.59 561.64L783.95 559.43L784.26 557.23L784.52 555.03L784.73 552.82L784.9 550.62L785.02 548.41L785.11 546.21L785.13 533.15L785.16 512.09L785.2 491.03L785.23 479.79L785.24 469.97L785.29 464.35L785.34 458.73L785.43 454.52L785.5 451.01L785.63 447.5L785.72 444.69L785.84 442.59L785.96 440.48L786.11 438.65L786.24 436.97L786.39 435.57L786.53 434.16L786.72 433.04L786.88 432.06L787.12 430.93L787.32 429.95L787.57 429.25L787.77 428.69L788 428.26L788.22 427.84Z" fill="#000000"/><path d="M797.76 415.81L797.99 416.23L798.21 416.65L798.41 417.22L798.66 417.92L798.87 418.9L799.1 420.02L799.26 421.01L799.45 422.13L799.59 423.53L799.74 424.94L799.88 426.62L800.03 428.45L800.14 430.55L800.26 432.66L800.36 435.47L800.48 438.98L800.56 442.49L800.65 446.7L800.7 452.32L800.75 457.93L800.75 467.76L800.79 478.99L800.82 500.06L800.85 521.12L800.87 534.18L800.96 536.38L801.08 538.59L801.25 540.79L801.46 542.99L801.72 545.2L802.03 547.4L802.39 549.61L802.81 551.81L803.28 554.01L803.81 556.22L791.31 556.22L791.84 554.01L792.31 551.81L792.73 549.61L793.09 547.4L793.4 545.2L793.66 542.99L793.87 540.79L794.04 538.59L794.16 536.38L794.25 534.18L794.27 521.12L794.3 500.06L794.34 478.99L794.37 467.76L794.38 457.93L794.43 452.32L794.48 446.7L794.57 442.49L794.64 438.98L794.77 435.47L794.87 432.66L794.98 430.55L795.1 428.45L795.25 426.62L795.39 424.94L795.53 423.53L795.68 422.13L795.86 421.01L796.02 420.02L796.26 418.9L796.46 417.92L796.71 417.22L796.91 416.65L797.14 416.23L797.36 415.81Z" fill="#009900"/><path d="M806.9 265.06L807.13 265.49L807.35 265.91L807.55 266.47L807.8 267.17L808.01 268.15L808.25 269.28L808.41 270.26L808.59 271.38L808.73 272.78L808.88 274.19L809.02 275.87L809.17 277.7L809.28 279.8L809.4 281.91L809.5 284.72L809.62 288.22L809.7 291.73L809.79 295.94L809.84 301.56L809.89 307.17L809.89 317L809.93 328.23L809.96 349.28L809.99 370.34L810.01 383.39L810.1 385.59L810.23 387.8L810.39 390L810.6 392.2L810.86 394.41L811.17 396.61L811.53 398.81L811.95 401.02L812.42 403.22L812.95 405.43L800.45 405.43L800.98 403.22L801.45 401.02L801.87 398.81L802.23 396.61L802.54 394.41L802.8 392.2L803.02 390L803.18 387.8L803.3 385.59L803.39 383.39L803.41 370.34L803.45 349.28L803.48 328.23L803.51 317L803.52 307.17L803.57 301.56L803.62 295.94L803.71 291.73L803.78 288.22L803.91 284.72L804.01 281.91L804.12 279.8L804.24 277.7L804.39 275.87L804.53 274.19L804.67 272.78L804.82 271.38L805 270.26L805.16 269.28L805.4 268.15L805.61 267.17L805.85 266.47L806.05 265.91L806.28 265.49L806.5 265.06Z" fill="#cc6600"/><path d="M816.04 428.48L816.27 428.9L816.49 429.32L816.69 429.88L816.94 430.58L817.15 431.56L817.39 432.68L817.55 433.66L817.73 434.77L817.88 436.17L818.02 437.57L818.16 439.25L818.31 441.06L818.42 443.16L818.54 445.26L818.64 448.05L818.76 451.55L818.84 455.04L818.93 459.23L818.98 464.82L819.03 470.41L819.03 480.2L819.06 491.38L819.1 512.34L819.13 533.31L819.15 546.27L819.24 548.47L819.36 550.67L819.53 552.87L819.74 555.06L820 557.26L820.31 559.46L820.67 561.66L821.09 563.85L821.56 566.05L822.09 568.25L809.59 568.25L810.12 566.05L810.6 563.85L811.01 561.66L811.38 559.46L811.69 557.26L811.95 555.06L812.16 552.87L812.32 550.67L812.45 548.47L812.54 546.27L812.56 533.31L812.59 512.34L812.62 491.38L812.66 480.2L812.66 470.41L812.71 464.82L812.76 459.23L812.85 455.04L812.93 451.55L813.05 448.05L813.15 445.26L813.26 443.16L813.38 441.06L813.53 439.25L813.67 437.57L813.81 436.17L813.96 434.77L814.14 433.66L814.3 432.68L814.54 431.56L814.75 430.58L815 429.88L815.19 429.32L815.42 428.9L815.64 428.48Z" fill="#000000"/><path d="M825.19 329.16L825.41 329.58L825.63 330L825.83 330.55L826.08 331.25L826.29 332.23L826.53 333.34L826.69 334.32L826.87 335.43L827.02 336.82L827.16 338.22L827.3 339.89L827.45 341.7L827.56 343.79L827.68 345.88L827.78 348.67L827.9 352.15L827.98 355.64L828.07 359.82L828.12 365.39L828.17 370.97L828.17 380.72L828.2 391.87L828.24 412.77L828.27 433.68L828.29 446.58L828.38 448.77L828.5 450.97L828.67 453.16L828.88 455.35L829.14 457.55L829.45 459.74L829.81 461.93L830.23 464.13L830.7 466.32L831.24 468.51L818.74 468.51L819.27 466.32L819.74 464.13L820.16 461.93L820.52 459.74L820.83 457.55L821.09 455.35L821.3 453.16L821.47 450.97L821.59 448.77L821.68 446.58L821.7 433.68L821.73 412.77L821.77 391.87L821.8 380.72L821.8 370.97L821.85 365.39L821.9 359.82L821.99 355.64L822.07 352.15L822.19 348.67L822.29 345.88L822.41 343.79L822.52 341.7L822.67 339.89L822.81 338.22L822.95 336.82L823.1 335.43L823.28 334.32L823.44 333.34L823.68 332.23L823.89 331.25L824.14 330.55L824.34 330L824.56 329.58L824.78 329.16Z" fill="#0000ff"/><path d="M834.33 429.58L834.55 430L834.78 430.41L834.97 430.97L835.22 431.66L835.43 432.63L835.67 433.74L835.83 434.71L836.01 435.82L836.16 437.21L836.3 438.6L836.44 440.26L836.59 442.06L836.7 444.14L836.82 446.22L836.92 449L837.04 452.46L837.12 455.93L837.21 460.09L837.26 465.64L837.3 471.18L837.31 480.89L837.34 491.98L837.37 512.78L837.41 533.58L837.43 546.38L837.52 548.57L837.64 550.76L837.81 552.94L838.02 555.13L838.28 557.32L838.59 559.5L838.95 561.69L839.37 563.88L839.84 566.06L840.38 568.25L827.88 568.25L828.41 566.06L828.88 563.88L829.3 561.69L829.66 559.5L829.97 557.32L830.24 555.13L830.45 552.94L830.61 550.76L830.74 548.57L830.82 546.38L830.84 533.58L830.88 512.78L830.91 491.98L830.94 480.89L830.95 471.18L831 465.64L831.05 460.09L831.14 455.93L831.21 452.46L831.33 449L831.43 446.22L831.55 444.14L831.66 442.06L831.81 440.26L831.95 438.6L832.1 437.21L832.24 435.82L832.42 434.71L832.58 433.74L832.82 432.63L833.03 431.66L833.28 430.97L833.48 430.41L833.7 430L833.93 429.58Z" fill="#000000"/><path d="M843.47 429.76L843.69 430.18L843.92 430.6L844.12 431.15L844.36 431.84L844.57 432.81L844.81 433.92L844.97 434.89L845.15 436L845.3 437.38L845.44 438.77L845.58 440.43L845.73 442.23L845.84 444.31L845.96 446.38L846.06 449.15L846.18 452.61L846.26 456.08L846.35 460.23L846.4 465.77L846.44 471.31L846.45 481L846.48 492.08L846.51 512.86L846.55 533.63L846.57 546.4L846.66 548.59L846.78 550.77L846.95 552.96L847.16 555.14L847.42 557.33L847.73 559.51L848.09 561.7L848.51 563.88L848.99 566.07L849.52 568.25L837.02 568.25L837.55 566.07L838.02 563.88L838.44 561.7L838.81 559.51L839.12 557.33L839.38 555.14L839.59 552.96L839.75 550.77L839.88 548.59L839.97 546.4L839.99 533.63L840.02 512.86L840.05 492.08L840.09 481L840.09 471.31L840.14 465.77L840.19 460.23L840.28 456.08L840.35 452.61L840.47 449.15L840.57 446.38L840.69 444.31L840.81 442.23L840.95 440.43L841.09 438.77L841.24 437.38L841.38 436L841.56 434.89L841.72 433.92L841.96 432.81L842.17 431.84L842.42 431.15L842.62 430.6L842.84 430.18L843.07 429.76Z" fill="#000000"/><path d="M852.61 321.2L852.83 321.61L853.06 322.03L853.26 322.58L853.51 323.27L853.71 324.24L853.95 325.34L854.11 326.31L854.29 327.42L854.44 328.8L854.58 330.18L854.72 331.84L854.87 333.63L854.99 335.71L855.1 337.78L855.2 340.54L855.32 344L855.4 347.45L855.49 351.6L855.54 357.12L855.58 362.65L855.59 372.32L855.62 383.37L855.65 404.1L855.69 424.82L855.71 437.55L855.79 439.73L855.92 441.91L856.08 444.09L856.3 446.28L856.56 448.46L856.87 450.64L857.23 452.82L857.65 455L858.13 457.18L858.66 459.37L846.16 459.37L846.69 457.18L847.16 455L847.58 452.82L847.95 450.64L848.26 448.46L848.52 446.28L848.73 444.09L848.9 441.91L849.02 439.73L849.11 437.55L849.13 424.82L849.16 404.1L849.2 383.37L849.23 372.32L849.23 362.65L849.28 357.12L849.33 351.6L849.42 347.45L849.49 344L849.62 340.54L849.72 337.78L849.83 335.71L849.95 333.63L850.1 331.84L850.23 330.18L850.38 328.8L850.52 327.42L850.71 326.31L850.87 325.34L851.1 324.24L851.31 323.27L851.56 322.58L851.76 322.03L851.98 321.61L852.21 321.2Z" fill="#0000ff"/><path d="M861.75 430.5L861.97 430.91L862.2 431.32L862.4 431.87L862.65 432.56L862.85 433.53L863.09 434.63L863.25 435.59L863.43 436.7L863.58 438.07L863.72 439.45L863.86 441.1L864.01 442.89L864.13 444.96L864.24 447.03L864.34 449.78L864.46 453.23L864.54 456.67L864.63 460.8L864.68 466.31L864.72 471.82L864.73 481.47L864.76 492.49L864.79 513.15L864.82 533.81L864.84 546.47L864.93 548.65L865.06 550.83L865.22 553.01L865.44 555.18L865.7 557.36L866.01 559.54L866.37 561.72L866.79 563.89L867.27 566.07L867.8 568.25L855.3 568.25L855.83 566.07L856.31 563.89L856.73 561.72L857.09 559.54L857.4 557.36L857.66 555.18L857.87 553.01L858.04 550.83L858.17 548.65L858.25 546.47L858.27 533.81L858.31 513.15L858.34 492.49L858.37 481.47L858.37 471.82L858.42 466.31L858.47 460.8L858.56 456.67L858.64 453.23L858.76 449.78L858.86 447.03L858.97 444.96L859.09 442.89L859.24 441.1L859.37 439.45L859.52 438.07L859.66 436.7L859.85 435.59L860.01 434.63L860.24 433.53L860.45 432.56L860.7 431.87L860.9 431.32L861.12 430.91L861.35 430.5Z" fill="#000000"/><path d="M870.89 410.14L871.11 410.55L871.34 410.96L871.54 411.51L871.79 412.2L871.99 413.16L872.23 414.25L872.39 415.21L872.57 416.31L872.72 417.68L872.86 419.06L873 420.7L873.15 422.49L873.27 424.54L873.38 426.6L873.48 429.35L873.6 432.78L873.68 436.21L873.77 440.32L873.81 445.81L873.86 451.3L873.86 460.9L873.9 471.88L873.93 492.46L873.96 513.04L873.98 525.62L874.07 527.79L874.19 529.97L874.36 532.14L874.57 534.31L874.84 536.48L875.15 538.65L875.51 540.83L875.93 543L876.41 545.17L876.94 547.34L864.44 547.34L864.97 545.17L865.45 543L865.87 540.83L866.23 538.65L866.54 536.48L866.81 534.31L867.02 532.14L867.19 529.97L867.31 527.79L867.4 525.62L867.42 513.04L867.45 492.46L867.48 471.88L867.52 460.9L867.52 451.3L867.57 445.81L867.61 440.32L867.7 436.21L867.78 432.78L867.9 429.35L868 426.6L868.11 424.54L868.23 422.49L868.38 420.7L868.52 419.06L868.66 417.68L868.81 416.31L868.99 415.21L869.15 414.25L869.39 413.16L869.59 412.2L869.84 411.51L870.04 410.96L870.27 410.55L870.49 410.14Z" fill="#cc6600"/><path d="M880.03 221.92L880.26 222.33L880.48 222.74L880.68 223.29L880.93 223.98L881.14 224.94L881.37 226.03L881.53 226.99L881.72 228.09L881.86 229.46L882.01 230.83L882.14 232.47L882.29 234.25L882.41 236.31L882.52 238.37L882.62 241.11L882.74 244.53L882.82 247.96L882.91 252.07L882.95 257.55L883 263.03L883 272.62L883.04 283.58L883.07 304.14L883.1 324.69L883.12 337.24L883.21 339.41L883.33 341.58L883.5 343.75L883.71 345.92L883.98 348.09L884.29 350.26L884.65 352.43L885.07 354.6L885.55 356.77L886.08 358.94L873.58 358.94L874.11 356.77L874.59 354.6L875.01 352.43L875.37 350.26L875.69 348.09L875.95 345.92L876.16 343.75L876.33 341.58L876.45 339.41L876.54 337.24L876.56 324.69L876.59 304.14L876.63 283.58L876.66 272.62L876.66 263.03L876.71 257.55L876.76 252.07L876.84 247.96L876.92 244.53L877.04 241.11L877.14 238.37L877.25 236.31L877.37 234.25L877.52 232.47L877.66 230.83L877.8 229.46L877.95 228.09L878.13 226.99L878.29 226.03L878.53 224.94L878.73 223.98L878.98 223.29L879.18 222.74L879.41 222.33L879.63 221.92Z" fill="#cc6600"/><path d="M889.17 431.59L889.4 432L889.62 432.41L889.82 432.96L890.07 433.64L890.28 434.6L890.51 435.69L890.67 436.65L890.86 437.74L891 439.11L891.15 440.48L891.28 442.12L891.43 443.89L891.55 445.94L891.66 447.99L891.76 450.73L891.88 454.14L891.96 457.56L892.05 461.66L892.09 467.13L892.14 472.59L892.14 482.16L892.17 493.09L892.21 513.59L892.24 534.09L892.26 546.58L892.35 548.75L892.47 550.92L892.64 553.08L892.85 555.25L893.11 557.42L893.43 559.58L893.79 561.75L894.21 563.92L894.69 566.08L895.22 568.25L882.72 568.25L883.26 566.08L883.73 563.92L884.15 561.75L884.52 559.58L884.83 557.42L885.09 555.25L885.3 553.08L885.47 550.92L885.59 548.75L885.68 546.58L885.7 534.09L885.74 513.59L885.77 493.09L885.8 482.16L885.8 472.59L885.85 467.13L885.9 461.66L885.99 457.56L886.06 454.14L886.18 450.73L886.28 447.99L886.4 445.94L886.51 443.89L886.66 442.12L886.8 440.48L886.94 439.11L887.09 437.74L887.27 436.65L887.43 435.69L887.67 434.6L887.87 433.64L888.12 432.96L888.32 432.41L888.55 432L888.77 431.59Z" fill="#000000"/><path d="M898.31 198.09L898.54 198.5L898.76 198.91L898.96 199.45L899.21 200.13L899.42 201.09L899.65 202.18L899.81 203.14L900 204.23L900.14 205.6L900.29 206.96L900.42 208.6L900.57 210.37L900.69 212.42L900.8 214.47L900.9 217.2L901.02 220.61L901.1 224.03L901.19 228.12L901.23 233.58L901.28 239.04L901.28 248.6L901.31 259.52L901.35 280L901.38 300.48L901.4 312.95L901.49 315.12L901.61 317.28L901.78 319.45L901.99 321.61L902.26 323.78L902.57 325.94L902.93 328.11L903.35 330.27L903.83 332.44L904.36 334.6L891.86 334.6L892.4 332.44L892.87 330.27L893.29 328.11L893.66 325.94L893.97 323.78L894.23 321.61L894.45 319.45L894.61 317.28L894.74 315.12L894.82 312.95L894.84 300.48L894.88 280L894.91 259.52L894.94 248.6L894.94 239.04L894.99 233.58L895.04 228.12L895.13 224.03L895.2 220.61L895.32 217.2L895.42 214.47L895.54 212.42L895.65 210.37L895.8 208.6L895.94 206.96L896.08 205.6L896.23 204.23L896.41 203.14L896.57 202.18L896.81 201.09L897.02 200.13L897.26 199.45L897.46 198.91L897.69 198.5L897.91 198.09Z" fill="#cc6600"/><path d="M907.45 340.46L907.68 340.87L907.9 341.28L908.1 341.83L908.35 342.51L908.56 343.46L908.8 344.55L908.96 345.51L909.14 346.6L909.28 347.96L909.43 349.33L909.57 350.97L909.71 352.74L909.83 354.79L909.94 356.83L910.04 359.56L910.16 362.97L910.24 366.38L910.33 370.47L910.38 375.93L910.42 381.39L910.42 390.94L910.46 401.85L910.49 422.32L910.52 442.78L910.54 455.24L910.63 457.41L910.75 459.57L910.92 461.74L911.13 463.9L911.4 466.07L911.71 468.23L912.07 470.39L912.49 472.56L912.97 474.72L913.5 476.89L901 476.89L901.54 474.72L902.01 472.56L902.43 470.39L902.8 468.23L903.11 466.07L903.37 463.9L903.59 461.74L903.75 459.57L903.88 457.41L903.97 455.24L903.99 442.78L904.02 422.32L904.05 401.85L904.08 390.94L904.09 381.39L904.13 375.93L904.18 370.47L904.27 366.38L904.34 362.97L904.47 359.56L904.56 356.83L904.68 354.79L904.79 352.74L904.94 350.97L905.08 349.33L905.22 347.96L905.37 346.6L905.55 345.51L905.71 344.55L905.95 343.46L906.16 342.51L906.41 341.83L906.6 341.28L906.83 340.87L907.05 340.46Z" fill="#cc6600"/><path d="M916.6 370.52L916.82 370.93L917.04 371.34L917.24 371.88L917.49 372.56L917.7 373.51L917.94 374.6L918.1 375.56L918.28 376.65L918.42 378.01L918.57 379.37L918.71 381.01L918.85 382.78L918.97 384.82L919.09 386.86L919.18 389.59L919.31 392.99L919.38 396.4L919.47 400.48L919.52 405.93L919.56 411.38L919.56 420.91L919.6 431.81L919.63 452.24L919.66 472.67L919.68 485.1L919.77 487.26L919.89 489.42L920.06 491.58L920.27 493.74L920.54 495.91L920.85 498.07L921.21 500.23L921.63 502.39L922.11 504.55L922.64 506.72L910.14 506.72L910.68 504.55L911.16 502.39L911.58 500.23L911.94 498.07L912.25 495.91L912.52 493.74L912.73 491.58L912.9 489.42L913.02 487.26L913.11 485.1L913.13 472.67L913.16 452.24L913.19 431.81L913.23 420.91L913.23 411.38L913.27 405.93L913.32 400.48L913.41 396.4L913.48 392.99L913.61 389.59L913.7 386.86L913.82 384.82L913.94 382.78L914.08 381.01L914.22 379.37L914.37 378.01L914.51 376.65L914.69 375.56L914.85 374.6L915.09 373.51L915.3 372.56L915.55 371.88L915.75 371.34L915.97 370.93L916.19 370.52Z" fill="#0000ff"/><path d="M925.74 432.69L925.96 433.1L926.19 433.51L926.38 434.05L926.63 434.73L926.84 435.68L927.08 436.76L927.24 437.71L927.42 438.79L927.57 440.15L927.71 441.5L927.85 443.13L927.99 444.89L928.11 446.93L928.23 448.96L928.32 451.67L928.44 455.06L928.52 458.45L928.61 462.52L928.65 467.94L928.7 473.36L928.7 482.85L928.73 493.69L928.77 514.03L928.8 534.36L928.82 546.69L928.91 548.85L929.03 551.01L929.2 553.16L929.41 555.32L929.67 557.47L929.99 559.63L930.35 561.78L930.77 563.94L931.25 566.09L931.79 568.25L919.29 568.25L919.82 566.09L920.3 563.94L920.72 561.78L921.08 559.63L921.4 557.47L921.66 555.32L921.87 553.16L922.04 551.01L922.17 548.85L922.25 546.69L922.27 534.36L922.31 514.03L922.34 493.69L922.37 482.85L922.37 473.36L922.42 467.94L922.47 462.52L922.55 458.45L922.63 455.06L922.75 451.67L922.85 448.96L922.96 446.93L923.08 444.89L923.23 443.13L923.36 441.5L923.51 440.15L923.65 438.79L923.83 437.71L923.99 436.76L924.23 435.68L924.44 434.73L924.69 434.05L924.89 433.51L925.11 433.1L925.34 432.69Z" fill="#000000"/><path d="M934.88 433.1L935.1 433.51L935.33 433.92L935.53 434.46L935.77 435.13L935.98 436.08L936.22 437.16L936.38 438.1L936.56 439.19L936.71 440.54L936.85 441.89L936.99 443.51L937.14 445.27L937.25 447.29L937.37 449.32L937.46 452.02L937.59 455.4L937.66 458.78L937.75 462.84L937.79 468.24L937.84 473.65L937.84 483.11L937.87 493.92L937.9 514.19L937.94 534.46L937.96 546.74L938.05 548.89L938.17 551.04L938.34 553.19L938.55 555.34L938.81 557.49L939.13 559.64L939.49 561.8L939.91 563.95L940.39 566.1L940.93 568.25L928.43 568.25L928.96 566.1L929.44 563.95L929.86 561.8L930.23 559.64L930.54 557.49L930.8 555.34L931.02 553.19L931.18 551.04L931.31 548.89L931.4 546.74L931.42 534.46L931.45 514.19L931.48 493.92L931.51 483.11L931.51 473.65L931.56 468.24L931.61 462.84L931.7 458.78L931.77 455.4L931.89 452.02L931.99 449.32L932.1 447.29L932.22 445.27L932.37 443.51L932.5 441.89L932.65 440.54L932.79 439.19L932.98 438.1L933.14 437.16L933.37 436.08L933.58 435.13L933.83 434.46L934.03 433.92L934.25 433.51L934.48 433.1Z" fill="#000000"/><path d="M944.02 234.55L944.24 234.95L944.47 235.36L944.67 235.9L944.91 236.57L945.12 237.51L945.36 238.59L945.52 239.53L945.7 240.61L945.85 241.95L945.99 243.3L946.13 244.91L946.28 246.66L946.39 248.68L946.51 250.7L946.6 253.39L946.72 256.76L946.8 260.12L946.89 264.16L946.93 269.54L946.98 274.93L946.98 284.35L947.01 295.12L947.04 315.31L947.07 335.5L947.09 347.69L947.18 349.83L947.31 351.98L947.48 354.12L947.69 356.27L947.95 358.42L948.27 360.56L948.63 362.71L949.05 364.85L949.53 367L950.07 369.15L937.57 369.15L938.1 367L938.58 364.85L939 362.71L939.37 360.56L939.68 358.42L939.95 356.27L940.16 354.12L940.33 351.98L940.45 349.83L940.54 347.69L940.56 335.5L940.59 315.31L940.63 295.12L940.66 284.35L940.66 274.93L940.7 269.54L940.75 264.16L940.84 260.12L940.91 256.76L941.03 253.39L941.13 250.7L941.24 248.68L941.36 246.66L941.51 244.91L941.64 243.3L941.79 241.95L941.93 240.61L942.12 239.53L942.28 238.59L942.51 237.51L942.72 236.57L942.97 235.9L943.17 235.36L943.39 234.95L943.62 234.55Z" fill="#cc6600"/><path d="M953.16 409.68L953.38 410.08L953.61 410.49L953.81 411.03L954.06 411.7L954.26 412.64L954.5 413.72L954.66 414.66L954.84 415.74L954.99 417.08L955.13 418.43L955.27 420.04L955.42 421.79L955.53 423.81L955.65 425.83L955.74 428.52L955.87 431.88L955.94 435.25L956.03 439.28L956.07 444.66L956.12 450.05L956.12 459.46L956.15 470.23L956.18 490.41L956.22 510.59L956.24 522.78L956.32 524.92L956.45 527.07L956.62 529.21L956.83 531.36L957.09 533.5L957.41 535.65L957.77 537.79L958.2 539.94L958.67 542.09L959.21 544.23L946.71 544.23L947.24 542.09L947.72 539.94L948.14 537.79L948.51 535.65L948.83 533.5L949.09 531.36L949.3 529.21L949.47 527.07L949.59 524.92L949.68 522.78L949.7 510.59L949.74 490.41L949.77 470.23L949.8 459.46L949.8 450.05L949.84 444.66L949.89 439.28L949.98 435.25L950.05 431.88L950.17 428.52L950.27 425.83L950.39 423.81L950.5 421.79L950.65 420.04L950.79 418.43L950.93 417.08L951.08 415.74L951.26 414.66L951.42 413.72L951.65 412.64L951.86 411.7L952.11 411.03L952.31 410.49L952.53 410.08L952.76 409.68Z" fill="#cc00ff"/></g>
<path d="M43.5 568.25V156.5H958V568.25" fill="none" stroke="#333" stroke-width="1"/>
<path d="M43 568.25H958.5" fill="none" stroke="#444" stroke-width="1.2"/>
<g opacity="0.999">
<text class="s" x="40.6" y="570.55" text-anchor="end" fill="#000">0 m</text><text class="s" x="40.6" y="524.8" text-anchor="end" fill="#000">1000 m</text><text class="s" x="40.6" y="479.05" text-anchor="end" fill="#000">2000 m</text><text class="s" x="40.6" y="433.3" text-anchor="end" fill="#000">3000 m</text><text class="s" x="40.6" y="387.55" text-anchor="end" fill="#000">4000 m</text><text class="s" x="40.6" y="341.8" text-anchor="end" fill="#000">5000 m</text><text class="s" x="40.6" y="296.05" text-anchor="end" fill="#000">6000 m</text><text class="s" x="40.6" y="250.3" text-anchor="end" fill="#000">7000 m</text><text class="s" x="40.6" y="204.55" text-anchor="end" fill="#000">8000 m</text><text class="s" x="40.6" y="158.8" text-anchor="end" fill="#000">9000 m</text>
<text class="s" transform="translate(51.9 154.1) rotate(-90)" fill="#dd8833">Mt Everest</text><text class="s" transform="translate(51.9 37.9) rotate(-90)" fill="#dd8833">8848 m</text><text class="s" transform="translate(61.04 154.1) rotate(-90)" fill="#0000ff">Aconcagua</text><text class="s" transform="translate(61.04 37.9) rotate(-90)" fill="#0000ff">6962 m</text><text class="s" transform="translate(70.18 154.1) rotate(-90)" fill="#0000ff">Denali</text><text class="s" transform="translate(70.18 37.9) rotate(-90)" fill="#0000ff">6144 m</text><text class="s" transform="translate(79.32 154.1) rotate(-90)" fill="#dd8833">Mt Kilimanjaro</text><text class="s" transform="translate(79.32 37.9) rotate(-90)" fill="#dd8833">5885 m</text><text class="s" transform="translate(88.46 154.1) rotate(-90)" fill="#0000ff">Pico Cristóbal Colón</text><text class="s" transform="translate(88.46 37.9) rotate(-90)" fill="#0000ff">5509 m</text><text class="s" transform="translate(97.61 154.1) rotate(-90)" fill="#0000ff">Mt Logan</text><text class="s" transform="translate(97.61 37.9) rotate(-90)" fill="#0000ff">5250 m</text><text class="s" transform="translate(106.75 154.1) rotate(-90)" fill="#0000ff">Pico de Orizaba</text><text class="s" transform="translate(106.75 37.9) rotate(-90)" fill="#0000ff">4922 m</text><text class="s" transform="translate(115.89 154.1) rotate(-90)" fill="#000000">Vinson Massif</text><text class="s" transform="translate(115.89 37.9) rotate(-90)" fill="#000000">4892 m</text><text class="s" transform="translate(115.89 571.8) rotate(-90)" text-anchor="end" fill="#000">Antarctica</text><text class="s" transform="translate(125.03 154.1) rotate(-90)" fill="#ff0000">Puncak Jaya</text><text class="s" transform="translate(125.03 37.9) rotate(-90)" fill="#ff0000">4884 m</text><text class="s" transform="translate(134.17 154.1) rotate(-90)" fill="#dd8833">Mt Elbrus</text><text class="s" transform="translate(134.17 37.9) rotate(-90)" fill="#dd8833">4741 m</text><text class="s" transform="translate(143.31 154.1) rotate(-90)" fill="#dd8833">Mont Blanc</text><text class="s" transform="translate(143.31 37.9) rotate(-90)" fill="#dd8833">4695 m</text><text class="s" transform="translate(152.45 154.1) rotate(-90)" fill="#dd8833">Mt Damavand</text><text class="s" transform="translate(152.45 37.9) rotate(-90)" fill="#dd8833">4667 m</text><text class="s" transform="translate(161.59 154.1) rotate(-90)" fill="#dd8833">Klyuchevskaya Sopka</text><text class="s" transform="translate(161.59 37.9) rotate(-90)" fill="#dd8833">4649 m</text><text class="s" transform="translate(170.73 154.1) rotate(-90)" fill="#dd8833">Nanga Parbat</text><text class="s" transform="translate(170.73 37.9) rotate(-90)" fill="#dd8833">4608 m</text><text class="s" transform="translate(179.87 154.1) rotate(-90)" fill="#000000">Mauna Kea</text><text class="s" transform="translate(179.87 37.9) rotate(-90)" fill="#000000">4205 m</text><text class="s" transform="translate(179.87 571.8) rotate(-90)" text-anchor="end" fill="#000">Hawaii island</text><text class="s" transform="translate(189.02 154.1) rotate(-90)" fill="#dd8833">Jengish Chokusu</text><text class="s" transform="translate(189.02 37.9) rotate(-90)" fill="#dd8833">4148 m</text><text class="s" transform="translate(198.16 154.1) rotate(-90)" fill="#0000ff">Chimborazo</text><text class="s" transform="translate(198.16 37.9) rotate(-90)" fill="#0000ff">4123 m</text><text class="s" transform="translate(207.3 154.1) rotate(-90)" fill="#dd8833">Bogda Peak</text><text class="s" transform="translate(207.3 37.9) rotate(-90)" fill="#dd8833">4122 m</text><text class="s" transform="translate(216.44 154.1) rotate(-90)" fill="#dd8833">Namcha Barwa</text><text class="s" transform="translate(216.44 37.9) rotate(-90)" fill="#dd8833">4106 m</text><text class="s" transform="translate(225.58 154.1) rotate(-90)" fill="#000000">Mt Kinabalu</text><text class="s" transform="translate(225.58 37.9) rotate(-90)" fill="#000000">4095 m</text><text class="s" transform="translate(225.58 571.8) rotate(-90)" text-anchor="end" fill="#000">Borneo</text><text class="s" transform="translate(234.72 154.1) rotate(-90)" fill="#0000ff">Mt Rainier</text><text class="s" transform="translate(234.72 37.9) rotate(-90)" fill="#0000ff">4023 m</text><text class="s" transform="translate(243.86 154.1) rotate(-90)" fill="#dd8833">K2</text><text class="s" transform="translate(243.86 37.9) rotate(-90)" fill="#dd8833">4017 m</text><text class="s" transform="translate(253 154.1) rotate(-90)" fill="#dd8833">Ras Dashen</text><text class="s" transform="translate(253 37.9) rotate(-90)" fill="#dd8833">3997 m</text><text class="s" transform="translate(262.14 154.1) rotate(-90)" fill="#0000ff">Volcán Tajumulco</text><text class="s" transform="translate(262.14 37.9) rotate(-90)" fill="#0000ff">3980 m</text><text class="s" transform="translate(271.28 154.1) rotate(-90)" fill="#0000ff">Pico Bolívar</text><text class="s" transform="translate(271.28 37.9) rotate(-90)" fill="#0000ff">3957 m</text><text class="s" transform="translate(280.42 154.1) rotate(-90)" fill="#0000ff">Mt Fairweather</text><text class="s" transform="translate(280.42 37.9) rotate(-90)" fill="#0000ff">3955 m</text><text class="s" transform="translate(289.57 154.1) rotate(-90)" fill="#000000">Yushan</text><text class="s" transform="translate(289.57 37.9) rotate(-90)" fill="#000000">3952 m</text><text class="s" transform="translate(289.57 571.8) rotate(-90)" text-anchor="end" fill="#000">Taiwan</text><text class="s" transform="translate(298.71 154.1) rotate(-90)" fill="#dd8833">Mt Stanley</text><text class="s" transform="translate(298.71 37.9) rotate(-90)" fill="#dd8833">3951 m</text><text class="s" transform="translate(307.85 154.1) rotate(-90)" fill="#dd8833">Kangchenjunga</text><text class="s" transform="translate(307.85 37.9) rotate(-90)" fill="#dd8833">3922 m</text><text class="s" transform="translate(316.99 154.1) rotate(-90)" fill="#dd8833">Tirich Mir</text><text class="s" transform="translate(316.99 37.9) rotate(-90)" fill="#dd8833">3908 m</text><text class="s" transform="translate(326.13 154.1) rotate(-90)" fill="#dd8833">Mt Cameroon</text><text class="s" transform="translate(326.13 37.9) rotate(-90)" fill="#dd8833">3901 m</text><text class="s" transform="translate(335.27 154.1) rotate(-90)" fill="#dd8833">Mt Kenya</text><text class="s" transform="translate(335.27 37.9) rotate(-90)" fill="#dd8833">3825 m</text><text class="s" transform="translate(344.41 154.1) rotate(-90)" fill="#cc00ff">Mt Kerinci</text><text class="s" transform="translate(344.41 37.9) rotate(-90)" fill="#cc00ff">3805 m</text><text class="s" transform="translate(353.55 154.1) rotate(-90)" fill="#000000">Mt Erebus</text><text class="s" transform="translate(353.55 37.9) rotate(-90)" fill="#000000">3794 m</text><text class="s" transform="translate(353.55 571.8) rotate(-90)" text-anchor="end" fill="#000">Ross Island</text><text class="s" transform="translate(362.69 154.1) rotate(-90)" fill="#000000">Mt Fuji</text><text class="s" transform="translate(362.69 37.9) rotate(-90)" fill="#000000">3776 m</text><text class="s" transform="translate(362.69 571.8) rotate(-90)" text-anchor="end" fill="#000">Honshu</text><text class="s" transform="translate(371.83 154.1) rotate(-90)" fill="#dd8833">Toubkal</text><text class="s" transform="translate(371.83 37.9) rotate(-90)" fill="#dd8833">3757 m</text><text class="s" transform="translate(380.98 154.1) rotate(-90)" fill="#0000ff">Cerro Chirripó</text><text class="s" transform="translate(380.98 37.9) rotate(-90)" fill="#0000ff">3727 m</text><text class="s" transform="translate(390.12 154.1) rotate(-90)" fill="#000000">Mt Rinjani</text><text class="s" transform="translate(390.12 37.9) rotate(-90)" fill="#000000">3726 m</text><text class="s" transform="translate(390.12 571.8) rotate(-90)" text-anchor="end" fill="#000">Lombok</text><text class="s" transform="translate(399.26 154.1) rotate(-90)" fill="#000000">Aoraki</text><text class="s" transform="translate(399.26 37.9) rotate(-90)" fill="#000000">3724 m</text><text class="s" transform="translate(399.26 571.8) rotate(-90)" text-anchor="end" fill="#000">South Island</text><text class="s" transform="translate(408.4 154.1) rotate(-90)" fill="#000000">Teide</text><text class="s" transform="translate(408.4 37.9) rotate(-90)" fill="#000000">3718 m</text><text class="s" transform="translate(408.4 571.8) rotate(-90)" text-anchor="end" fill="#000">Tenerife</text><text class="s" transform="translate(417.54 154.1) rotate(-90)" fill="#ff0000">Finisterre Range HP</text><text class="s" transform="translate(417.54 37.9) rotate(-90)" fill="#ff0000">3709 m</text><text class="s" transform="translate(426.68 154.1) rotate(-90)" fill="#0000ff">Monte San Valentin</text><text class="s" transform="translate(426.68 37.9) rotate(-90)" fill="#0000ff">3696 m</text><text class="s" transform="translate(435.82 154.1) rotate(-90)" fill="#000000">Gunnbjørn Fjeld</text><text class="s" transform="translate(435.82 37.9) rotate(-90)" fill="#000000">3694 m</text><text class="s" transform="translate(435.82 571.8) rotate(-90)" text-anchor="end" fill="#000">Greenland</text><text class="s" transform="translate(444.96 154.1) rotate(-90)" fill="#0000ff">Ojos del Salado</text><text class="s" transform="translate(444.96 37.9) rotate(-90)" fill="#0000ff">3688 m</text><text class="s" transform="translate(454.1 154.1) rotate(-90)" fill="#009900">Semeru</text><text class="s" transform="translate(454.1 37.9) rotate(-90)" fill="#009900">3676 m</text><text class="s" transform="translate(463.25 154.1) rotate(-90)" fill="#0000ff">Ritacuba Blanco</text><text class="s" transform="translate(463.25 37.9) rotate(-90)" fill="#0000ff">3645 m</text><text class="s" transform="translate(472.39 154.1) rotate(-90)" fill="#dd8833">Mt Gongga</text><text class="s" transform="translate(472.39 37.9) rotate(-90)" fill="#dd8833">3642 m</text><text class="s" transform="translate(481.53 154.1) rotate(-90)" fill="#dd8833">Mt Ararat</text><text class="s" transform="translate(481.53 37.9) rotate(-90)" fill="#dd8833">3611 m</text><text class="s" transform="translate(490.67 154.1) rotate(-90)" fill="#dd8833">Kongur Tagh</text><text class="s" transform="translate(490.67 37.9) rotate(-90)" fill="#dd8833">3585 m</text><text class="s" transform="translate(499.81 154.1) rotate(-90)" fill="#0000ff">Mt Blackburn</text><text class="s" transform="translate(499.81 37.9) rotate(-90)" fill="#0000ff">3535 m</text><text class="s" transform="translate(508.95 154.1) rotate(-90)" fill="#0000ff">Mt Hayes</text><text class="s" transform="translate(508.95 37.9) rotate(-90)" fill="#0000ff">3501 m</text><text class="s" transform="translate(518.09 154.1) rotate(-90)" fill="#000000">Mt Rantemario</text><text class="s" transform="translate(518.09 37.9) rotate(-90)" fill="#000000">3478 m</text><text class="s" transform="translate(518.09 571.8) rotate(-90)" text-anchor="end" fill="#000">Sulawesi</text><text class="s" transform="translate(527.23 154.1) rotate(-90)" fill="#0000ff">Mt Saint Elias</text><text class="s" transform="translate(527.23 37.9) rotate(-90)" fill="#0000ff">3448 m</text><text class="s" transform="translate(536.37 154.1) rotate(-90)" fill="#dd8833">Ismoil Somoni Peak</text><text class="s" transform="translate(536.37 37.9) rotate(-90)" fill="#dd8833">3402 m</text><text class="s" transform="translate(545.51 154.1) rotate(-90)" fill="#dd8833">Dhaulagiri</text><text class="s" transform="translate(545.51 37.9) rotate(-90)" fill="#dd8833">3357 m</text><text class="s" transform="translate(554.65 154.1) rotate(-90)" fill="#0000ff">Mercedario</text><text class="s" transform="translate(554.65 37.9) rotate(-90)" fill="#0000ff">3353 m</text><text class="s" transform="translate(563.8 154.1) rotate(-90)" fill="#0000ff">Lautaro</text><text class="s" transform="translate(563.8 37.9) rotate(-90)" fill="#0000ff">3345 m</text><text class="s" transform="translate(572.94 154.1) rotate(-90)" fill="#dd8833">Belukha Mtn</text><text class="s" transform="translate(572.94 37.9) rotate(-90)" fill="#dd8833">3343 m</text><text class="s" transform="translate(582.08 154.1) rotate(-90)" fill="#000000">Mt Etna</text><text class="s" transform="translate(582.08 37.9) rotate(-90)" fill="#000000">3323 m</text><text class="s" transform="translate(582.08 571.8) rotate(-90)" text-anchor="end" fill="#000">Sicily</text><text class="s" transform="translate(591.22 154.1) rotate(-90)" fill="#0000ff">Monte San Lorenzo</text><text class="s" transform="translate(591.22 37.9) rotate(-90)" fill="#0000ff">3319 m</text><text class="s" transform="translate(600.36 154.1) rotate(-90)" fill="#dd8833">Mt Karisimbi</text><text class="s" transform="translate(600.36 37.9) rotate(-90)" fill="#dd8833">3312 m</text><text class="s" transform="translate(609.5 154.1) rotate(-90)" fill="#dd8833">Jabal an Nabi Shu'ayb</text><text class="s" transform="translate(609.5 37.9) rotate(-90)" fill="#dd8833">3311 m</text><text class="s" transform="translate(618.64 154.1) rotate(-90)" fill="#0000ff">Mt Waddington</text><text class="s" transform="translate(618.64 37.9) rotate(-90)" fill="#0000ff">3289 m</text><text class="s" transform="translate(627.78 154.1) rotate(-90)" fill="#dd8833">Mulhacén</text><text class="s" transform="translate(627.78 37.9) rotate(-90)" fill="#dd8833">3285 m</text><text class="s" transform="translate(636.92 154.1) rotate(-90)" fill="#009900">Mt Slamet</text><text class="s" transform="translate(636.92 37.9) rotate(-90)" fill="#009900">3284 m</text><text class="s" transform="translate(646.06 154.1) rotate(-90)" fill="#dd8833">Sabalan</text><text class="s" transform="translate(646.06 37.9) rotate(-90)" fill="#dd8833">3283 m</text><text class="s" transform="translate(655.21 154.1) rotate(-90)" fill="#0000ff">Mt Marcus Baker</text><text class="s" transform="translate(655.21 37.9) rotate(-90)" fill="#0000ff">3269 m</text><text class="s" transform="translate(664.35 154.1) rotate(-90)" fill="#dd8833">Sauyr Zhotasy</text><text class="s" transform="translate(664.35 37.9) rotate(-90)" fill="#dd8833">3252 m</text><text class="s" transform="translate(673.49 154.1) rotate(-90)" fill="#0000ff">Cerro del Bolsón</text><text class="s" transform="translate(673.49 37.9) rotate(-90)" fill="#0000ff">3252 m</text><text class="s" transform="translate(682.63 154.1) rotate(-90)" fill="#dd8833">Tomort</text><text class="s" transform="translate(682.63 37.9) rotate(-90)" fill="#dd8833">3243 m</text><text class="s" transform="translate(691.77 154.1) rotate(-90)" fill="#dd8833">Jade Dragon Snow Mtn</text><text class="s" transform="translate(691.77 37.9) rotate(-90)" fill="#dd8833">3202 m</text><text class="s" transform="translate(700.91 154.1) rotate(-90)" fill="#dd8833">Mt Meru</text><text class="s" transform="translate(700.91 37.9) rotate(-90)" fill="#dd8833">3170 m</text><text class="s" transform="translate(710.05 154.1) rotate(-90)" fill="#dd8833">Shiveluch</text><text class="s" transform="translate(710.05 37.9) rotate(-90)" fill="#dd8833">3168 m</text><text class="s" transform="translate(719.19 154.1) rotate(-90)" fill="#dd8833">Nanda Devi</text><text class="s" transform="translate(719.19 37.9) rotate(-90)" fill="#dd8833">3139 m</text><text class="s" transform="translate(728.33 154.1) rotate(-90)" fill="#dd8833">Ichinsky</text><text class="s" transform="translate(728.33 37.9) rotate(-90)" fill="#dd8833">3125 m</text><text class="s" transform="translate(737.48 154.1) rotate(-90)" fill="#009900">Mt Lawu</text><text class="s" transform="translate(737.48 37.9) rotate(-90)" fill="#009900">3118 m</text><text class="s" transform="translate(746.62 154.1) rotate(-90)" fill="#dd8833">Batura Sar</text><text class="s" transform="translate(746.62 37.9) rotate(-90)" fill="#dd8833">3118 m</text><text class="s" transform="translate(755.76 154.1) rotate(-90)" fill="#000000">Mt Siple</text><text class="s" transform="translate(755.76 37.9) rotate(-90)" fill="#000000">3110 m</text><text class="s" transform="translate(755.76 571.8) rotate(-90)" text-anchor="end" fill="#000">Siple Island</text><text class="s" transform="translate(764.9 154.1) rotate(-90)" fill="#000000">Pico Duarte</text><text class="s" transform="translate(764.9 37.9) rotate(-90)" fill="#000000">3098 m</text><text class="s" transform="translate(764.9 571.8) rotate(-90)" text-anchor="end" fill="#000">Hispaniola</text><text class="s" transform="translate(774.04 154.1) rotate(-90)" fill="#dd8833">Manaslu</text><text class="s" transform="translate(774.04 37.9) rotate(-90)" fill="#dd8833">3092 m</text><text class="s" transform="translate(783.18 154.1) rotate(-90)" fill="#0000ff">Mt Whitney</text><text class="s" transform="translate(783.18 37.9) rotate(-90)" fill="#0000ff">3073 m</text><text class="s" transform="translate(792.32 154.1) rotate(-90)" fill="#000000">Piton des Neiges</text><text class="s" transform="translate(792.32 37.9) rotate(-90)" fill="#000000">3069 m</text><text class="s" transform="translate(792.32 571.8) rotate(-90)" text-anchor="end" fill="#000">Réunion</text><text class="s" transform="translate(801.46 154.1) rotate(-90)" fill="#009900">Raung</text><text class="s" transform="translate(801.46 37.9) rotate(-90)" fill="#009900">3069 m</text><text class="s" transform="translate(810.6 154.1) rotate(-90)" fill="#dd8833">Xuelian Feng</text><text class="s" transform="translate(810.6 37.9) rotate(-90)" fill="#dd8833">3068 m</text><text class="s" transform="translate(819.74 154.1) rotate(-90)" fill="#000000">Haleakala</text><text class="s" transform="translate(819.74 37.9) rotate(-90)" fill="#000000">3055 m</text><text class="s" transform="translate(819.74 571.8) rotate(-90)" text-anchor="end" fill="#000">Maui</text><text class="s" transform="translate(828.88 154.1) rotate(-90)" fill="#0000ff">Mt Lucania</text><text class="s" transform="translate(828.88 37.9) rotate(-90)" fill="#0000ff">3046 m</text><text class="s" transform="translate(838.03 154.1) rotate(-90)" fill="#000000">Mt Agung</text><text class="s" transform="translate(838.03 37.9) rotate(-90)" fill="#000000">3031 m</text><text class="s" transform="translate(838.03 571.8) rotate(-90)" text-anchor="end" fill="#000">Bali</text><text class="s" transform="translate(847.17 154.1) rotate(-90)" fill="#000000">Mt Binaiya</text><text class="s" transform="translate(847.17 37.9) rotate(-90)" fill="#000000">3027 m</text><text class="s" transform="translate(847.17 571.8) rotate(-90)" text-anchor="end" fill="#000">Ceram</text><text class="s" transform="translate(856.31 154.1) rotate(-90)" fill="#0000ff">Popocatépetl</text><text class="s" transform="translate(856.31 37.9) rotate(-90)" fill="#0000ff">3020 m</text><text class="s" transform="translate(865.45 154.1) rotate(-90)" fill="#000000">Pico Basilé</text><text class="s" transform="translate(865.45 37.9) rotate(-90)" fill="#000000">3011 m</text><text class="s" transform="translate(865.45 571.8) rotate(-90)" text-anchor="end" fill="#000">Bioco</text><text class="s" transform="translate(874.59 154.1) rotate(-90)" fill="#dd8833">Koryaksky</text><text class="s" transform="translate(874.59 37.9) rotate(-90)" fill="#dd8833">2999 m</text><text class="s" transform="translate(883.73 154.1) rotate(-90)" fill="#dd8833">Gangkhar Puensum</text><text class="s" transform="translate(883.73 37.9) rotate(-90)" fill="#dd8833">2995 m</text><text class="s" transform="translate(892.87 154.1) rotate(-90)" fill="#000000">Mt Stephenson</text><text class="s" transform="translate(892.87 37.9) rotate(-90)" fill="#000000">2987 m</text><text class="s" transform="translate(892.87 571.8) rotate(-90)" text-anchor="end" fill="#000">Alexander Island</text><text class="s" transform="translate(902.01 154.1) rotate(-90)" fill="#dd8833">Annapurna</text><text class="s" transform="translate(902.01 37.9) rotate(-90)" fill="#dd8833">2984 m</text><text class="s" transform="translate(911.15 154.1) rotate(-90)" fill="#dd8833">Pik Talgar</text><text class="s" transform="translate(911.15 37.9) rotate(-90)" fill="#dd8833">2982 m</text><text class="s" transform="translate(920.29 154.1) rotate(-90)" fill="#0000ff">Mt Shasta</text><text class="s" transform="translate(920.29 37.9) rotate(-90)" fill="#0000ff">2977 m</text><text class="s" transform="translate(929.44 154.1) rotate(-90)" fill="#000000">Pico do Ramelau</text><text class="s" transform="translate(929.44 37.9) rotate(-90)" fill="#000000">2963 m</text><text class="s" transform="translate(929.44 571.8) rotate(-90)" text-anchor="end" fill="#000">Timor</text><text class="s" transform="translate(938.58 154.1) rotate(-90)" fill="#000000">Mt Apo</text><text class="s" transform="translate(938.58 37.9) rotate(-90)" fill="#000000">2954 m</text><text class="s" transform="translate(938.58 571.8) rotate(-90)" text-anchor="end" fill="#000">Mindanao</text><text class="s" transform="translate(947.72 154.1) rotate(-90)" fill="#dd8833">Gyala Peri</text><text class="s" transform="translate(947.72 37.9) rotate(-90)" fill="#dd8833">2942 m</text><text class="s" transform="translate(956.86 154.1) rotate(-90)" fill="#cc00ff">Mt Leuser</text><text class="s" transform="translate(956.86 37.9) rotate(-90)" fill="#cc00ff">2941 m</text>
<text class="b" x="335.4" y="668.6" fill="#ff0000">New Guinea</text>
<text class="b" x="335.4" y="700.7" fill="#0000ff">The Americas</text>
<text class="b" x="380.6" y="759.8" fill="#d9822b">Afro-Eurasia</text>
<text class="b" x="741.9" y="668.5" fill="#009900">Java</text>
<text class="b" x="813.0" y="650.2" fill="#cc00ff">Sumatra</text>
</g>
</svg></body></html>
